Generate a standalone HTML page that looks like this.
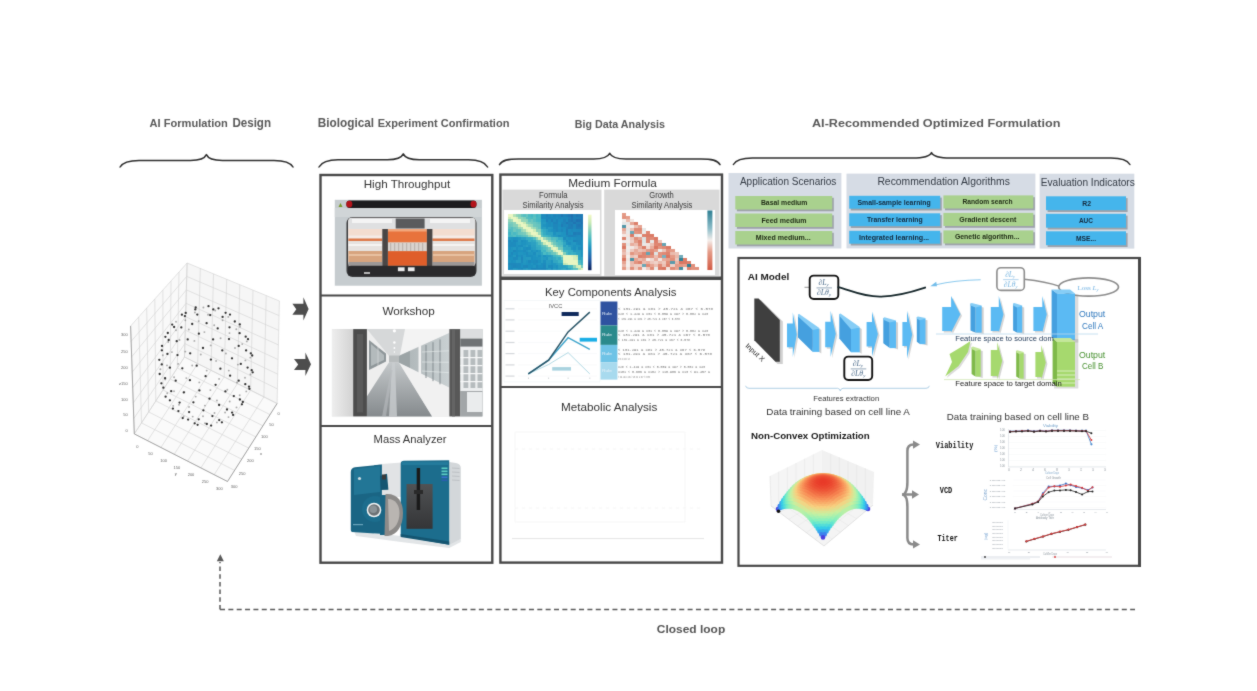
<!DOCTYPE html>
<html><head><meta charset="utf-8"><title>Closed-loop AI formulation</title>
<style>
html,body{margin:0;padding:0;background:#fff;width:1257px;height:691px;overflow:hidden;}
svg{display:block;}
</style></head><body>
<svg width="1257" height="691" viewBox="0 0 1257 691" font-family="'Liberation Sans', sans-serif">
<defs>
<filter id="blur1" x="-10%" y="-30%" width="120%" height="160%"><feGaussianBlur stdDeviation="0.7"/></filter>
<filter id="blur05" x="-10%" y="-10%" width="120%" height="120%"><feGaussianBlur stdDeviation="0.45"/></filter>
<filter id="blur03" x="-10%" y="-10%" width="120%" height="120%"><feGaussianBlur stdDeviation="0.3"/></filter>
<filter id="cblur" x="0" y="0" width="1257" height="691" filterUnits="userSpaceOnUse" color-interpolation-filters="sRGB"><feConvolveMatrix order="3" kernelMatrix="0.0225 0.0750 0.0225 0.0750 0.6100 0.0750 0.0225 0.0750 0.0225" edgeMode="duplicate"/></filter><filter id="gblur" x="0" y="0" width="100%" height="100%" filterUnits="userSpaceOnUse"><feGaussianBlur stdDeviation="0.0"/></filter></defs>
<rect width="1257" height="691" fill="#ffffff"/>
<g filter="url(#cblur)"><text x="149.6" y="126.6" font-size="11" font-weight="bold" fill="#595959" textLength="78.2" lengthAdjust="spacingAndGlyphs">AI Formulation</text>
<text x="232.4" y="126.6" font-size="12" font-weight="bold" fill="#595959" textLength="38.6" lengthAdjust="spacingAndGlyphs">Design</text>
<text x="317.7" y="126.6" font-size="12.2" font-weight="bold" fill="#595959" textLength="56.4" lengthAdjust="spacingAndGlyphs">Biological</text>
<text x="377.7" y="126.6" font-size="10.3" font-weight="bold" fill="#595959" textLength="131.7" lengthAdjust="spacingAndGlyphs">Experiment Confirmation</text>
<text x="574.8" y="127.5" font-size="11.8" font-weight="bold" fill="#595959" textLength="17.1" lengthAdjust="spacingAndGlyphs">Big</text>
<text x="595" y="127.5" font-size="10.2" font-weight="bold" fill="#595959" textLength="70" lengthAdjust="spacingAndGlyphs">Data Analysis</text>
<text x="812" y="127" font-size="11.8" font-weight="bold" fill="#595959" textLength="248.4" lengthAdjust="spacingAndGlyphs">AI-Recommended Optimized Formulation</text>
<path d="M120.1,167 C122.69999999999999,162.4 128.65,160.4 139.1,160.4 L190.4,160.4 C199.20000000000002,160.4 204.6,158.8 206.4,154.6 C208.20000000000002,158.8 213.6,160.4 222.4,160.4 L274,160.4 C284.45,160.4 290.4,162.4 293,167" fill="none" stroke="#2e2e2e" stroke-width="1.5" stroke-linecap="round" stroke-linejoin="round"/>
<path d="M319,167 C321.6,162.4 327.55,159.8 338,159.8 L387.3,159.8 C396.1,159.8 401.5,158.20000000000002 403.3,153.9 C405.1,158.20000000000002 410.5,159.8 419.3,159.8 L468.6,159.8 C479.05,159.8 485.0,162.4 487.6,167" fill="none" stroke="#2e2e2e" stroke-width="1.5" stroke-linecap="round" stroke-linejoin="round"/>
<path d="M499.5,164.6 C502.1,160.0 508.05,159 518.5,159 L593.7,159 C602.5,159 607.9000000000001,157.4 609.7,153.3 C611.5,157.4 616.9000000000001,159 625.7,159 L701,159 C711.45,159 717.4,160.0 720,164.6" fill="none" stroke="#2e2e2e" stroke-width="1.5" stroke-linecap="round" stroke-linejoin="round"/>
<path d="M733.4,164.5 C736.0,159.9 741.9499999999999,158.1 752.4,158.1 L912.5,158.1 C922.95,158.1 929.7,156.5 931.5,152.6 C933.3,156.5 940.05,158.1 950.5,158.1 L1110.9,158.1 C1121.3500000000001,158.1 1127.3000000000002,159.9 1129.9,164.5" fill="none" stroke="#2e2e2e" stroke-width="1.5" stroke-linecap="round" stroke-linejoin="round"/>
<rect x="728.5" y="173" width="112.9" height="75.5" fill="#d6dce5"/>
<rect x="846.5" y="173.6" width="188.9" height="74.8" fill="#d6dce5"/>
<rect x="1039.6" y="173.7" width="94.7" height="74.9" fill="#d6dce5"/>
<text x="739.9" y="184.6" font-size="10" fill="#333a44" textLength="96.5" lengthAdjust="spacingAndGlyphs">Application Scenarios</text>
<text x="877.4" y="184.7" font-size="10" fill="#333a44" textLength="132.5" lengthAdjust="spacingAndGlyphs">Recommendation Algorithms</text>
<text x="1040.7" y="185.6" font-size="10" fill="#333a44" textLength="94.1" lengthAdjust="spacingAndGlyphs">Evaluation Indicators</text>
<rect x="736.9" y="197.8" width="96.90000000000009" height="13.5" fill="#8a8f96" opacity="0.75" filter="url(#blur1)"/>
<rect x="735.3" y="196" width="96.90000000000009" height="13.5" fill="#a9d18e"/>
<text x="760.9" y="205.05" font-size="6.4" font-weight="bold" fill="#1e2a14" textLength="46.5" lengthAdjust="spacingAndGlyphs">Basal medium</text>
<rect x="736.9" y="215.3" width="96.90000000000009" height="13.5" fill="#8a8f96" opacity="0.75" filter="url(#blur1)"/>
<rect x="735.3" y="213.5" width="96.90000000000009" height="13.5" fill="#a9d18e"/>
<text x="761.5" y="222.55" font-size="6.4" font-weight="bold" fill="#1e2a14" textLength="45.1" lengthAdjust="spacingAndGlyphs">Feed medium</text>
<rect x="736.9" y="232.8" width="96.90000000000009" height="13.5" fill="#8a8f96" opacity="0.75" filter="url(#blur1)"/>
<rect x="735.3" y="231" width="96.90000000000009" height="13.5" fill="#a9d18e"/>
<text x="755.8" y="240.05" font-size="6.4" font-weight="bold" fill="#1e2a14" textLength="54.8" lengthAdjust="spacingAndGlyphs">Mixed medium...</text>
<rect x="850.8000000000001" y="197.60000000000002" width="91.0" height="12.899999999999977" fill="#8a8f96" opacity="0.75" filter="url(#blur1)"/>
<rect x="849.2" y="195.8" width="91.0" height="12.899999999999977" fill="#45b5ec"/>
<text x="857.5" y="204.55" font-size="6.4" font-weight="bold" fill="#13293d" textLength="73.2" lengthAdjust="spacingAndGlyphs">Small-sample learning</text>
<rect x="850.8000000000001" y="215.10000000000002" width="91.0" height="12.899999999999977" fill="#8a8f96" opacity="0.75" filter="url(#blur1)"/>
<rect x="849.2" y="213.3" width="91.0" height="12.899999999999977" fill="#45b5ec"/>
<text x="867" y="222.05" font-size="6.4" font-weight="bold" fill="#13293d" textLength="55.7" lengthAdjust="spacingAndGlyphs">Transfer learning</text>
<rect x="850.8000000000001" y="232.60000000000002" width="91.0" height="12.899999999999977" fill="#8a8f96" opacity="0.75" filter="url(#blur1)"/>
<rect x="849.2" y="230.8" width="91.0" height="12.899999999999977" fill="#45b5ec"/>
<text x="859.1" y="239.55" font-size="6.4" font-weight="bold" fill="#13293d" textLength="70" lengthAdjust="spacingAndGlyphs">Integrated learning...</text>
<rect x="945.0" y="197.20000000000002" width="89.89999999999998" height="13.099999999999994" fill="#8a8f96" opacity="0.75" filter="url(#blur1)"/>
<rect x="943.4" y="195.4" width="89.89999999999998" height="13.099999999999994" fill="#a9d18e"/>
<text x="962.5" y="204.25" font-size="6.4" font-weight="bold" fill="#1e2a14" textLength="50.1" lengthAdjust="spacingAndGlyphs">Random search</text>
<rect x="945.0" y="214.70000000000002" width="89.89999999999998" height="13.099999999999994" fill="#8a8f96" opacity="0.75" filter="url(#blur1)"/>
<rect x="943.4" y="212.9" width="89.89999999999998" height="13.099999999999994" fill="#a9d18e"/>
<text x="959.3" y="221.75" font-size="6.4" font-weight="bold" fill="#1e2a14" textLength="57" lengthAdjust="spacingAndGlyphs">Gradient descent</text>
<rect x="945.0" y="232.20000000000002" width="89.89999999999998" height="13.099999999999994" fill="#8a8f96" opacity="0.75" filter="url(#blur1)"/>
<rect x="943.4" y="230.4" width="89.89999999999998" height="13.099999999999994" fill="#a9d18e"/>
<text x="954.9" y="239.25" font-size="6.4" font-weight="bold" fill="#1e2a14" textLength="64.6" lengthAdjust="spacingAndGlyphs">Genetic algorithm...</text>
<rect x="1047.6" y="198.10000000000002" width="80" height="13.899999999999977" fill="#8a8f96" opacity="0.75" filter="url(#blur1)"/>
<rect x="1046" y="196.3" width="80" height="13.899999999999977" fill="#45b5ec"/>
<text x="1082.3" y="205.55" font-size="6.4" font-weight="bold" fill="#13293d" textLength="8.8" lengthAdjust="spacingAndGlyphs">R2</text>
<rect x="1047.6" y="215.60000000000002" width="80" height="13.899999999999977" fill="#8a8f96" opacity="0.75" filter="url(#blur1)"/>
<rect x="1046" y="213.8" width="80" height="13.899999999999977" fill="#45b5ec"/>
<text x="1078.9" y="223.05" font-size="6.4" font-weight="bold" fill="#13293d" textLength="14.1" lengthAdjust="spacingAndGlyphs">AUC</text>
<rect x="1047.6" y="233.10000000000002" width="80" height="13.899999999999977" fill="#8a8f96" opacity="0.75" filter="url(#blur1)"/>
<rect x="1046" y="231.3" width="80" height="13.899999999999977" fill="#45b5ec"/>
<text x="1076" y="240.55" font-size="6.4" font-weight="bold" fill="#13293d" textLength="20.1" lengthAdjust="spacingAndGlyphs">MSE...</text>
<rect x="320.5" y="175" width="171.8" height="387.7" fill="none" stroke="#484848" stroke-width="2.4"/>
<line x1="320.5" y1="295.5" x2="492.3" y2="295.5" stroke="#484848" stroke-width="2.2"/>
<line x1="320.5" y1="426" x2="492.3" y2="426" stroke="#484848" stroke-width="2.2"/>
<rect x="500.4" y="174.6" width="221.6" height="388" fill="none" stroke="#484848" stroke-width="2.4"/>
<line x1="500.4" y1="278.2" x2="722" y2="278.2" stroke="#484848" stroke-width="3.4"/>
<line x1="500.4" y1="386.9" x2="722" y2="386.9" stroke="#484848" stroke-width="2"/>
<rect x="738.5" y="258" width="400.8" height="307.8" fill="none" stroke="#484848" stroke-width="2.2"/>
<line x1="1139.5" y1="257" x2="1139.5" y2="566.9" stroke="#484848" stroke-width="3"/>
<text x="363.7" y="188.4" font-size="11.2" fill="#333333" textLength="86.5" lengthAdjust="spacingAndGlyphs">High Throughput</text>
<text x="382.4" y="315" font-size="11.2" fill="#333333" textLength="52.5" lengthAdjust="spacingAndGlyphs">Workshop</text>
<text x="373.6" y="442.6" font-size="11.2" fill="#333333" textLength="72.9" lengthAdjust="spacingAndGlyphs">Mass Analyzer</text>
<text x="568.2" y="186.6" font-size="10.6" fill="#333333" textLength="88.7" lengthAdjust="spacingAndGlyphs">Medium Formula</text>
<text x="545" y="295.7" font-size="11" fill="#333333" textLength="131.4" lengthAdjust="spacingAndGlyphs">Key Components Analysis</text>
<text x="561" y="410.8" font-size="11" fill="#333333" textLength="96.3" lengthAdjust="spacingAndGlyphs">Metabolic Analysis</text>
<path d="M220,609.5 L1135,609.5" stroke="#5a5a5a" stroke-width="1.5" stroke-dasharray="5 3.35" fill="none"/>
<path d="M220,609.5 L220,562" stroke="#5a5a5a" stroke-width="1.5" stroke-dasharray="4.5 3.2" fill="none"/>
<path d="M220.3,554.3 L223.8,561.2 L216.8,561.2 Z" fill="#5a5a5a"/>
<text x="656.8" y="633.4" font-size="11.4" font-weight="bold" fill="#555555" textLength="68.4" lengthAdjust="spacingAndGlyphs">Closed loop</text>
<path d="M292.4,303.7 L303.4,303.7 L303.4,297.2 L308.6,308.9 L303.4,320.6 L303.4,314.7 L292.4,314.7 L296.3,309.2 Z" fill="#4d4d4d"/>
<path d="M294,359 L305.4,359 L305.4,352.5 L311,364.2 L305.4,375.9 L305.4,370.1 L294,370.1 L298.2,364.5 Z" fill="#4d4d4d"/>
<g>
<rect x="334.8" y="199.8" width="147.1" height="85.9" fill="#c6cccf"/>
<rect x="334.8" y="208" width="147.1" height="9" fill="#d0d5d7"/>
<rect x="346.5" y="200.6" width="129.9" height="7.4" rx="3" fill="#1c1c1e"/>
<rect x="346.3" y="200.8" width="6" height="6.6" rx="3" fill="#b3141b"/>
<rect x="470.5" y="200.8" width="6" height="6.6" rx="3" fill="#b3141b"/>
<path d="M338.5,207 L340.5,203 L342.5,207 Z" fill="#7a9a2a"/>
<rect x="346.5" y="217" width="130" height="60" rx="6" fill="#38393b"/>
<rect x="348" y="217.8" width="127.5" height="48.5" rx="4" fill="#e7e3df"/>
<rect x="348.5" y="218" width="126.5" height="11" rx="3" fill="#dfe0e1"/>
<rect x="352" y="219" width="40" height="4" fill="#f4f4f4"/>
<rect x="430" y="219" width="40" height="4" fill="#f4f4f4"/>
<rect x="395.7" y="218.5" width="28.9" height="10" fill="#5a5b5d"/>
<rect x="348.4" y="229" width="33.900000000000034" height="6.599999999999994" fill="#f3ddd0"/>
<rect x="348.4" y="235.6" width="33.900000000000034" height="2.9000000000000057" fill="#f5ebe6"/>
<rect x="348.4" y="238.5" width="33.900000000000034" height="2.5" fill="#de7a4a"/>
<rect x="348.4" y="241" width="33.900000000000034" height="10" fill="#e6e2df"/>
<rect x="348.4" y="244" width="33.900000000000034" height="2" fill="#f6f4f2"/>
<rect x="348.4" y="251" width="33.900000000000034" height="11" fill="#d7a47e"/>
<rect x="348.4" y="254" width="33.900000000000034" height="2" fill="#e8c0a0"/>
<rect x="348.4" y="262" width="33.900000000000034" height="4.300000000000011" fill="#9c9897"/>
<rect x="432.4" y="229" width="42.10000000000002" height="6.599999999999994" fill="#f3ddd0"/>
<rect x="432.4" y="235.6" width="42.10000000000002" height="2.9000000000000057" fill="#f5ebe6"/>
<rect x="432.4" y="238.5" width="42.10000000000002" height="2.5" fill="#de7a4a"/>
<rect x="432.4" y="241" width="42.10000000000002" height="10" fill="#e6e2df"/>
<rect x="432.4" y="244" width="42.10000000000002" height="2" fill="#f6f4f2"/>
<rect x="432.4" y="251" width="42.10000000000002" height="11" fill="#d7a47e"/>
<rect x="432.4" y="254" width="42.10000000000002" height="2" fill="#e8c0a0"/>
<rect x="432.4" y="262" width="42.10000000000002" height="4.300000000000011" fill="#9c9897"/>
<rect x="387.9" y="229" width="39" height="36.7" fill="#e8733c"/>
<rect x="387.9" y="229" width="39" height="2.5" fill="#f2a77c"/>
<rect x="387.9" y="242.3" width="39" height="9" fill="#d9d3ce"/>
<rect x="387.9" y="251.3" width="39" height="14.4" fill="#df5e2a"/>
<rect x="390" y="243" width="1.2" height="8" fill="#bdb5ae"/>
<rect x="394" y="243" width="1.2" height="8" fill="#bdb5ae"/>
<rect x="398" y="243" width="1.2" height="8" fill="#bdb5ae"/>
<rect x="402" y="243" width="1.2" height="8" fill="#bdb5ae"/>
<rect x="406" y="243" width="1.2" height="8" fill="#bdb5ae"/>
<rect x="410" y="243" width="1.2" height="8" fill="#bdb5ae"/>
<rect x="414" y="243" width="1.2" height="8" fill="#bdb5ae"/>
<rect x="418" y="243" width="1.2" height="8" fill="#bdb5ae"/>
<rect x="422" y="243" width="1.2" height="8" fill="#bdb5ae"/>
<rect x="382.3" y="229" width="5.6" height="37" fill="#4a4645"/>
<rect x="426.9" y="229" width="5.5" height="37" fill="#4a4645"/>
<rect x="348" y="265.7" width="127.5" height="10" rx="3" fill="#2a2a2c"/>
<rect x="397.9" y="267.3" width="6.7" height="3.9" fill="#ececec"/>
<rect x="407.9" y="267.3" width="6.7" height="3.9" fill="#ececec"/>
<rect x="364" y="272" width="6" height="2" fill="#b5b5b5"/>
</g>
<g>
<defs><linearGradient id="wsL" x1="0" y1="0" x2="1" y2="0"><stop offset="0" stop-color="#eeeeee"/><stop offset="1" stop-color="#d2d2d2"/></linearGradient><linearGradient id="wsF" x1="0" y1="0" x2="0" y2="1"><stop offset="0" stop-color="#c4c8ca"/><stop offset="1" stop-color="#858a8d"/></linearGradient><linearGradient id="wsG" x1="0" y1="0" x2="1" y2="0"><stop offset="0" stop-color="#aab2b4"/><stop offset="1" stop-color="#c9d0d2"/></linearGradient></defs>
<rect x="331.9" y="329.1" width="150.5" height="87.29999999999995" fill="#d9dbdc"/>
<polygon points="366.9,329.1 449.4,329.1 449.4,333 399,356 389,356" fill="#d6d8d9"/>
<polygon points="405,329.1 449.4,329.1 449.4,333 400,355" fill="#f3f3f3"/>
<circle cx="394.4" cy="330.8" r="1.6" fill="#ffffff"/>
<circle cx="394.4" cy="342.5" r="1.2" fill="#ffffff"/>
<circle cx="394.4" cy="348" r="0.9" fill="#ffffff"/>
<circle cx="394.4" cy="352" r="0.7" fill="#ffffff"/>
<rect x="389" y="355.5" width="10" height="7" fill="#b8bcbd"/>
<polygon points="366.9,329.1 389,356 389,362.5 366.9,396.5" fill="#eeeeee"/>
<polygon points="369,340 386,353.5 386,361.5 369,370" fill="#8f979a"/>
<polygon points="371,344 384,355 384,360 371,366" fill="#b3babc"/>
<line x1="378" y1="347" x2="378" y2="366" stroke="#e0e0e0" stroke-width="0.6"/>
<polygon points="366.9,396.5 389,362.5 399,362.5 432.2,416.4 366.9,416.4" fill="url(#wsF)"/>
<polygon points="392,362.5 395,362.5 397,416.4 389,416.4" fill="#c9cdcf" opacity="0.8"/>
<polygon points="391,370 392.5,370 386,416.4 382,416.4" fill="#b9bdbf" opacity="0.6"/>
<polygon points="399,362.5 449.4,387.5 449.4,416.4 432.2,416.4" fill="#f1f1f1"/>
<polygon points="399,356 449.4,333 449.4,387.5 399,362.5" fill="url(#wsG)"/>
<polygon points="399,356 410,351 410,367.8 399,362.5" fill="#9ca4a6"/>
<rect x="418.5" y="342" width="2.6" height="34" fill="#f2f2f2"/>
<line x1="426" y1="345.0" x2="426" y2="378.0" stroke="#7d878a" stroke-width="0.9"/>
<line x1="433" y1="342.2" x2="433" y2="381.15" stroke="#7d878a" stroke-width="0.9"/>
<line x1="440" y1="339.4" x2="440" y2="384.3" stroke="#7d878a" stroke-width="0.9"/>
<line x1="422" y1="352" x2="449" y2="350.8" stroke="#e8ecec" stroke-width="0.6"/>
<line x1="422" y1="362" x2="449" y2="362.3" stroke="#e8ecec" stroke-width="0.6"/>
<line x1="422" y1="371" x2="449" y2="372.65" stroke="#e8ecec" stroke-width="0.6"/>
<rect x="331.9" y="329.1" width="21.3" height="87.29999999999995" fill="url(#wsL)"/>
<rect x="353.2" y="329.1" width="13.7" height="87.29999999999995" fill="#4c4c4c"/>
<rect x="357" y="334.1" width="6" height="78.29999999999995" fill="#5a5a5a"/>
<rect x="449.4" y="329.1" width="11" height="87.29999999999995" fill="#585858"/>
<rect x="452" y="329.1" width="3" height="87.29999999999995" fill="#646464"/>
<rect x="460.4" y="329.1" width="22" height="87.29999999999995" fill="#b9bec0"/>
<rect x="460.4" y="329.1" width="22" height="9.6" fill="#dcdedf"/>
<rect x="460.4" y="338.7" width="22" height="8" fill="#6f7375"/>
<rect x="460.4" y="346.7" width="22" height="44.3" fill="#eceeef"/>
<rect x="463.5" y="350" width="4.8" height="38" fill="#b6bcbe"/>
<rect x="470.5" y="350" width="4.8" height="38" fill="#b6bcbe"/>
<rect x="477.5" y="350" width="4.8" height="38" fill="#b6bcbe"/>
<rect x="460.4" y="357" width="22" height="1.2" fill="#f7f8f8"/>
<rect x="460.4" y="365" width="22" height="1.2" fill="#f7f8f8"/>
<rect x="460.4" y="373" width="22" height="1.2" fill="#f7f8f8"/>
<rect x="460.4" y="381" width="22" height="1.2" fill="#f7f8f8"/>
<rect x="460.4" y="391" width="22" height="25.4" fill="#a2a6a8"/>
<rect x="467" y="392" width="15.4" height="20" fill="#eaeced"/>
</g>
<g>
<polygon points="354,531 401,536 449.2,543.5 460.8,539 460.8,542 449.2,548 401,541.9 356,536" fill="#e2e5e7"/>
<path d="M449.2,462 L456,463 Q460.8,464 460.8,468 L460.8,539 L449.2,544.7 Z" fill="#d3d7da"/>
<line x1="452" y1="468" x2="459.5" y2="468.5" stroke="#b3b8bc" stroke-width="0.7"/>
<line x1="452" y1="472" x2="459.5" y2="472.5" stroke="#b3b8bc" stroke-width="0.7"/>
<line x1="452" y1="476" x2="459.5" y2="476.5" stroke="#b3b8bc" stroke-width="0.7"/>
<line x1="452" y1="480" x2="459.5" y2="480.5" stroke="#b3b8bc" stroke-width="0.7"/>
<polygon points="378.3,464.2 401.5,462.5 401.5,497 378.3,497" fill="#e1e3e5"/>
<path d="M400.7,464 Q400.7,460.8 404,460.8 L449.2,460.2 L449.2,544.7 L400.7,536 Z" fill="#1c6d8d"/>
<polygon points="400.7,534 449.2,541.5 449.2,544.7 400.7,537" fill="#145571"/>
<rect x="402" y="462" width="46" height="3" fill="#2a85a6" opacity="0.6"/>
<defs><linearGradient id="maW" x1="0" y1="0" x2="0" y2="1"><stop offset="0" stop-color="#505254"/><stop offset="1" stop-color="#343537"/></linearGradient></defs>
<rect x="406.5" y="484" width="26.1" height="44.8" fill="url(#maW)"/>
<rect x="416.7" y="468" width="3.4" height="42" fill="#1a1a1a"/>
<rect x="414" y="490" width="9" height="4" fill="#2a2a2a"/>
<rect x="441.5" y="467.5" width="6" height="1.6" fill="#5ccfc4"/>
<rect x="441.5" y="470.5" width="6" height="1.6" fill="#5ccfc4"/>
<rect x="441.5" y="473.5" width="6" height="1.6" fill="#5ccfc4"/>
<rect x="441.5" y="476.5" width="6" height="1.6" fill="#3a6fd0"/>
<rect x="441.5" y="479.5" width="6" height="1.6" fill="#2a5fb0"/>
<path d="M350.8,472 Q351,467.8 355,467.3 L381.9,464.4 L381.9,497 L384,534 L352,532 Q350.8,531.5 350.8,530 Z" fill="#1a6584"/>
<path d="M354,469 L380,466 L380,492 L354,495 Z" fill="#2a85a6" opacity="0.55"/>
<circle cx="359.5" cy="478.5" r="1.6" fill="#d0dde2"/>
<polygon points="380,476 387,473.8 388.4,489.7 381,490" fill="#145571"/>
<rect x="382" y="474.5" width="4" height="5" fill="#3b3b3b"/>
<circle cx="375" cy="509" r="13" fill="#1c6d8d"/>
<rect x="380" y="495" width="9" height="40" fill="#1a6584"/>
<path d="M385.5,494 C397,493 403,501 403,513 C403,526 397,535 388,536 L384.5,536 Z" fill="#8c8a88"/>
<path d="M388,499 C396,499 399.5,506 399.5,513 C399.5,522 395,529 389,531 Z" fill="#b9b5b1"/>
<circle cx="374" cy="510" r="7.3" fill="#f2f4f5"/>
<circle cx="374" cy="510" r="5.8" fill="#6b7175"/>
<circle cx="373.3" cy="509.3" r="3.8" fill="#8b9397"/>
<rect x="353" y="524" width="10" height="1.2" fill="#6aa4bb"/>
</g>
<rect x="502.5" y="189.6" width="99" height="86.3" fill="#d9d9d9"/>
<rect x="604.2" y="189.6" width="115.3" height="86.3" fill="#d9d9d9"/>
<rect x="504" y="210" width="96" height="64" fill="#ffffff"/>
<rect x="615" y="210" width="100" height="65" fill="#ffffff"/>
<text x="553.3" y="197.6" font-size="8.2" text-anchor="middle" fill="#3a3a3a" textLength="28.4" lengthAdjust="spacingAndGlyphs">Formula</text>

<text x="522.5" y="208" font-size="8.2" fill="#3a3a3a" textLength="61" lengthAdjust="spacingAndGlyphs">Similarity Analysis</text>

<text x="661.6" y="197.6" font-size="8.2" text-anchor="middle" fill="#3a3a3a" textLength="24.5" lengthAdjust="spacingAndGlyphs">Growth</text>

<text x="631.6" y="208" font-size="8.2" fill="#3a3a3a" textLength="60.8" lengthAdjust="spacingAndGlyphs">Similarity Analysis</text>

<rect x="508.20" y="214.20" width="2.69" height="2.75" fill="#eaf6c2" shape-rendering="crispEdges"/>
<rect x="510.69" y="214.20" width="2.69" height="2.75" fill="#eaf6c2" shape-rendering="crispEdges"/>
<rect x="513.19" y="214.20" width="2.69" height="2.75" fill="#b2e1b6" shape-rendering="crispEdges"/>
<rect x="515.68" y="214.20" width="2.69" height="2.75" fill="#91d4b9" shape-rendering="crispEdges"/>
<rect x="518.17" y="214.20" width="2.69" height="2.75" fill="#81cebb" shape-rendering="crispEdges"/>
<rect x="520.67" y="214.20" width="2.69" height="2.75" fill="#62c2bf" shape-rendering="crispEdges"/>
<rect x="523.16" y="214.20" width="2.69" height="2.75" fill="#55bec1" shape-rendering="crispEdges"/>
<rect x="525.65" y="214.20" width="2.69" height="2.75" fill="#67c4be" shape-rendering="crispEdges"/>
<rect x="528.15" y="214.20" width="2.69" height="2.75" fill="#4cbac2" shape-rendering="crispEdges"/>
<rect x="530.64" y="214.20" width="2.69" height="2.75" fill="#43b7c4" shape-rendering="crispEdges"/>
<rect x="533.13" y="214.20" width="2.69" height="2.75" fill="#56bec1" shape-rendering="crispEdges"/>
<rect x="535.63" y="214.20" width="2.69" height="2.75" fill="#40b5c4" shape-rendering="crispEdges"/>
<rect x="538.12" y="214.20" width="2.69" height="2.75" fill="#48b9c3" shape-rendering="crispEdges"/>
<rect x="540.61" y="214.20" width="2.69" height="2.75" fill="#1e8abd" shape-rendering="crispEdges"/>
<rect x="543.11" y="214.20" width="2.69" height="2.75" fill="#1e8bbd" shape-rendering="crispEdges"/>
<rect x="545.60" y="214.20" width="2.69" height="2.75" fill="#1f80b8" shape-rendering="crispEdges"/>
<rect x="548.09" y="214.20" width="2.69" height="2.75" fill="#1e88bc" shape-rendering="crispEdges"/>
<rect x="550.59" y="214.20" width="2.69" height="2.75" fill="#1e8cbe" shape-rendering="crispEdges"/>
<rect x="553.08" y="214.20" width="2.69" height="2.75" fill="#1e83ba" shape-rendering="crispEdges"/>
<rect x="555.57" y="214.20" width="2.69" height="2.75" fill="#1e87bb" shape-rendering="crispEdges"/>
<rect x="558.07" y="214.20" width="2.69" height="2.75" fill="#1e84ba" shape-rendering="crispEdges"/>
<rect x="560.56" y="214.20" width="2.69" height="2.75" fill="#2076b3" shape-rendering="crispEdges"/>
<rect x="563.05" y="214.20" width="2.69" height="2.75" fill="#1e83b9" shape-rendering="crispEdges"/>
<rect x="565.55" y="214.20" width="2.69" height="2.75" fill="#1f7eb7" shape-rendering="crispEdges"/>
<rect x="568.04" y="214.20" width="2.69" height="2.75" fill="#2077b4" shape-rendering="crispEdges"/>
<rect x="570.53" y="214.20" width="2.69" height="2.75" fill="#2070b0" shape-rendering="crispEdges"/>
<rect x="573.03" y="214.20" width="2.69" height="2.75" fill="#1f80b8" shape-rendering="crispEdges"/>
<rect x="575.52" y="214.20" width="2.69" height="2.75" fill="#2076b3" shape-rendering="crispEdges"/>
<rect x="578.01" y="214.20" width="2.69" height="2.75" fill="#1f7ab5" shape-rendering="crispEdges"/>
<rect x="580.51" y="214.20" width="2.69" height="2.75" fill="#1f7cb6" shape-rendering="crispEdges"/>
<rect x="508.20" y="216.75" width="2.69" height="2.75" fill="#ceecb7" shape-rendering="crispEdges"/>
<rect x="510.69" y="216.75" width="2.69" height="2.75" fill="#eaf6c2" shape-rendering="crispEdges"/>
<rect x="513.19" y="216.75" width="2.69" height="2.75" fill="#eaf6c2" shape-rendering="crispEdges"/>
<rect x="515.68" y="216.75" width="2.69" height="2.75" fill="#d5eeba" shape-rendering="crispEdges"/>
<rect x="518.17" y="216.75" width="2.69" height="2.75" fill="#95d6b9" shape-rendering="crispEdges"/>
<rect x="520.67" y="216.75" width="2.69" height="2.75" fill="#92d4b9" shape-rendering="crispEdges"/>
<rect x="523.16" y="216.75" width="2.69" height="2.75" fill="#82cebb" shape-rendering="crispEdges"/>
<rect x="525.65" y="216.75" width="2.69" height="2.75" fill="#5cc0c0" shape-rendering="crispEdges"/>
<rect x="528.15" y="216.75" width="2.69" height="2.75" fill="#53bdc1" shape-rendering="crispEdges"/>
<rect x="530.64" y="216.75" width="2.69" height="2.75" fill="#4dbbc2" shape-rendering="crispEdges"/>
<rect x="533.13" y="216.75" width="2.69" height="2.75" fill="#5ec1c0" shape-rendering="crispEdges"/>
<rect x="535.63" y="216.75" width="2.69" height="2.75" fill="#46b8c3" shape-rendering="crispEdges"/>
<rect x="538.12" y="216.75" width="2.69" height="2.75" fill="#47b8c3" shape-rendering="crispEdges"/>
<rect x="540.61" y="216.75" width="2.69" height="2.75" fill="#1e89bc" shape-rendering="crispEdges"/>
<rect x="543.11" y="216.75" width="2.69" height="2.75" fill="#1e8bbd" shape-rendering="crispEdges"/>
<rect x="545.60" y="216.75" width="2.69" height="2.75" fill="#1e87bb" shape-rendering="crispEdges"/>
<rect x="548.09" y="216.75" width="2.69" height="2.75" fill="#1e85ba" shape-rendering="crispEdges"/>
<rect x="550.59" y="216.75" width="2.69" height="2.75" fill="#1e88bc" shape-rendering="crispEdges"/>
<rect x="553.08" y="216.75" width="2.69" height="2.75" fill="#1e87bb" shape-rendering="crispEdges"/>
<rect x="555.57" y="216.75" width="2.69" height="2.75" fill="#1e8cbe" shape-rendering="crispEdges"/>
<rect x="558.07" y="216.75" width="2.69" height="2.75" fill="#1e86bb" shape-rendering="crispEdges"/>
<rect x="560.56" y="216.75" width="2.69" height="2.75" fill="#1e89bc" shape-rendering="crispEdges"/>
<rect x="563.05" y="216.75" width="2.69" height="2.75" fill="#1e87bb" shape-rendering="crispEdges"/>
<rect x="565.55" y="216.75" width="2.69" height="2.75" fill="#1e88bc" shape-rendering="crispEdges"/>
<rect x="568.04" y="216.75" width="2.69" height="2.75" fill="#1f80b8" shape-rendering="crispEdges"/>
<rect x="570.53" y="216.75" width="2.69" height="2.75" fill="#2074b3" shape-rendering="crispEdges"/>
<rect x="573.03" y="216.75" width="2.69" height="2.75" fill="#1f81b9" shape-rendering="crispEdges"/>
<rect x="575.52" y="216.75" width="2.69" height="2.75" fill="#1e82b9" shape-rendering="crispEdges"/>
<rect x="578.01" y="216.75" width="2.69" height="2.75" fill="#1f7fb8" shape-rendering="crispEdges"/>
<rect x="580.51" y="216.75" width="2.69" height="2.75" fill="#2077b4" shape-rendering="crispEdges"/>
<rect x="508.20" y="219.29" width="2.69" height="2.75" fill="#93d5b9" shape-rendering="crispEdges"/>
<rect x="510.69" y="219.29" width="2.69" height="2.75" fill="#a6dcb7" shape-rendering="crispEdges"/>
<rect x="513.19" y="219.29" width="2.69" height="2.75" fill="#eaf6c2" shape-rendering="crispEdges"/>
<rect x="515.68" y="219.29" width="2.69" height="2.75" fill="#eaf6c2" shape-rendering="crispEdges"/>
<rect x="518.17" y="219.29" width="2.69" height="2.75" fill="#ddf1bd" shape-rendering="crispEdges"/>
<rect x="520.67" y="219.29" width="2.69" height="2.75" fill="#96d6b9" shape-rendering="crispEdges"/>
<rect x="523.16" y="219.29" width="2.69" height="2.75" fill="#95d6b9" shape-rendering="crispEdges"/>
<rect x="525.65" y="219.29" width="2.69" height="2.75" fill="#8bd2ba" shape-rendering="crispEdges"/>
<rect x="528.15" y="219.29" width="2.69" height="2.75" fill="#60c1c0" shape-rendering="crispEdges"/>
<rect x="530.64" y="219.29" width="2.69" height="2.75" fill="#6dc6be" shape-rendering="crispEdges"/>
<rect x="533.13" y="219.29" width="2.69" height="2.75" fill="#57bec1" shape-rendering="crispEdges"/>
<rect x="535.63" y="219.29" width="2.69" height="2.75" fill="#46b8c3" shape-rendering="crispEdges"/>
<rect x="538.12" y="219.29" width="2.69" height="2.75" fill="#43b7c4" shape-rendering="crispEdges"/>
<rect x="540.61" y="219.29" width="2.69" height="2.75" fill="#2296c1" shape-rendering="crispEdges"/>
<rect x="543.11" y="219.29" width="2.69" height="2.75" fill="#2195c0" shape-rendering="crispEdges"/>
<rect x="545.60" y="219.29" width="2.69" height="2.75" fill="#1e82b9" shape-rendering="crispEdges"/>
<rect x="548.09" y="219.29" width="2.69" height="2.75" fill="#1d8cbe" shape-rendering="crispEdges"/>
<rect x="550.59" y="219.29" width="2.69" height="2.75" fill="#1f7fb8" shape-rendering="crispEdges"/>
<rect x="553.08" y="219.29" width="2.69" height="2.75" fill="#1e8bbd" shape-rendering="crispEdges"/>
<rect x="555.57" y="219.29" width="2.69" height="2.75" fill="#1e82b9" shape-rendering="crispEdges"/>
<rect x="558.07" y="219.29" width="2.69" height="2.75" fill="#1e8cbe" shape-rendering="crispEdges"/>
<rect x="560.56" y="219.29" width="2.69" height="2.75" fill="#1d8cbe" shape-rendering="crispEdges"/>
<rect x="563.05" y="219.29" width="2.69" height="2.75" fill="#1f81b9" shape-rendering="crispEdges"/>
<rect x="565.55" y="219.29" width="2.69" height="2.75" fill="#1e8abd" shape-rendering="crispEdges"/>
<rect x="568.04" y="219.29" width="2.69" height="2.75" fill="#1f7bb5" shape-rendering="crispEdges"/>
<rect x="570.53" y="219.29" width="2.69" height="2.75" fill="#2075b3" shape-rendering="crispEdges"/>
<rect x="573.03" y="219.29" width="2.69" height="2.75" fill="#1f7eb7" shape-rendering="crispEdges"/>
<rect x="575.52" y="219.29" width="2.69" height="2.75" fill="#2071b1" shape-rendering="crispEdges"/>
<rect x="578.01" y="219.29" width="2.69" height="2.75" fill="#2073b2" shape-rendering="crispEdges"/>
<rect x="580.51" y="219.29" width="2.69" height="2.75" fill="#2076b3" shape-rendering="crispEdges"/>
<rect x="508.20" y="221.84" width="2.69" height="2.75" fill="#7bcbbc" shape-rendering="crispEdges"/>
<rect x="510.69" y="221.84" width="2.69" height="2.75" fill="#78cbbc" shape-rendering="crispEdges"/>
<rect x="513.19" y="221.84" width="2.69" height="2.75" fill="#8dd2ba" shape-rendering="crispEdges"/>
<rect x="515.68" y="221.84" width="2.69" height="2.75" fill="#e0f2be" shape-rendering="crispEdges"/>
<rect x="518.17" y="221.84" width="2.69" height="2.75" fill="#eaf6c2" shape-rendering="crispEdges"/>
<rect x="520.67" y="221.84" width="2.69" height="2.75" fill="#eaf6c2" shape-rendering="crispEdges"/>
<rect x="523.16" y="221.84" width="2.69" height="2.75" fill="#caeab5" shape-rendering="crispEdges"/>
<rect x="525.65" y="221.84" width="2.69" height="2.75" fill="#8bd2ba" shape-rendering="crispEdges"/>
<rect x="528.15" y="221.84" width="2.69" height="2.75" fill="#7cccbb" shape-rendering="crispEdges"/>
<rect x="530.64" y="221.84" width="2.69" height="2.75" fill="#72c8bd" shape-rendering="crispEdges"/>
<rect x="533.13" y="221.84" width="2.69" height="2.75" fill="#6bc6be" shape-rendering="crispEdges"/>
<rect x="535.63" y="221.84" width="2.69" height="2.75" fill="#60c1c0" shape-rendering="crispEdges"/>
<rect x="538.12" y="221.84" width="2.69" height="2.75" fill="#56bec1" shape-rendering="crispEdges"/>
<rect x="540.61" y="221.84" width="2.69" height="2.75" fill="#2498c1" shape-rendering="crispEdges"/>
<rect x="543.11" y="221.84" width="2.69" height="2.75" fill="#269ac1" shape-rendering="crispEdges"/>
<rect x="545.60" y="221.84" width="2.69" height="2.75" fill="#1d8fbf" shape-rendering="crispEdges"/>
<rect x="548.09" y="221.84" width="2.69" height="2.75" fill="#1e8bbd" shape-rendering="crispEdges"/>
<rect x="550.59" y="221.84" width="2.69" height="2.75" fill="#1d8fbf" shape-rendering="crispEdges"/>
<rect x="553.08" y="221.84" width="2.69" height="2.75" fill="#1e83ba" shape-rendering="crispEdges"/>
<rect x="555.57" y="221.84" width="2.69" height="2.75" fill="#1e83ba" shape-rendering="crispEdges"/>
<rect x="558.07" y="221.84" width="2.69" height="2.75" fill="#1d90bf" shape-rendering="crispEdges"/>
<rect x="560.56" y="221.84" width="2.69" height="2.75" fill="#1e85ba" shape-rendering="crispEdges"/>
<rect x="563.05" y="221.84" width="2.69" height="2.75" fill="#1e84ba" shape-rendering="crispEdges"/>
<rect x="565.55" y="221.84" width="2.69" height="2.75" fill="#1f78b4" shape-rendering="crispEdges"/>
<rect x="568.04" y="221.84" width="2.69" height="2.75" fill="#1f7fb7" shape-rendering="crispEdges"/>
<rect x="570.53" y="221.84" width="2.69" height="2.75" fill="#1f81b8" shape-rendering="crispEdges"/>
<rect x="573.03" y="221.84" width="2.69" height="2.75" fill="#2074b2" shape-rendering="crispEdges"/>
<rect x="575.52" y="221.84" width="2.69" height="2.75" fill="#1f7fb7" shape-rendering="crispEdges"/>
<rect x="578.01" y="221.84" width="2.69" height="2.75" fill="#1f7eb7" shape-rendering="crispEdges"/>
<rect x="580.51" y="221.84" width="2.69" height="2.75" fill="#2071b1" shape-rendering="crispEdges"/>
<rect x="508.20" y="224.38" width="2.69" height="2.75" fill="#6cc6be" shape-rendering="crispEdges"/>
<rect x="510.69" y="224.38" width="2.69" height="2.75" fill="#72c8bd" shape-rendering="crispEdges"/>
<rect x="513.19" y="224.38" width="2.69" height="2.75" fill="#86d0ba" shape-rendering="crispEdges"/>
<rect x="515.68" y="224.38" width="2.69" height="2.75" fill="#8cd2ba" shape-rendering="crispEdges"/>
<rect x="518.17" y="224.38" width="2.69" height="2.75" fill="#caeab5" shape-rendering="crispEdges"/>
<rect x="520.67" y="224.38" width="2.69" height="2.75" fill="#eaf6c2" shape-rendering="crispEdges"/>
<rect x="523.16" y="224.38" width="2.69" height="2.75" fill="#eaf6c2" shape-rendering="crispEdges"/>
<rect x="525.65" y="224.38" width="2.69" height="2.75" fill="#c8eab5" shape-rendering="crispEdges"/>
<rect x="528.15" y="224.38" width="2.69" height="2.75" fill="#a2dab8" shape-rendering="crispEdges"/>
<rect x="530.64" y="224.38" width="2.69" height="2.75" fill="#95d5b9" shape-rendering="crispEdges"/>
<rect x="533.13" y="224.38" width="2.69" height="2.75" fill="#6ec7be" shape-rendering="crispEdges"/>
<rect x="535.63" y="224.38" width="2.69" height="2.75" fill="#69c5be" shape-rendering="crispEdges"/>
<rect x="538.12" y="224.38" width="2.69" height="2.75" fill="#63c3bf" shape-rendering="crispEdges"/>
<rect x="540.61" y="224.38" width="2.69" height="2.75" fill="#2498c1" shape-rendering="crispEdges"/>
<rect x="543.11" y="224.38" width="2.69" height="2.75" fill="#2094c0" shape-rendering="crispEdges"/>
<rect x="545.60" y="224.38" width="2.69" height="2.75" fill="#1d8fbf" shape-rendering="crispEdges"/>
<rect x="548.09" y="224.38" width="2.69" height="2.75" fill="#1d8dbe" shape-rendering="crispEdges"/>
<rect x="550.59" y="224.38" width="2.69" height="2.75" fill="#1d8fbf" shape-rendering="crispEdges"/>
<rect x="553.08" y="224.38" width="2.69" height="2.75" fill="#1e87bb" shape-rendering="crispEdges"/>
<rect x="555.57" y="224.38" width="2.69" height="2.75" fill="#1e87bb" shape-rendering="crispEdges"/>
<rect x="558.07" y="224.38" width="2.69" height="2.75" fill="#1d8dbe" shape-rendering="crispEdges"/>
<rect x="560.56" y="224.38" width="2.69" height="2.75" fill="#1f7db6" shape-rendering="crispEdges"/>
<rect x="563.05" y="224.38" width="2.69" height="2.75" fill="#1e86bb" shape-rendering="crispEdges"/>
<rect x="565.55" y="224.38" width="2.69" height="2.75" fill="#1e88bc" shape-rendering="crispEdges"/>
<rect x="568.04" y="224.38" width="2.69" height="2.75" fill="#1f7eb7" shape-rendering="crispEdges"/>
<rect x="570.53" y="224.38" width="2.69" height="2.75" fill="#1f7bb6" shape-rendering="crispEdges"/>
<rect x="573.03" y="224.38" width="2.69" height="2.75" fill="#1e86bb" shape-rendering="crispEdges"/>
<rect x="575.52" y="224.38" width="2.69" height="2.75" fill="#1f79b5" shape-rendering="crispEdges"/>
<rect x="578.01" y="224.38" width="2.69" height="2.75" fill="#2076b3" shape-rendering="crispEdges"/>
<rect x="580.51" y="224.38" width="2.69" height="2.75" fill="#1f7ab5" shape-rendering="crispEdges"/>
<rect x="508.20" y="226.93" width="2.69" height="2.75" fill="#61c2bf" shape-rendering="crispEdges"/>
<rect x="510.69" y="226.93" width="2.69" height="2.75" fill="#56bec1" shape-rendering="crispEdges"/>
<rect x="513.19" y="226.93" width="2.69" height="2.75" fill="#69c5be" shape-rendering="crispEdges"/>
<rect x="515.68" y="226.93" width="2.69" height="2.75" fill="#75c9bc" shape-rendering="crispEdges"/>
<rect x="518.17" y="226.93" width="2.69" height="2.75" fill="#96d6b9" shape-rendering="crispEdges"/>
<rect x="520.67" y="226.93" width="2.69" height="2.75" fill="#a9ddb7" shape-rendering="crispEdges"/>
<rect x="523.16" y="226.93" width="2.69" height="2.75" fill="#eaf6c2" shape-rendering="crispEdges"/>
<rect x="525.65" y="226.93" width="2.69" height="2.75" fill="#eaf6c2" shape-rendering="crispEdges"/>
<rect x="528.15" y="226.93" width="2.69" height="2.75" fill="#e3f3c0" shape-rendering="crispEdges"/>
<rect x="530.64" y="226.93" width="2.69" height="2.75" fill="#b1e1b6" shape-rendering="crispEdges"/>
<rect x="533.13" y="226.93" width="2.69" height="2.75" fill="#98d7b9" shape-rendering="crispEdges"/>
<rect x="535.63" y="226.93" width="2.69" height="2.75" fill="#79cbbc" shape-rendering="crispEdges"/>
<rect x="538.12" y="226.93" width="2.69" height="2.75" fill="#65c3bf" shape-rendering="crispEdges"/>
<rect x="540.61" y="226.93" width="2.69" height="2.75" fill="#279cc1" shape-rendering="crispEdges"/>
<rect x="543.11" y="226.93" width="2.69" height="2.75" fill="#2a9ec1" shape-rendering="crispEdges"/>
<rect x="545.60" y="226.93" width="2.69" height="2.75" fill="#1f93c0" shape-rendering="crispEdges"/>
<rect x="548.09" y="226.93" width="2.69" height="2.75" fill="#269ac1" shape-rendering="crispEdges"/>
<rect x="550.59" y="226.93" width="2.69" height="2.75" fill="#2397c1" shape-rendering="crispEdges"/>
<rect x="553.08" y="226.93" width="2.69" height="2.75" fill="#1e88bc" shape-rendering="crispEdges"/>
<rect x="555.57" y="226.93" width="2.69" height="2.75" fill="#1e87bb" shape-rendering="crispEdges"/>
<rect x="558.07" y="226.93" width="2.69" height="2.75" fill="#1d90c0" shape-rendering="crispEdges"/>
<rect x="560.56" y="226.93" width="2.69" height="2.75" fill="#1e8bbd" shape-rendering="crispEdges"/>
<rect x="563.05" y="226.93" width="2.69" height="2.75" fill="#1d8dbe" shape-rendering="crispEdges"/>
<rect x="565.55" y="226.93" width="2.69" height="2.75" fill="#1e82b9" shape-rendering="crispEdges"/>
<rect x="568.04" y="226.93" width="2.69" height="2.75" fill="#1f7db6" shape-rendering="crispEdges"/>
<rect x="570.53" y="226.93" width="2.69" height="2.75" fill="#1f7eb7" shape-rendering="crispEdges"/>
<rect x="573.03" y="226.93" width="2.69" height="2.75" fill="#1e87bb" shape-rendering="crispEdges"/>
<rect x="575.52" y="226.93" width="2.69" height="2.75" fill="#1f7bb6" shape-rendering="crispEdges"/>
<rect x="578.01" y="226.93" width="2.69" height="2.75" fill="#1f7cb6" shape-rendering="crispEdges"/>
<rect x="580.51" y="226.93" width="2.69" height="2.75" fill="#1f7cb6" shape-rendering="crispEdges"/>
<rect x="508.20" y="229.47" width="2.69" height="2.75" fill="#4ebbc2" shape-rendering="crispEdges"/>
<rect x="510.69" y="229.47" width="2.69" height="2.75" fill="#54bdc1" shape-rendering="crispEdges"/>
<rect x="513.19" y="229.47" width="2.69" height="2.75" fill="#6ec7bd" shape-rendering="crispEdges"/>
<rect x="515.68" y="229.47" width="2.69" height="2.75" fill="#5fc1c0" shape-rendering="crispEdges"/>
<rect x="518.17" y="229.47" width="2.69" height="2.75" fill="#65c4bf" shape-rendering="crispEdges"/>
<rect x="520.67" y="229.47" width="2.69" height="2.75" fill="#94d5b9" shape-rendering="crispEdges"/>
<rect x="523.16" y="229.47" width="2.69" height="2.75" fill="#a9ddb7" shape-rendering="crispEdges"/>
<rect x="525.65" y="229.47" width="2.69" height="2.75" fill="#def1bd" shape-rendering="crispEdges"/>
<rect x="528.15" y="229.47" width="2.69" height="2.75" fill="#eaf6c2" shape-rendering="crispEdges"/>
<rect x="530.64" y="229.47" width="2.69" height="2.75" fill="#eaf6c2" shape-rendering="crispEdges"/>
<rect x="533.13" y="229.47" width="2.69" height="2.75" fill="#cfecb7" shape-rendering="crispEdges"/>
<rect x="535.63" y="229.47" width="2.69" height="2.75" fill="#87d0ba" shape-rendering="crispEdges"/>
<rect x="538.12" y="229.47" width="2.69" height="2.75" fill="#88d1ba" shape-rendering="crispEdges"/>
<rect x="540.61" y="229.47" width="2.69" height="2.75" fill="#3eb3c4" shape-rendering="crispEdges"/>
<rect x="543.11" y="229.47" width="2.69" height="2.75" fill="#34a9c3" shape-rendering="crispEdges"/>
<rect x="545.60" y="229.47" width="2.69" height="2.75" fill="#2ba0c2" shape-rendering="crispEdges"/>
<rect x="548.09" y="229.47" width="2.69" height="2.75" fill="#2296c1" shape-rendering="crispEdges"/>
<rect x="550.59" y="229.47" width="2.69" height="2.75" fill="#1f93c0" shape-rendering="crispEdges"/>
<rect x="553.08" y="229.47" width="2.69" height="2.75" fill="#1d8cbe" shape-rendering="crispEdges"/>
<rect x="555.57" y="229.47" width="2.69" height="2.75" fill="#1e86bb" shape-rendering="crispEdges"/>
<rect x="558.07" y="229.47" width="2.69" height="2.75" fill="#1d8ebf" shape-rendering="crispEdges"/>
<rect x="560.56" y="229.47" width="2.69" height="2.75" fill="#1e86bb" shape-rendering="crispEdges"/>
<rect x="563.05" y="229.47" width="2.69" height="2.75" fill="#1d8fbf" shape-rendering="crispEdges"/>
<rect x="565.55" y="229.47" width="2.69" height="2.75" fill="#1f7eb7" shape-rendering="crispEdges"/>
<rect x="568.04" y="229.47" width="2.69" height="2.75" fill="#1d8ebf" shape-rendering="crispEdges"/>
<rect x="570.53" y="229.47" width="2.69" height="2.75" fill="#1e89bc" shape-rendering="crispEdges"/>
<rect x="573.03" y="229.47" width="2.69" height="2.75" fill="#1e8cbe" shape-rendering="crispEdges"/>
<rect x="575.52" y="229.47" width="2.69" height="2.75" fill="#1e8abd" shape-rendering="crispEdges"/>
<rect x="578.01" y="229.47" width="2.69" height="2.75" fill="#1e89bc" shape-rendering="crispEdges"/>
<rect x="580.51" y="229.47" width="2.69" height="2.75" fill="#1f81b8" shape-rendering="crispEdges"/>
<rect x="508.20" y="232.02" width="2.69" height="2.75" fill="#3eb2c4" shape-rendering="crispEdges"/>
<rect x="510.69" y="232.02" width="2.69" height="2.75" fill="#57bec1" shape-rendering="crispEdges"/>
<rect x="513.19" y="232.02" width="2.69" height="2.75" fill="#4ab9c3" shape-rendering="crispEdges"/>
<rect x="515.68" y="232.02" width="2.69" height="2.75" fill="#56bec1" shape-rendering="crispEdges"/>
<rect x="518.17" y="232.02" width="2.69" height="2.75" fill="#6cc6be" shape-rendering="crispEdges"/>
<rect x="520.67" y="232.02" width="2.69" height="2.75" fill="#72c8bd" shape-rendering="crispEdges"/>
<rect x="523.16" y="232.02" width="2.69" height="2.75" fill="#7bcbbc" shape-rendering="crispEdges"/>
<rect x="525.65" y="232.02" width="2.69" height="2.75" fill="#a0dab8" shape-rendering="crispEdges"/>
<rect x="528.15" y="232.02" width="2.69" height="2.75" fill="#c1e7b5" shape-rendering="crispEdges"/>
<rect x="530.64" y="232.02" width="2.69" height="2.75" fill="#eaf6c2" shape-rendering="crispEdges"/>
<rect x="533.13" y="232.02" width="2.69" height="2.75" fill="#eaf6c2" shape-rendering="crispEdges"/>
<rect x="535.63" y="232.02" width="2.69" height="2.75" fill="#e0f2be" shape-rendering="crispEdges"/>
<rect x="538.12" y="232.02" width="2.69" height="2.75" fill="#9ed9b8" shape-rendering="crispEdges"/>
<rect x="540.61" y="232.02" width="2.69" height="2.75" fill="#4bbac3" shape-rendering="crispEdges"/>
<rect x="543.11" y="232.02" width="2.69" height="2.75" fill="#37acc3" shape-rendering="crispEdges"/>
<rect x="545.60" y="232.02" width="2.69" height="2.75" fill="#2da2c2" shape-rendering="crispEdges"/>
<rect x="548.09" y="232.02" width="2.69" height="2.75" fill="#2ea2c2" shape-rendering="crispEdges"/>
<rect x="550.59" y="232.02" width="2.69" height="2.75" fill="#2ea3c2" shape-rendering="crispEdges"/>
<rect x="553.08" y="232.02" width="2.69" height="2.75" fill="#1d91c0" shape-rendering="crispEdges"/>
<rect x="555.57" y="232.02" width="2.69" height="2.75" fill="#2599c1" shape-rendering="crispEdges"/>
<rect x="558.07" y="232.02" width="2.69" height="2.75" fill="#2498c1" shape-rendering="crispEdges"/>
<rect x="560.56" y="232.02" width="2.69" height="2.75" fill="#1f94c0" shape-rendering="crispEdges"/>
<rect x="563.05" y="232.02" width="2.69" height="2.75" fill="#1e92c0" shape-rendering="crispEdges"/>
<rect x="565.55" y="232.02" width="2.69" height="2.75" fill="#1f7fb8" shape-rendering="crispEdges"/>
<rect x="568.04" y="232.02" width="2.69" height="2.75" fill="#1e8bbd" shape-rendering="crispEdges"/>
<rect x="570.53" y="232.02" width="2.69" height="2.75" fill="#1d8ebf" shape-rendering="crispEdges"/>
<rect x="573.03" y="232.02" width="2.69" height="2.75" fill="#1f7cb6" shape-rendering="crispEdges"/>
<rect x="575.52" y="232.02" width="2.69" height="2.75" fill="#1f7fb8" shape-rendering="crispEdges"/>
<rect x="578.01" y="232.02" width="2.69" height="2.75" fill="#1f7eb7" shape-rendering="crispEdges"/>
<rect x="580.51" y="232.02" width="2.69" height="2.75" fill="#1f82b9" shape-rendering="crispEdges"/>
<rect x="508.20" y="234.56" width="2.69" height="2.75" fill="#45b8c3" shape-rendering="crispEdges"/>
<rect x="510.69" y="234.56" width="2.69" height="2.75" fill="#49b9c3" shape-rendering="crispEdges"/>
<rect x="513.19" y="234.56" width="2.69" height="2.75" fill="#57bec1" shape-rendering="crispEdges"/>
<rect x="515.68" y="234.56" width="2.69" height="2.75" fill="#42b6c4" shape-rendering="crispEdges"/>
<rect x="518.17" y="234.56" width="2.69" height="2.75" fill="#4bbac3" shape-rendering="crispEdges"/>
<rect x="520.67" y="234.56" width="2.69" height="2.75" fill="#56bec1" shape-rendering="crispEdges"/>
<rect x="523.16" y="234.56" width="2.69" height="2.75" fill="#61c2bf" shape-rendering="crispEdges"/>
<rect x="525.65" y="234.56" width="2.69" height="2.75" fill="#6bc6be" shape-rendering="crispEdges"/>
<rect x="528.15" y="234.56" width="2.69" height="2.75" fill="#9ad7b8" shape-rendering="crispEdges"/>
<rect x="530.64" y="234.56" width="2.69" height="2.75" fill="#b4e2b6" shape-rendering="crispEdges"/>
<rect x="533.13" y="234.56" width="2.69" height="2.75" fill="#d8efbb" shape-rendering="crispEdges"/>
<rect x="535.63" y="234.56" width="2.69" height="2.75" fill="#eaf6c2" shape-rendering="crispEdges"/>
<rect x="538.12" y="234.56" width="2.69" height="2.75" fill="#e8f5c1" shape-rendering="crispEdges"/>
<rect x="540.61" y="234.56" width="2.69" height="2.75" fill="#62c2bf" shape-rendering="crispEdges"/>
<rect x="543.11" y="234.56" width="2.69" height="2.75" fill="#43b7c4" shape-rendering="crispEdges"/>
<rect x="545.60" y="234.56" width="2.69" height="2.75" fill="#3fb4c4" shape-rendering="crispEdges"/>
<rect x="548.09" y="234.56" width="2.69" height="2.75" fill="#37acc3" shape-rendering="crispEdges"/>
<rect x="550.59" y="234.56" width="2.69" height="2.75" fill="#2da1c2" shape-rendering="crispEdges"/>
<rect x="553.08" y="234.56" width="2.69" height="2.75" fill="#2498c1" shape-rendering="crispEdges"/>
<rect x="555.57" y="234.56" width="2.69" height="2.75" fill="#2296c1" shape-rendering="crispEdges"/>
<rect x="558.07" y="234.56" width="2.69" height="2.75" fill="#1d8dbe" shape-rendering="crispEdges"/>
<rect x="560.56" y="234.56" width="2.69" height="2.75" fill="#1e92c0" shape-rendering="crispEdges"/>
<rect x="563.05" y="234.56" width="2.69" height="2.75" fill="#1f93c0" shape-rendering="crispEdges"/>
<rect x="565.55" y="234.56" width="2.69" height="2.75" fill="#1e8abc" shape-rendering="crispEdges"/>
<rect x="568.04" y="234.56" width="2.69" height="2.75" fill="#1f82b9" shape-rendering="crispEdges"/>
<rect x="570.53" y="234.56" width="2.69" height="2.75" fill="#1e82b9" shape-rendering="crispEdges"/>
<rect x="573.03" y="234.56" width="2.69" height="2.75" fill="#1e84ba" shape-rendering="crispEdges"/>
<rect x="575.52" y="234.56" width="2.69" height="2.75" fill="#1e88bc" shape-rendering="crispEdges"/>
<rect x="578.01" y="234.56" width="2.69" height="2.75" fill="#1e8abd" shape-rendering="crispEdges"/>
<rect x="580.51" y="234.56" width="2.69" height="2.75" fill="#1f80b8" shape-rendering="crispEdges"/>
<rect x="508.20" y="237.11" width="2.69" height="2.75" fill="#2398c1" shape-rendering="crispEdges"/>
<rect x="510.69" y="237.11" width="2.69" height="2.75" fill="#2195c0" shape-rendering="crispEdges"/>
<rect x="513.19" y="237.11" width="2.69" height="2.75" fill="#1e92c0" shape-rendering="crispEdges"/>
<rect x="515.68" y="237.11" width="2.69" height="2.75" fill="#1f93c0" shape-rendering="crispEdges"/>
<rect x="518.17" y="237.11" width="2.69" height="2.75" fill="#2498c1" shape-rendering="crispEdges"/>
<rect x="520.67" y="237.11" width="2.69" height="2.75" fill="#2ba0c2" shape-rendering="crispEdges"/>
<rect x="523.16" y="237.11" width="2.69" height="2.75" fill="#2b9fc2" shape-rendering="crispEdges"/>
<rect x="525.65" y="237.11" width="2.69" height="2.75" fill="#36aac3" shape-rendering="crispEdges"/>
<rect x="528.15" y="237.11" width="2.69" height="2.75" fill="#38adc3" shape-rendering="crispEdges"/>
<rect x="530.64" y="237.11" width="2.69" height="2.75" fill="#3bb0c3" shape-rendering="crispEdges"/>
<rect x="533.13" y="237.11" width="2.69" height="2.75" fill="#53bdc1" shape-rendering="crispEdges"/>
<rect x="535.63" y="237.11" width="2.69" height="2.75" fill="#8dd2ba" shape-rendering="crispEdges"/>
<rect x="538.12" y="237.11" width="2.69" height="2.75" fill="#c9eab5" shape-rendering="crispEdges"/>
<rect x="540.61" y="237.11" width="2.69" height="2.75" fill="#e5f4c0" shape-rendering="crispEdges"/>
<rect x="543.11" y="237.11" width="2.69" height="2.75" fill="#a2dab8" shape-rendering="crispEdges"/>
<rect x="545.60" y="237.11" width="2.69" height="2.75" fill="#7dccbb" shape-rendering="crispEdges"/>
<rect x="548.09" y="237.11" width="2.69" height="2.75" fill="#6dc6be" shape-rendering="crispEdges"/>
<rect x="550.59" y="237.11" width="2.69" height="2.75" fill="#4ebbc2" shape-rendering="crispEdges"/>
<rect x="553.08" y="237.11" width="2.69" height="2.75" fill="#54bdc1" shape-rendering="crispEdges"/>
<rect x="555.57" y="237.11" width="2.69" height="2.75" fill="#47b8c3" shape-rendering="crispEdges"/>
<rect x="558.07" y="237.11" width="2.69" height="2.75" fill="#35aac3" shape-rendering="crispEdges"/>
<rect x="560.56" y="237.11" width="2.69" height="2.75" fill="#34a9c3" shape-rendering="crispEdges"/>
<rect x="563.05" y="237.11" width="2.69" height="2.75" fill="#1e8bbd" shape-rendering="crispEdges"/>
<rect x="565.55" y="237.11" width="2.69" height="2.75" fill="#2195c0" shape-rendering="crispEdges"/>
<rect x="568.04" y="237.11" width="2.69" height="2.75" fill="#1d90c0" shape-rendering="crispEdges"/>
<rect x="570.53" y="237.11" width="2.69" height="2.75" fill="#1f93c0" shape-rendering="crispEdges"/>
<rect x="573.03" y="237.11" width="2.69" height="2.75" fill="#1d8fbf" shape-rendering="crispEdges"/>
<rect x="575.52" y="237.11" width="2.69" height="2.75" fill="#1e8bbd" shape-rendering="crispEdges"/>
<rect x="578.01" y="237.11" width="2.69" height="2.75" fill="#1e8bbd" shape-rendering="crispEdges"/>
<rect x="580.51" y="237.11" width="2.69" height="2.75" fill="#1e86bb" shape-rendering="crispEdges"/>
<rect x="508.20" y="239.65" width="2.69" height="2.75" fill="#1e89bc" shape-rendering="crispEdges"/>
<rect x="510.69" y="239.65" width="2.69" height="2.75" fill="#1f93c0" shape-rendering="crispEdges"/>
<rect x="513.19" y="239.65" width="2.69" height="2.75" fill="#1e88bc" shape-rendering="crispEdges"/>
<rect x="515.68" y="239.65" width="2.69" height="2.75" fill="#1e8cbe" shape-rendering="crispEdges"/>
<rect x="518.17" y="239.65" width="2.69" height="2.75" fill="#269ac1" shape-rendering="crispEdges"/>
<rect x="520.67" y="239.65" width="2.69" height="2.75" fill="#1d8ebe" shape-rendering="crispEdges"/>
<rect x="523.16" y="239.65" width="2.69" height="2.75" fill="#1e92c0" shape-rendering="crispEdges"/>
<rect x="525.65" y="239.65" width="2.69" height="2.75" fill="#2397c1" shape-rendering="crispEdges"/>
<rect x="528.15" y="239.65" width="2.69" height="2.75" fill="#37acc3" shape-rendering="crispEdges"/>
<rect x="530.64" y="239.65" width="2.69" height="2.75" fill="#30a5c2" shape-rendering="crispEdges"/>
<rect x="533.13" y="239.65" width="2.69" height="2.75" fill="#34a9c3" shape-rendering="crispEdges"/>
<rect x="535.63" y="239.65" width="2.69" height="2.75" fill="#54bdc1" shape-rendering="crispEdges"/>
<rect x="538.12" y="239.65" width="2.69" height="2.75" fill="#60c2bf" shape-rendering="crispEdges"/>
<rect x="540.61" y="239.65" width="2.69" height="2.75" fill="#e2f3bf" shape-rendering="crispEdges"/>
<rect x="543.11" y="239.65" width="2.69" height="2.75" fill="#eaf6c2" shape-rendering="crispEdges"/>
<rect x="545.60" y="239.65" width="2.69" height="2.75" fill="#cdebb7" shape-rendering="crispEdges"/>
<rect x="548.09" y="239.65" width="2.69" height="2.75" fill="#8dd3ba" shape-rendering="crispEdges"/>
<rect x="550.59" y="239.65" width="2.69" height="2.75" fill="#67c4bf" shape-rendering="crispEdges"/>
<rect x="553.08" y="239.65" width="2.69" height="2.75" fill="#61c2bf" shape-rendering="crispEdges"/>
<rect x="555.57" y="239.65" width="2.69" height="2.75" fill="#3eb3c4" shape-rendering="crispEdges"/>
<rect x="558.07" y="239.65" width="2.69" height="2.75" fill="#4ab9c3" shape-rendering="crispEdges"/>
<rect x="560.56" y="239.65" width="2.69" height="2.75" fill="#3cb1c3" shape-rendering="crispEdges"/>
<rect x="563.05" y="239.65" width="2.69" height="2.75" fill="#289cc1" shape-rendering="crispEdges"/>
<rect x="565.55" y="239.65" width="2.69" height="2.75" fill="#1e8cbd" shape-rendering="crispEdges"/>
<rect x="568.04" y="239.65" width="2.69" height="2.75" fill="#2195c0" shape-rendering="crispEdges"/>
<rect x="570.53" y="239.65" width="2.69" height="2.75" fill="#2296c1" shape-rendering="crispEdges"/>
<rect x="573.03" y="239.65" width="2.69" height="2.75" fill="#1e83b9" shape-rendering="crispEdges"/>
<rect x="575.52" y="239.65" width="2.69" height="2.75" fill="#1e86bb" shape-rendering="crispEdges"/>
<rect x="578.01" y="239.65" width="2.69" height="2.75" fill="#1e89bc" shape-rendering="crispEdges"/>
<rect x="580.51" y="239.65" width="2.69" height="2.75" fill="#1d8dbe" shape-rendering="crispEdges"/>
<rect x="508.20" y="242.20" width="2.69" height="2.75" fill="#1e8cbe" shape-rendering="crispEdges"/>
<rect x="510.69" y="242.20" width="2.69" height="2.75" fill="#1e8bbd" shape-rendering="crispEdges"/>
<rect x="513.19" y="242.20" width="2.69" height="2.75" fill="#1d8cbe" shape-rendering="crispEdges"/>
<rect x="515.68" y="242.20" width="2.69" height="2.75" fill="#2094c0" shape-rendering="crispEdges"/>
<rect x="518.17" y="242.20" width="2.69" height="2.75" fill="#2398c1" shape-rendering="crispEdges"/>
<rect x="520.67" y="242.20" width="2.69" height="2.75" fill="#1e92c0" shape-rendering="crispEdges"/>
<rect x="523.16" y="242.20" width="2.69" height="2.75" fill="#1f93c0" shape-rendering="crispEdges"/>
<rect x="525.65" y="242.20" width="2.69" height="2.75" fill="#2297c1" shape-rendering="crispEdges"/>
<rect x="528.15" y="242.20" width="2.69" height="2.75" fill="#269ac1" shape-rendering="crispEdges"/>
<rect x="530.64" y="242.20" width="2.69" height="2.75" fill="#2ca0c2" shape-rendering="crispEdges"/>
<rect x="533.13" y="242.20" width="2.69" height="2.75" fill="#2ca0c2" shape-rendering="crispEdges"/>
<rect x="535.63" y="242.20" width="2.69" height="2.75" fill="#3bafc3" shape-rendering="crispEdges"/>
<rect x="538.12" y="242.20" width="2.69" height="2.75" fill="#53bcc1" shape-rendering="crispEdges"/>
<rect x="540.61" y="242.20" width="2.69" height="2.75" fill="#7acbbc" shape-rendering="crispEdges"/>
<rect x="543.11" y="242.20" width="2.69" height="2.75" fill="#cbebb6" shape-rendering="crispEdges"/>
<rect x="545.60" y="242.20" width="2.69" height="2.75" fill="#eaf6c2" shape-rendering="crispEdges"/>
<rect x="548.09" y="242.20" width="2.69" height="2.75" fill="#def1be" shape-rendering="crispEdges"/>
<rect x="550.59" y="242.20" width="2.69" height="2.75" fill="#9ad8b8" shape-rendering="crispEdges"/>
<rect x="553.08" y="242.20" width="2.69" height="2.75" fill="#70c7bd" shape-rendering="crispEdges"/>
<rect x="555.57" y="242.20" width="2.69" height="2.75" fill="#5cc0c0" shape-rendering="crispEdges"/>
<rect x="558.07" y="242.20" width="2.69" height="2.75" fill="#4fbbc2" shape-rendering="crispEdges"/>
<rect x="560.56" y="242.20" width="2.69" height="2.75" fill="#49b9c3" shape-rendering="crispEdges"/>
<rect x="563.05" y="242.20" width="2.69" height="2.75" fill="#32a6c2" shape-rendering="crispEdges"/>
<rect x="565.55" y="242.20" width="2.69" height="2.75" fill="#1f93c0" shape-rendering="crispEdges"/>
<rect x="568.04" y="242.20" width="2.69" height="2.75" fill="#1d8dbe" shape-rendering="crispEdges"/>
<rect x="570.53" y="242.20" width="2.69" height="2.75" fill="#2296c1" shape-rendering="crispEdges"/>
<rect x="573.03" y="242.20" width="2.69" height="2.75" fill="#2397c1" shape-rendering="crispEdges"/>
<rect x="575.52" y="242.20" width="2.69" height="2.75" fill="#1d8dbe" shape-rendering="crispEdges"/>
<rect x="578.01" y="242.20" width="2.69" height="2.75" fill="#1e89bc" shape-rendering="crispEdges"/>
<rect x="580.51" y="242.20" width="2.69" height="2.75" fill="#1d8dbe" shape-rendering="crispEdges"/>
<rect x="508.20" y="244.75" width="2.69" height="2.75" fill="#1e8bbd" shape-rendering="crispEdges"/>
<rect x="510.69" y="244.75" width="2.69" height="2.75" fill="#1d8cbe" shape-rendering="crispEdges"/>
<rect x="513.19" y="244.75" width="2.69" height="2.75" fill="#1e8bbd" shape-rendering="crispEdges"/>
<rect x="515.68" y="244.75" width="2.69" height="2.75" fill="#1f93c0" shape-rendering="crispEdges"/>
<rect x="518.17" y="244.75" width="2.69" height="2.75" fill="#1d8ebf" shape-rendering="crispEdges"/>
<rect x="520.67" y="244.75" width="2.69" height="2.75" fill="#1d8dbe" shape-rendering="crispEdges"/>
<rect x="523.16" y="244.75" width="2.69" height="2.75" fill="#2397c1" shape-rendering="crispEdges"/>
<rect x="525.65" y="244.75" width="2.69" height="2.75" fill="#2a9ec1" shape-rendering="crispEdges"/>
<rect x="528.15" y="244.75" width="2.69" height="2.75" fill="#1f93c0" shape-rendering="crispEdges"/>
<rect x="530.64" y="244.75" width="2.69" height="2.75" fill="#2b9fc2" shape-rendering="crispEdges"/>
<rect x="533.13" y="244.75" width="2.69" height="2.75" fill="#2a9ec1" shape-rendering="crispEdges"/>
<rect x="535.63" y="244.75" width="2.69" height="2.75" fill="#38adc3" shape-rendering="crispEdges"/>
<rect x="538.12" y="244.75" width="2.69" height="2.75" fill="#3aaec3" shape-rendering="crispEdges"/>
<rect x="540.61" y="244.75" width="2.69" height="2.75" fill="#57bec1" shape-rendering="crispEdges"/>
<rect x="543.11" y="244.75" width="2.69" height="2.75" fill="#67c4be" shape-rendering="crispEdges"/>
<rect x="545.60" y="244.75" width="2.69" height="2.75" fill="#92d4b9" shape-rendering="crispEdges"/>
<rect x="548.09" y="244.75" width="2.69" height="2.75" fill="#e6f4c1" shape-rendering="crispEdges"/>
<rect x="550.59" y="244.75" width="2.69" height="2.75" fill="#e8f5c1" shape-rendering="crispEdges"/>
<rect x="553.08" y="244.75" width="2.69" height="2.75" fill="#9fdab8" shape-rendering="crispEdges"/>
<rect x="555.57" y="244.75" width="2.69" height="2.75" fill="#6ec7bd" shape-rendering="crispEdges"/>
<rect x="558.07" y="244.75" width="2.69" height="2.75" fill="#5abfc0" shape-rendering="crispEdges"/>
<rect x="560.56" y="244.75" width="2.69" height="2.75" fill="#5dc0c0" shape-rendering="crispEdges"/>
<rect x="563.05" y="244.75" width="2.69" height="2.75" fill="#2ba0c2" shape-rendering="crispEdges"/>
<rect x="565.55" y="244.75" width="2.69" height="2.75" fill="#36aac3" shape-rendering="crispEdges"/>
<rect x="568.04" y="244.75" width="2.69" height="2.75" fill="#279bc1" shape-rendering="crispEdges"/>
<rect x="570.53" y="244.75" width="2.69" height="2.75" fill="#2498c1" shape-rendering="crispEdges"/>
<rect x="573.03" y="244.75" width="2.69" height="2.75" fill="#1e92c0" shape-rendering="crispEdges"/>
<rect x="575.52" y="244.75" width="2.69" height="2.75" fill="#2296c1" shape-rendering="crispEdges"/>
<rect x="578.01" y="244.75" width="2.69" height="2.75" fill="#1f93c0" shape-rendering="crispEdges"/>
<rect x="580.51" y="244.75" width="2.69" height="2.75" fill="#1d8cbe" shape-rendering="crispEdges"/>
<rect x="508.20" y="247.29" width="2.69" height="2.75" fill="#1d91c0" shape-rendering="crispEdges"/>
<rect x="510.69" y="247.29" width="2.69" height="2.75" fill="#2195c0" shape-rendering="crispEdges"/>
<rect x="513.19" y="247.29" width="2.69" height="2.75" fill="#2498c1" shape-rendering="crispEdges"/>
<rect x="515.68" y="247.29" width="2.69" height="2.75" fill="#1d8fbf" shape-rendering="crispEdges"/>
<rect x="518.17" y="247.29" width="2.69" height="2.75" fill="#2296c1" shape-rendering="crispEdges"/>
<rect x="520.67" y="247.29" width="2.69" height="2.75" fill="#269bc1" shape-rendering="crispEdges"/>
<rect x="523.16" y="247.29" width="2.69" height="2.75" fill="#1d91c0" shape-rendering="crispEdges"/>
<rect x="525.65" y="247.29" width="2.69" height="2.75" fill="#1d8dbe" shape-rendering="crispEdges"/>
<rect x="528.15" y="247.29" width="2.69" height="2.75" fill="#1d8fbf" shape-rendering="crispEdges"/>
<rect x="530.64" y="247.29" width="2.69" height="2.75" fill="#269bc1" shape-rendering="crispEdges"/>
<rect x="533.13" y="247.29" width="2.69" height="2.75" fill="#299dc1" shape-rendering="crispEdges"/>
<rect x="535.63" y="247.29" width="2.69" height="2.75" fill="#33a7c2" shape-rendering="crispEdges"/>
<rect x="538.12" y="247.29" width="2.69" height="2.75" fill="#36abc3" shape-rendering="crispEdges"/>
<rect x="540.61" y="247.29" width="2.69" height="2.75" fill="#46b8c3" shape-rendering="crispEdges"/>
<rect x="543.11" y="247.29" width="2.69" height="2.75" fill="#50bcc2" shape-rendering="crispEdges"/>
<rect x="545.60" y="247.29" width="2.69" height="2.75" fill="#61c2bf" shape-rendering="crispEdges"/>
<rect x="548.09" y="247.29" width="2.69" height="2.75" fill="#7fcdbb" shape-rendering="crispEdges"/>
<rect x="550.59" y="247.29" width="2.69" height="2.75" fill="#daf0bc" shape-rendering="crispEdges"/>
<rect x="553.08" y="247.29" width="2.69" height="2.75" fill="#eaf6c2" shape-rendering="crispEdges"/>
<rect x="555.57" y="247.29" width="2.69" height="2.75" fill="#d4eeb9" shape-rendering="crispEdges"/>
<rect x="558.07" y="247.29" width="2.69" height="2.75" fill="#78cabc" shape-rendering="crispEdges"/>
<rect x="560.56" y="247.29" width="2.69" height="2.75" fill="#71c8bd" shape-rendering="crispEdges"/>
<rect x="563.05" y="247.29" width="2.69" height="2.75" fill="#38acc3" shape-rendering="crispEdges"/>
<rect x="565.55" y="247.29" width="2.69" height="2.75" fill="#33a8c2" shape-rendering="crispEdges"/>
<rect x="568.04" y="247.29" width="2.69" height="2.75" fill="#33a7c2" shape-rendering="crispEdges"/>
<rect x="570.53" y="247.29" width="2.69" height="2.75" fill="#2195c0" shape-rendering="crispEdges"/>
<rect x="573.03" y="247.29" width="2.69" height="2.75" fill="#1d90c0" shape-rendering="crispEdges"/>
<rect x="575.52" y="247.29" width="2.69" height="2.75" fill="#269ac1" shape-rendering="crispEdges"/>
<rect x="578.01" y="247.29" width="2.69" height="2.75" fill="#1d8cbe" shape-rendering="crispEdges"/>
<rect x="580.51" y="247.29" width="2.69" height="2.75" fill="#1e8bbd" shape-rendering="crispEdges"/>
<rect x="508.20" y="249.84" width="2.69" height="2.75" fill="#1f93c0" shape-rendering="crispEdges"/>
<rect x="510.69" y="249.84" width="2.69" height="2.75" fill="#2094c0" shape-rendering="crispEdges"/>
<rect x="513.19" y="249.84" width="2.69" height="2.75" fill="#1e87bb" shape-rendering="crispEdges"/>
<rect x="515.68" y="249.84" width="2.69" height="2.75" fill="#1d8ebe" shape-rendering="crispEdges"/>
<rect x="518.17" y="249.84" width="2.69" height="2.75" fill="#1d90bf" shape-rendering="crispEdges"/>
<rect x="520.67" y="249.84" width="2.69" height="2.75" fill="#1d91c0" shape-rendering="crispEdges"/>
<rect x="523.16" y="249.84" width="2.69" height="2.75" fill="#1e8bbd" shape-rendering="crispEdges"/>
<rect x="525.65" y="249.84" width="2.69" height="2.75" fill="#1f93c0" shape-rendering="crispEdges"/>
<rect x="528.15" y="249.84" width="2.69" height="2.75" fill="#279bc1" shape-rendering="crispEdges"/>
<rect x="530.64" y="249.84" width="2.69" height="2.75" fill="#1d91c0" shape-rendering="crispEdges"/>
<rect x="533.13" y="249.84" width="2.69" height="2.75" fill="#2296c1" shape-rendering="crispEdges"/>
<rect x="535.63" y="249.84" width="2.69" height="2.75" fill="#1d91c0" shape-rendering="crispEdges"/>
<rect x="538.12" y="249.84" width="2.69" height="2.75" fill="#2498c1" shape-rendering="crispEdges"/>
<rect x="540.61" y="249.84" width="2.69" height="2.75" fill="#45b8c3" shape-rendering="crispEdges"/>
<rect x="543.11" y="249.84" width="2.69" height="2.75" fill="#3fb4c4" shape-rendering="crispEdges"/>
<rect x="545.60" y="249.84" width="2.69" height="2.75" fill="#63c2bf" shape-rendering="crispEdges"/>
<rect x="548.09" y="249.84" width="2.69" height="2.75" fill="#70c7bd" shape-rendering="crispEdges"/>
<rect x="550.59" y="249.84" width="2.69" height="2.75" fill="#6cc6be" shape-rendering="crispEdges"/>
<rect x="553.08" y="249.84" width="2.69" height="2.75" fill="#cbeab5" shape-rendering="crispEdges"/>
<rect x="555.57" y="249.84" width="2.69" height="2.75" fill="#eaf6c2" shape-rendering="crispEdges"/>
<rect x="558.07" y="249.84" width="2.69" height="2.75" fill="#e5f4c0" shape-rendering="crispEdges"/>
<rect x="560.56" y="249.84" width="2.69" height="2.75" fill="#a0dab8" shape-rendering="crispEdges"/>
<rect x="563.05" y="249.84" width="2.69" height="2.75" fill="#44b7c4" shape-rendering="crispEdges"/>
<rect x="565.55" y="249.84" width="2.69" height="2.75" fill="#41b6c4" shape-rendering="crispEdges"/>
<rect x="568.04" y="249.84" width="2.69" height="2.75" fill="#3aafc3" shape-rendering="crispEdges"/>
<rect x="570.53" y="249.84" width="2.69" height="2.75" fill="#36abc3" shape-rendering="crispEdges"/>
<rect x="573.03" y="249.84" width="2.69" height="2.75" fill="#269ac1" shape-rendering="crispEdges"/>
<rect x="575.52" y="249.84" width="2.69" height="2.75" fill="#2b9fc2" shape-rendering="crispEdges"/>
<rect x="578.01" y="249.84" width="2.69" height="2.75" fill="#2a9ec1" shape-rendering="crispEdges"/>
<rect x="580.51" y="249.84" width="2.69" height="2.75" fill="#2195c0" shape-rendering="crispEdges"/>
<rect x="508.20" y="252.38" width="2.69" height="2.75" fill="#1e92c0" shape-rendering="crispEdges"/>
<rect x="510.69" y="252.38" width="2.69" height="2.75" fill="#1e89bc" shape-rendering="crispEdges"/>
<rect x="513.19" y="252.38" width="2.69" height="2.75" fill="#1d91c0" shape-rendering="crispEdges"/>
<rect x="515.68" y="252.38" width="2.69" height="2.75" fill="#1d8ebf" shape-rendering="crispEdges"/>
<rect x="518.17" y="252.38" width="2.69" height="2.75" fill="#2195c0" shape-rendering="crispEdges"/>
<rect x="520.67" y="252.38" width="2.69" height="2.75" fill="#2095c0" shape-rendering="crispEdges"/>
<rect x="523.16" y="252.38" width="2.69" height="2.75" fill="#1e92c0" shape-rendering="crispEdges"/>
<rect x="525.65" y="252.38" width="2.69" height="2.75" fill="#1e8bbd" shape-rendering="crispEdges"/>
<rect x="528.15" y="252.38" width="2.69" height="2.75" fill="#2094c0" shape-rendering="crispEdges"/>
<rect x="530.64" y="252.38" width="2.69" height="2.75" fill="#2195c0" shape-rendering="crispEdges"/>
<rect x="533.13" y="252.38" width="2.69" height="2.75" fill="#1d8dbe" shape-rendering="crispEdges"/>
<rect x="535.63" y="252.38" width="2.69" height="2.75" fill="#289cc1" shape-rendering="crispEdges"/>
<rect x="538.12" y="252.38" width="2.69" height="2.75" fill="#269ac1" shape-rendering="crispEdges"/>
<rect x="540.61" y="252.38" width="2.69" height="2.75" fill="#32a7c2" shape-rendering="crispEdges"/>
<rect x="543.11" y="252.38" width="2.69" height="2.75" fill="#4bbac3" shape-rendering="crispEdges"/>
<rect x="545.60" y="252.38" width="2.69" height="2.75" fill="#3db2c4" shape-rendering="crispEdges"/>
<rect x="548.09" y="252.38" width="2.69" height="2.75" fill="#4cbac2" shape-rendering="crispEdges"/>
<rect x="550.59" y="252.38" width="2.69" height="2.75" fill="#65c3bf" shape-rendering="crispEdges"/>
<rect x="553.08" y="252.38" width="2.69" height="2.75" fill="#71c8bd" shape-rendering="crispEdges"/>
<rect x="555.57" y="252.38" width="2.69" height="2.75" fill="#9fdab8" shape-rendering="crispEdges"/>
<rect x="558.07" y="252.38" width="2.69" height="2.75" fill="#e6f4c1" shape-rendering="crispEdges"/>
<rect x="560.56" y="252.38" width="2.69" height="2.75" fill="#eaf6c2" shape-rendering="crispEdges"/>
<rect x="563.05" y="252.38" width="2.69" height="2.75" fill="#86d0ba" shape-rendering="crispEdges"/>
<rect x="565.55" y="252.38" width="2.69" height="2.75" fill="#4ab9c3" shape-rendering="crispEdges"/>
<rect x="568.04" y="252.38" width="2.69" height="2.75" fill="#38adc3" shape-rendering="crispEdges"/>
<rect x="570.53" y="252.38" width="2.69" height="2.75" fill="#3db2c4" shape-rendering="crispEdges"/>
<rect x="573.03" y="252.38" width="2.69" height="2.75" fill="#37acc3" shape-rendering="crispEdges"/>
<rect x="575.52" y="252.38" width="2.69" height="2.75" fill="#2da2c2" shape-rendering="crispEdges"/>
<rect x="578.01" y="252.38" width="2.69" height="2.75" fill="#2ca1c2" shape-rendering="crispEdges"/>
<rect x="580.51" y="252.38" width="2.69" height="2.75" fill="#2094c0" shape-rendering="crispEdges"/>
<rect x="508.20" y="254.93" width="2.69" height="2.75" fill="#1d8cbe" shape-rendering="crispEdges"/>
<rect x="510.69" y="254.93" width="2.69" height="2.75" fill="#1d8fbf" shape-rendering="crispEdges"/>
<rect x="513.19" y="254.93" width="2.69" height="2.75" fill="#2498c1" shape-rendering="crispEdges"/>
<rect x="515.68" y="254.93" width="2.69" height="2.75" fill="#1e88bc" shape-rendering="crispEdges"/>
<rect x="518.17" y="254.93" width="2.69" height="2.75" fill="#1d91c0" shape-rendering="crispEdges"/>
<rect x="520.67" y="254.93" width="2.69" height="2.75" fill="#1e8cbe" shape-rendering="crispEdges"/>
<rect x="523.16" y="254.93" width="2.69" height="2.75" fill="#2296c1" shape-rendering="crispEdges"/>
<rect x="525.65" y="254.93" width="2.69" height="2.75" fill="#1d8ebf" shape-rendering="crispEdges"/>
<rect x="528.15" y="254.93" width="2.69" height="2.75" fill="#1d8ebe" shape-rendering="crispEdges"/>
<rect x="530.64" y="254.93" width="2.69" height="2.75" fill="#1d8fbf" shape-rendering="crispEdges"/>
<rect x="533.13" y="254.93" width="2.69" height="2.75" fill="#1f93c0" shape-rendering="crispEdges"/>
<rect x="535.63" y="254.93" width="2.69" height="2.75" fill="#2498c1" shape-rendering="crispEdges"/>
<rect x="538.12" y="254.93" width="2.69" height="2.75" fill="#1d91c0" shape-rendering="crispEdges"/>
<rect x="540.61" y="254.93" width="2.69" height="2.75" fill="#299dc1" shape-rendering="crispEdges"/>
<rect x="543.11" y="254.93" width="2.69" height="2.75" fill="#1e92c0" shape-rendering="crispEdges"/>
<rect x="545.60" y="254.93" width="2.69" height="2.75" fill="#2599c1" shape-rendering="crispEdges"/>
<rect x="548.09" y="254.93" width="2.69" height="2.75" fill="#279bc1" shape-rendering="crispEdges"/>
<rect x="550.59" y="254.93" width="2.69" height="2.75" fill="#2ea2c2" shape-rendering="crispEdges"/>
<rect x="553.08" y="254.93" width="2.69" height="2.75" fill="#41b6c4" shape-rendering="crispEdges"/>
<rect x="555.57" y="254.93" width="2.69" height="2.75" fill="#4dbbc2" shape-rendering="crispEdges"/>
<rect x="558.07" y="254.93" width="2.69" height="2.75" fill="#59bfc1" shape-rendering="crispEdges"/>
<rect x="560.56" y="254.93" width="2.69" height="2.75" fill="#a3dbb8" shape-rendering="crispEdges"/>
<rect x="563.05" y="254.93" width="2.69" height="2.75" fill="#eaf6c2" shape-rendering="crispEdges"/>
<rect x="565.55" y="254.93" width="2.69" height="2.75" fill="#eaf6c2" shape-rendering="crispEdges"/>
<rect x="568.04" y="254.93" width="2.69" height="2.75" fill="#eaf6c2" shape-rendering="crispEdges"/>
<rect x="570.53" y="254.93" width="2.69" height="2.75" fill="#dff2be" shape-rendering="crispEdges"/>
<rect x="573.03" y="254.93" width="2.69" height="2.75" fill="#d2edb8" shape-rendering="crispEdges"/>
<rect x="575.52" y="254.93" width="2.69" height="2.75" fill="#b9e4b5" shape-rendering="crispEdges"/>
<rect x="578.01" y="254.93" width="2.69" height="2.75" fill="#2da1c2" shape-rendering="crispEdges"/>
<rect x="580.51" y="254.93" width="2.69" height="2.75" fill="#2398c1" shape-rendering="crispEdges"/>
<rect x="508.20" y="257.47" width="2.69" height="2.75" fill="#1e92c0" shape-rendering="crispEdges"/>
<rect x="510.69" y="257.47" width="2.69" height="2.75" fill="#1e92c0" shape-rendering="crispEdges"/>
<rect x="513.19" y="257.47" width="2.69" height="2.75" fill="#1e8bbd" shape-rendering="crispEdges"/>
<rect x="515.68" y="257.47" width="2.69" height="2.75" fill="#1d8cbe" shape-rendering="crispEdges"/>
<rect x="518.17" y="257.47" width="2.69" height="2.75" fill="#2297c1" shape-rendering="crispEdges"/>
<rect x="520.67" y="257.47" width="2.69" height="2.75" fill="#1e87bb" shape-rendering="crispEdges"/>
<rect x="523.16" y="257.47" width="2.69" height="2.75" fill="#2397c1" shape-rendering="crispEdges"/>
<rect x="525.65" y="257.47" width="2.69" height="2.75" fill="#2599c1" shape-rendering="crispEdges"/>
<rect x="528.15" y="257.47" width="2.69" height="2.75" fill="#269ac1" shape-rendering="crispEdges"/>
<rect x="530.64" y="257.47" width="2.69" height="2.75" fill="#1d8fbf" shape-rendering="crispEdges"/>
<rect x="533.13" y="257.47" width="2.69" height="2.75" fill="#1e92c0" shape-rendering="crispEdges"/>
<rect x="535.63" y="257.47" width="2.69" height="2.75" fill="#1f93c0" shape-rendering="crispEdges"/>
<rect x="538.12" y="257.47" width="2.69" height="2.75" fill="#2195c0" shape-rendering="crispEdges"/>
<rect x="540.61" y="257.47" width="2.69" height="2.75" fill="#299dc1" shape-rendering="crispEdges"/>
<rect x="543.11" y="257.47" width="2.69" height="2.75" fill="#2599c1" shape-rendering="crispEdges"/>
<rect x="545.60" y="257.47" width="2.69" height="2.75" fill="#2094c0" shape-rendering="crispEdges"/>
<rect x="548.09" y="257.47" width="2.69" height="2.75" fill="#2fa3c2" shape-rendering="crispEdges"/>
<rect x="550.59" y="257.47" width="2.69" height="2.75" fill="#2ca1c2" shape-rendering="crispEdges"/>
<rect x="553.08" y="257.47" width="2.69" height="2.75" fill="#35a9c3" shape-rendering="crispEdges"/>
<rect x="555.57" y="257.47" width="2.69" height="2.75" fill="#3eb3c4" shape-rendering="crispEdges"/>
<rect x="558.07" y="257.47" width="2.69" height="2.75" fill="#37acc3" shape-rendering="crispEdges"/>
<rect x="560.56" y="257.47" width="2.69" height="2.75" fill="#5ec1c0" shape-rendering="crispEdges"/>
<rect x="563.05" y="257.47" width="2.69" height="2.75" fill="#eaf6c2" shape-rendering="crispEdges"/>
<rect x="565.55" y="257.47" width="2.69" height="2.75" fill="#eaf6c2" shape-rendering="crispEdges"/>
<rect x="568.04" y="257.47" width="2.69" height="2.75" fill="#eaf6c2" shape-rendering="crispEdges"/>
<rect x="570.53" y="257.47" width="2.69" height="2.75" fill="#eaf6c2" shape-rendering="crispEdges"/>
<rect x="573.03" y="257.47" width="2.69" height="2.75" fill="#d7efbb" shape-rendering="crispEdges"/>
<rect x="575.52" y="257.47" width="2.69" height="2.75" fill="#d3edb9" shape-rendering="crispEdges"/>
<rect x="578.01" y="257.47" width="2.69" height="2.75" fill="#2fa3c2" shape-rendering="crispEdges"/>
<rect x="580.51" y="257.47" width="2.69" height="2.75" fill="#31a5c2" shape-rendering="crispEdges"/>
<rect x="508.20" y="260.02" width="2.69" height="2.75" fill="#2094c0" shape-rendering="crispEdges"/>
<rect x="510.69" y="260.02" width="2.69" height="2.75" fill="#1d90bf" shape-rendering="crispEdges"/>
<rect x="513.19" y="260.02" width="2.69" height="2.75" fill="#1e92c0" shape-rendering="crispEdges"/>
<rect x="515.68" y="260.02" width="2.69" height="2.75" fill="#269ac1" shape-rendering="crispEdges"/>
<rect x="518.17" y="260.02" width="2.69" height="2.75" fill="#2599c1" shape-rendering="crispEdges"/>
<rect x="520.67" y="260.02" width="2.69" height="2.75" fill="#1e8abd" shape-rendering="crispEdges"/>
<rect x="523.16" y="260.02" width="2.69" height="2.75" fill="#2397c1" shape-rendering="crispEdges"/>
<rect x="525.65" y="260.02" width="2.69" height="2.75" fill="#1f93c0" shape-rendering="crispEdges"/>
<rect x="528.15" y="260.02" width="2.69" height="2.75" fill="#1e88bc" shape-rendering="crispEdges"/>
<rect x="530.64" y="260.02" width="2.69" height="2.75" fill="#1d8ebf" shape-rendering="crispEdges"/>
<rect x="533.13" y="260.02" width="2.69" height="2.75" fill="#1e8cbd" shape-rendering="crispEdges"/>
<rect x="535.63" y="260.02" width="2.69" height="2.75" fill="#1e89bc" shape-rendering="crispEdges"/>
<rect x="538.12" y="260.02" width="2.69" height="2.75" fill="#1e92c0" shape-rendering="crispEdges"/>
<rect x="540.61" y="260.02" width="2.69" height="2.75" fill="#269bc1" shape-rendering="crispEdges"/>
<rect x="543.11" y="260.02" width="2.69" height="2.75" fill="#1d8fbf" shape-rendering="crispEdges"/>
<rect x="545.60" y="260.02" width="2.69" height="2.75" fill="#289cc1" shape-rendering="crispEdges"/>
<rect x="548.09" y="260.02" width="2.69" height="2.75" fill="#279bc1" shape-rendering="crispEdges"/>
<rect x="550.59" y="260.02" width="2.69" height="2.75" fill="#1f93c0" shape-rendering="crispEdges"/>
<rect x="553.08" y="260.02" width="2.69" height="2.75" fill="#32a6c2" shape-rendering="crispEdges"/>
<rect x="555.57" y="260.02" width="2.69" height="2.75" fill="#32a7c2" shape-rendering="crispEdges"/>
<rect x="558.07" y="260.02" width="2.69" height="2.75" fill="#3fb4c4" shape-rendering="crispEdges"/>
<rect x="560.56" y="260.02" width="2.69" height="2.75" fill="#43b7c4" shape-rendering="crispEdges"/>
<rect x="563.05" y="260.02" width="2.69" height="2.75" fill="#e2f3bf" shape-rendering="crispEdges"/>
<rect x="565.55" y="260.02" width="2.69" height="2.75" fill="#eaf6c2" shape-rendering="crispEdges"/>
<rect x="568.04" y="260.02" width="2.69" height="2.75" fill="#eaf6c2" shape-rendering="crispEdges"/>
<rect x="570.53" y="260.02" width="2.69" height="2.75" fill="#eaf6c2" shape-rendering="crispEdges"/>
<rect x="573.03" y="260.02" width="2.69" height="2.75" fill="#eaf6c2" shape-rendering="crispEdges"/>
<rect x="575.52" y="260.02" width="2.69" height="2.75" fill="#e4f4c0" shape-rendering="crispEdges"/>
<rect x="578.01" y="260.02" width="2.69" height="2.75" fill="#4ab9c3" shape-rendering="crispEdges"/>
<rect x="580.51" y="260.02" width="2.69" height="2.75" fill="#3aaec3" shape-rendering="crispEdges"/>
<rect x="508.20" y="262.56" width="2.69" height="2.75" fill="#1e89bc" shape-rendering="crispEdges"/>
<rect x="510.69" y="262.56" width="2.69" height="2.75" fill="#1e88bc" shape-rendering="crispEdges"/>
<rect x="513.19" y="262.56" width="2.69" height="2.75" fill="#1e88bc" shape-rendering="crispEdges"/>
<rect x="515.68" y="262.56" width="2.69" height="2.75" fill="#1e8bbd" shape-rendering="crispEdges"/>
<rect x="518.17" y="262.56" width="2.69" height="2.75" fill="#1e8abd" shape-rendering="crispEdges"/>
<rect x="520.67" y="262.56" width="2.69" height="2.75" fill="#1d91c0" shape-rendering="crispEdges"/>
<rect x="523.16" y="262.56" width="2.69" height="2.75" fill="#2195c0" shape-rendering="crispEdges"/>
<rect x="525.65" y="262.56" width="2.69" height="2.75" fill="#1e92c0" shape-rendering="crispEdges"/>
<rect x="528.15" y="262.56" width="2.69" height="2.75" fill="#1d8fbf" shape-rendering="crispEdges"/>
<rect x="530.64" y="262.56" width="2.69" height="2.75" fill="#2094c0" shape-rendering="crispEdges"/>
<rect x="533.13" y="262.56" width="2.69" height="2.75" fill="#1d8dbe" shape-rendering="crispEdges"/>
<rect x="535.63" y="262.56" width="2.69" height="2.75" fill="#1d90c0" shape-rendering="crispEdges"/>
<rect x="538.12" y="262.56" width="2.69" height="2.75" fill="#2296c1" shape-rendering="crispEdges"/>
<rect x="540.61" y="262.56" width="2.69" height="2.75" fill="#1d8fbf" shape-rendering="crispEdges"/>
<rect x="543.11" y="262.56" width="2.69" height="2.75" fill="#1e8bbd" shape-rendering="crispEdges"/>
<rect x="545.60" y="262.56" width="2.69" height="2.75" fill="#269bc1" shape-rendering="crispEdges"/>
<rect x="548.09" y="262.56" width="2.69" height="2.75" fill="#2498c1" shape-rendering="crispEdges"/>
<rect x="550.59" y="262.56" width="2.69" height="2.75" fill="#1f93c0" shape-rendering="crispEdges"/>
<rect x="553.08" y="262.56" width="2.69" height="2.75" fill="#2296c1" shape-rendering="crispEdges"/>
<rect x="555.57" y="262.56" width="2.69" height="2.75" fill="#299ec1" shape-rendering="crispEdges"/>
<rect x="558.07" y="262.56" width="2.69" height="2.75" fill="#30a5c2" shape-rendering="crispEdges"/>
<rect x="560.56" y="262.56" width="2.69" height="2.75" fill="#2fa4c2" shape-rendering="crispEdges"/>
<rect x="563.05" y="262.56" width="2.69" height="2.75" fill="#c0e6b5" shape-rendering="crispEdges"/>
<rect x="565.55" y="262.56" width="2.69" height="2.75" fill="#d1edb8" shape-rendering="crispEdges"/>
<rect x="568.04" y="262.56" width="2.69" height="2.75" fill="#eaf6c2" shape-rendering="crispEdges"/>
<rect x="570.53" y="262.56" width="2.69" height="2.75" fill="#eaf6c2" shape-rendering="crispEdges"/>
<rect x="573.03" y="262.56" width="2.69" height="2.75" fill="#eaf6c2" shape-rendering="crispEdges"/>
<rect x="575.52" y="262.56" width="2.69" height="2.75" fill="#eaf6c2" shape-rendering="crispEdges"/>
<rect x="578.01" y="262.56" width="2.69" height="2.75" fill="#5ec1c0" shape-rendering="crispEdges"/>
<rect x="580.51" y="262.56" width="2.69" height="2.75" fill="#3eb3c4" shape-rendering="crispEdges"/>
<rect x="508.20" y="265.11" width="2.69" height="2.75" fill="#1d8fbf" shape-rendering="crispEdges"/>
<rect x="510.69" y="265.11" width="2.69" height="2.75" fill="#1e8abd" shape-rendering="crispEdges"/>
<rect x="513.19" y="265.11" width="2.69" height="2.75" fill="#1e87bb" shape-rendering="crispEdges"/>
<rect x="515.68" y="265.11" width="2.69" height="2.75" fill="#1e89bc" shape-rendering="crispEdges"/>
<rect x="518.17" y="265.11" width="2.69" height="2.75" fill="#1e8abd" shape-rendering="crispEdges"/>
<rect x="520.67" y="265.11" width="2.69" height="2.75" fill="#1d91c0" shape-rendering="crispEdges"/>
<rect x="523.16" y="265.11" width="2.69" height="2.75" fill="#1e88bc" shape-rendering="crispEdges"/>
<rect x="525.65" y="265.11" width="2.69" height="2.75" fill="#1e87bb" shape-rendering="crispEdges"/>
<rect x="528.15" y="265.11" width="2.69" height="2.75" fill="#1d90c0" shape-rendering="crispEdges"/>
<rect x="530.64" y="265.11" width="2.69" height="2.75" fill="#1d8fbf" shape-rendering="crispEdges"/>
<rect x="533.13" y="265.11" width="2.69" height="2.75" fill="#2195c0" shape-rendering="crispEdges"/>
<rect x="535.63" y="265.11" width="2.69" height="2.75" fill="#1e88bc" shape-rendering="crispEdges"/>
<rect x="538.12" y="265.11" width="2.69" height="2.75" fill="#1d8fbf" shape-rendering="crispEdges"/>
<rect x="540.61" y="265.11" width="2.69" height="2.75" fill="#1d8fbf" shape-rendering="crispEdges"/>
<rect x="543.11" y="265.11" width="2.69" height="2.75" fill="#1e88bc" shape-rendering="crispEdges"/>
<rect x="545.60" y="265.11" width="2.69" height="2.75" fill="#279bc1" shape-rendering="crispEdges"/>
<rect x="548.09" y="265.11" width="2.69" height="2.75" fill="#1d8dbe" shape-rendering="crispEdges"/>
<rect x="550.59" y="265.11" width="2.69" height="2.75" fill="#1e8bbd" shape-rendering="crispEdges"/>
<rect x="553.08" y="265.11" width="2.69" height="2.75" fill="#2195c0" shape-rendering="crispEdges"/>
<rect x="555.57" y="265.11" width="2.69" height="2.75" fill="#1d91c0" shape-rendering="crispEdges"/>
<rect x="558.07" y="265.11" width="2.69" height="2.75" fill="#2a9ec1" shape-rendering="crispEdges"/>
<rect x="560.56" y="265.11" width="2.69" height="2.75" fill="#299dc1" shape-rendering="crispEdges"/>
<rect x="563.05" y="265.11" width="2.69" height="2.75" fill="#2b9fc2" shape-rendering="crispEdges"/>
<rect x="565.55" y="265.11" width="2.69" height="2.75" fill="#30a5c2" shape-rendering="crispEdges"/>
<rect x="568.04" y="265.11" width="2.69" height="2.75" fill="#47b8c3" shape-rendering="crispEdges"/>
<rect x="570.53" y="265.11" width="2.69" height="2.75" fill="#4bbac3" shape-rendering="crispEdges"/>
<rect x="573.03" y="265.11" width="2.69" height="2.75" fill="#91d4b9" shape-rendering="crispEdges"/>
<rect x="575.52" y="265.11" width="2.69" height="2.75" fill="#d2edb9" shape-rendering="crispEdges"/>
<rect x="578.01" y="265.11" width="2.69" height="2.75" fill="#daf0bc" shape-rendering="crispEdges"/>
<rect x="580.51" y="265.11" width="2.69" height="2.75" fill="#78cabc" shape-rendering="crispEdges"/>
<rect x="508.20" y="267.65" width="2.69" height="2.75" fill="#1e8cbe" shape-rendering="crispEdges"/>
<rect x="510.69" y="267.65" width="2.69" height="2.75" fill="#1d8cbe" shape-rendering="crispEdges"/>
<rect x="513.19" y="267.65" width="2.69" height="2.75" fill="#2397c1" shape-rendering="crispEdges"/>
<rect x="515.68" y="267.65" width="2.69" height="2.75" fill="#1f94c0" shape-rendering="crispEdges"/>
<rect x="518.17" y="267.65" width="2.69" height="2.75" fill="#1d8ebf" shape-rendering="crispEdges"/>
<rect x="520.67" y="267.65" width="2.69" height="2.75" fill="#1e89bc" shape-rendering="crispEdges"/>
<rect x="523.16" y="267.65" width="2.69" height="2.75" fill="#2195c0" shape-rendering="crispEdges"/>
<rect x="525.65" y="267.65" width="2.69" height="2.75" fill="#269ac1" shape-rendering="crispEdges"/>
<rect x="528.15" y="267.65" width="2.69" height="2.75" fill="#1f93c0" shape-rendering="crispEdges"/>
<rect x="530.64" y="267.65" width="2.69" height="2.75" fill="#1e87bb" shape-rendering="crispEdges"/>
<rect x="533.13" y="267.65" width="2.69" height="2.75" fill="#1e87bb" shape-rendering="crispEdges"/>
<rect x="535.63" y="267.65" width="2.69" height="2.75" fill="#1e89bc" shape-rendering="crispEdges"/>
<rect x="538.12" y="267.65" width="2.69" height="2.75" fill="#1e8abd" shape-rendering="crispEdges"/>
<rect x="540.61" y="267.65" width="2.69" height="2.75" fill="#1e88bc" shape-rendering="crispEdges"/>
<rect x="543.11" y="267.65" width="2.69" height="2.75" fill="#1e88bc" shape-rendering="crispEdges"/>
<rect x="545.60" y="267.65" width="2.69" height="2.75" fill="#2094c0" shape-rendering="crispEdges"/>
<rect x="548.09" y="267.65" width="2.69" height="2.75" fill="#2599c1" shape-rendering="crispEdges"/>
<rect x="550.59" y="267.65" width="2.69" height="2.75" fill="#1d8cbe" shape-rendering="crispEdges"/>
<rect x="553.08" y="267.65" width="2.69" height="2.75" fill="#289cc1" shape-rendering="crispEdges"/>
<rect x="555.57" y="267.65" width="2.69" height="2.75" fill="#2094c0" shape-rendering="crispEdges"/>
<rect x="558.07" y="267.65" width="2.69" height="2.75" fill="#289dc1" shape-rendering="crispEdges"/>
<rect x="560.56" y="267.65" width="2.69" height="2.75" fill="#2ea2c2" shape-rendering="crispEdges"/>
<rect x="563.05" y="267.65" width="2.69" height="2.75" fill="#33a7c2" shape-rendering="crispEdges"/>
<rect x="565.55" y="267.65" width="2.69" height="2.75" fill="#279bc1" shape-rendering="crispEdges"/>
<rect x="568.04" y="267.65" width="2.69" height="2.75" fill="#32a7c2" shape-rendering="crispEdges"/>
<rect x="570.53" y="267.65" width="2.69" height="2.75" fill="#3fb4c4" shape-rendering="crispEdges"/>
<rect x="573.03" y="267.65" width="2.69" height="2.75" fill="#58bfc1" shape-rendering="crispEdges"/>
<rect x="575.52" y="267.65" width="2.69" height="2.75" fill="#5fc1c0" shape-rendering="crispEdges"/>
<rect x="578.01" y="267.65" width="2.69" height="2.75" fill="#b7e3b6" shape-rendering="crispEdges"/>
<rect x="580.51" y="267.65" width="2.69" height="2.75" fill="#e2f3bf" shape-rendering="crispEdges"/>
<defs><linearGradient id="cb1" x1="0" y1="0" x2="0" y2="1"><stop offset="0" stop-color="#f3f9c6"/><stop offset="0.15000000000000002" stop-color="#c7e9b4"/><stop offset="0.30000000000000004" stop-color="#7fcdbb"/><stop offset="0.44999999999999996" stop-color="#41b6c4"/><stop offset="0.6" stop-color="#1d91c0"/><stop offset="0.8" stop-color="#225ea8"/><stop offset="1" stop-color="#081d58"/></linearGradient></defs>
<rect x="588.1" y="214.7" width="3.4" height="55.5" fill="url(#cb1)"/>
<rect x="621.50" y="213.30" width="4.18" height="3.08" fill="#e49a86" shape-rendering="crispEdges"/>
<rect x="621.50" y="216.28" width="4.18" height="3.08" fill="#e2937f" shape-rendering="crispEdges"/>
<rect x="625.58" y="216.28" width="4.18" height="3.08" fill="#e59d8a" shape-rendering="crispEdges"/>
<rect x="621.50" y="219.27" width="4.18" height="3.08" fill="#f3eeeb" shape-rendering="crispEdges"/>
<rect x="625.58" y="219.27" width="4.18" height="3.08" fill="#eab9ab" shape-rendering="crispEdges"/>
<rect x="629.66" y="219.27" width="4.18" height="3.08" fill="#f2e6e1" shape-rendering="crispEdges"/>
<rect x="621.50" y="222.25" width="4.18" height="3.08" fill="#e4e6e6" shape-rendering="crispEdges"/>
<rect x="625.58" y="222.25" width="4.18" height="3.08" fill="#e5e7e6" shape-rendering="crispEdges"/>
<rect x="629.66" y="222.25" width="4.18" height="3.08" fill="#e6a695" shape-rendering="crispEdges"/>
<rect x="633.74" y="222.25" width="4.18" height="3.08" fill="#dc7f6a" shape-rendering="crispEdges"/>
<rect x="621.50" y="225.24" width="4.18" height="3.08" fill="#5397a8" shape-rendering="crispEdges"/>
<rect x="625.58" y="225.24" width="4.18" height="3.08" fill="#f3e7e3" shape-rendering="crispEdges"/>
<rect x="629.66" y="225.24" width="4.18" height="3.08" fill="#f4ece9" shape-rendering="crispEdges"/>
<rect x="633.74" y="225.24" width="4.18" height="3.08" fill="#ebc0b3" shape-rendering="crispEdges"/>
<rect x="637.82" y="225.24" width="4.18" height="3.08" fill="#e6a493" shape-rendering="crispEdges"/>
<rect x="621.50" y="228.22" width="4.18" height="3.08" fill="#e7a796" shape-rendering="crispEdges"/>
<rect x="625.58" y="228.22" width="4.18" height="3.08" fill="#e4e7e6" shape-rendering="crispEdges"/>
<rect x="629.66" y="228.22" width="4.18" height="3.08" fill="#ebbfb3" shape-rendering="crispEdges"/>
<rect x="633.74" y="228.22" width="4.18" height="3.08" fill="#df8975" shape-rendering="crispEdges"/>
<rect x="637.82" y="228.22" width="4.18" height="3.08" fill="#df8873" shape-rendering="crispEdges"/>
<rect x="641.89" y="228.22" width="4.18" height="3.08" fill="#e6e7e6" shape-rendering="crispEdges"/>
<rect x="621.50" y="231.21" width="4.18" height="3.08" fill="#ebc0b4" shape-rendering="crispEdges"/>
<rect x="625.58" y="231.21" width="4.18" height="3.08" fill="#e9e9e7" shape-rendering="crispEdges"/>
<rect x="629.66" y="231.21" width="4.18" height="3.08" fill="#6ca7b6" shape-rendering="crispEdges"/>
<rect x="633.74" y="231.21" width="4.18" height="3.08" fill="#e29480" shape-rendering="crispEdges"/>
<rect x="637.82" y="231.21" width="4.18" height="3.08" fill="#e18f7b" shape-rendering="crispEdges"/>
<rect x="641.89" y="231.21" width="4.18" height="3.08" fill="#edebe9" shape-rendering="crispEdges"/>
<rect x="645.97" y="231.21" width="4.18" height="3.08" fill="#de8672" shape-rendering="crispEdges"/>
<rect x="621.50" y="234.19" width="4.18" height="3.08" fill="#f3e7e3" shape-rendering="crispEdges"/>
<rect x="625.58" y="234.19" width="4.18" height="3.08" fill="#f2e4df" shape-rendering="crispEdges"/>
<rect x="629.66" y="234.19" width="4.18" height="3.08" fill="#db7b66" shape-rendering="crispEdges"/>
<rect x="633.74" y="234.19" width="4.18" height="3.08" fill="#e5e7e6" shape-rendering="crispEdges"/>
<rect x="637.82" y="234.19" width="4.18" height="3.08" fill="#f1edea" shape-rendering="crispEdges"/>
<rect x="641.89" y="234.19" width="4.18" height="3.08" fill="#dd816c" shape-rendering="crispEdges"/>
<rect x="645.97" y="234.19" width="4.18" height="3.08" fill="#dc7d68" shape-rendering="crispEdges"/>
<rect x="650.05" y="234.19" width="4.18" height="3.08" fill="#db7c67" shape-rendering="crispEdges"/>
<rect x="621.50" y="237.17" width="4.18" height="3.08" fill="#dd836e" shape-rendering="crispEdges"/>
<rect x="625.58" y="237.17" width="4.18" height="3.08" fill="#ebe9e8" shape-rendering="crispEdges"/>
<rect x="629.66" y="237.17" width="4.18" height="3.08" fill="#ecc5ba" shape-rendering="crispEdges"/>
<rect x="633.74" y="237.17" width="4.18" height="3.08" fill="#e18f7a" shape-rendering="crispEdges"/>
<rect x="637.82" y="237.17" width="4.18" height="3.08" fill="#e6a593" shape-rendering="crispEdges"/>
<rect x="641.89" y="237.17" width="4.18" height="3.08" fill="#dbe2e2" shape-rendering="crispEdges"/>
<rect x="645.97" y="237.17" width="4.18" height="3.08" fill="#de8671" shape-rendering="crispEdges"/>
<rect x="650.05" y="237.17" width="4.18" height="3.08" fill="#e08a76" shape-rendering="crispEdges"/>
<rect x="654.13" y="237.17" width="4.18" height="3.08" fill="#db7964" shape-rendering="crispEdges"/>
<rect x="621.50" y="240.16" width="4.18" height="3.08" fill="#f0ecea" shape-rendering="crispEdges"/>
<rect x="625.58" y="240.16" width="4.18" height="3.08" fill="#f3ebe7" shape-rendering="crispEdges"/>
<rect x="629.66" y="240.16" width="4.18" height="3.08" fill="#eecfc6" shape-rendering="crispEdges"/>
<rect x="633.74" y="240.16" width="4.18" height="3.08" fill="#e49c88" shape-rendering="crispEdges"/>
<rect x="637.82" y="240.16" width="4.18" height="3.08" fill="#dd806c" shape-rendering="crispEdges"/>
<rect x="641.89" y="240.16" width="4.18" height="3.08" fill="#dfe4e4" shape-rendering="crispEdges"/>
<rect x="645.97" y="240.16" width="4.18" height="3.08" fill="#de8570" shape-rendering="crispEdges"/>
<rect x="650.05" y="240.16" width="4.18" height="3.08" fill="#e8e8e7" shape-rendering="crispEdges"/>
<rect x="654.13" y="240.16" width="4.18" height="3.08" fill="#dd816d" shape-rendering="crispEdges"/>
<rect x="658.21" y="240.16" width="4.18" height="3.08" fill="#ecc5ba" shape-rendering="crispEdges"/>
<rect x="621.50" y="243.14" width="4.18" height="3.08" fill="#e1917c" shape-rendering="crispEdges"/>
<rect x="625.58" y="243.14" width="4.18" height="3.08" fill="#e6e7e6" shape-rendering="crispEdges"/>
<rect x="629.66" y="243.14" width="4.18" height="3.08" fill="#e8ad9d" shape-rendering="crispEdges"/>
<rect x="633.74" y="243.14" width="4.18" height="3.08" fill="#ebbdb0" shape-rendering="crispEdges"/>
<rect x="637.82" y="243.14" width="4.18" height="3.08" fill="#df8873" shape-rendering="crispEdges"/>
<rect x="641.89" y="243.14" width="4.18" height="3.08" fill="#e9e8e7" shape-rendering="crispEdges"/>
<rect x="645.97" y="243.14" width="4.18" height="3.08" fill="#f2e3dd" shape-rendering="crispEdges"/>
<rect x="650.05" y="243.14" width="4.18" height="3.08" fill="#ebc1b5" shape-rendering="crispEdges"/>
<rect x="654.13" y="243.14" width="4.18" height="3.08" fill="#df8772" shape-rendering="crispEdges"/>
<rect x="658.21" y="243.14" width="4.18" height="3.08" fill="#dd826d" shape-rendering="crispEdges"/>
<rect x="662.29" y="243.14" width="4.18" height="3.08" fill="#67a4b3" shape-rendering="crispEdges"/>
<rect x="621.50" y="246.13" width="4.18" height="3.08" fill="#da7863" shape-rendering="crispEdges"/>
<rect x="625.58" y="246.13" width="4.18" height="3.08" fill="#f2edea" shape-rendering="crispEdges"/>
<rect x="629.66" y="246.13" width="4.18" height="3.08" fill="#f3e8e4" shape-rendering="crispEdges"/>
<rect x="633.74" y="246.13" width="4.18" height="3.08" fill="#efd2ca" shape-rendering="crispEdges"/>
<rect x="637.82" y="246.13" width="4.18" height="3.08" fill="#e7ab9b" shape-rendering="crispEdges"/>
<rect x="641.89" y="246.13" width="4.18" height="3.08" fill="#dc7e69" shape-rendering="crispEdges"/>
<rect x="645.97" y="246.13" width="4.18" height="3.08" fill="#f0dad3" shape-rendering="crispEdges"/>
<rect x="650.05" y="246.13" width="4.18" height="3.08" fill="#e8ad9c" shape-rendering="crispEdges"/>
<rect x="654.13" y="246.13" width="4.18" height="3.08" fill="#da7660" shape-rendering="crispEdges"/>
<rect x="658.21" y="246.13" width="4.18" height="3.08" fill="#e29580" shape-rendering="crispEdges"/>
<rect x="662.29" y="246.13" width="4.18" height="3.08" fill="#df8a75" shape-rendering="crispEdges"/>
<rect x="666.37" y="246.13" width="4.18" height="3.08" fill="#db7964" shape-rendering="crispEdges"/>
<rect x="621.50" y="249.11" width="4.18" height="3.08" fill="#e8b1a2" shape-rendering="crispEdges"/>
<rect x="625.58" y="249.11" width="4.18" height="3.08" fill="#eeebe9" shape-rendering="crispEdges"/>
<rect x="629.66" y="249.11" width="4.18" height="3.08" fill="#edc9bf" shape-rendering="crispEdges"/>
<rect x="633.74" y="249.11" width="4.18" height="3.08" fill="#e7aa9a" shape-rendering="crispEdges"/>
<rect x="637.82" y="249.11" width="4.18" height="3.08" fill="#ecc3b8" shape-rendering="crispEdges"/>
<rect x="641.89" y="249.11" width="4.18" height="3.08" fill="#eab9ab" shape-rendering="crispEdges"/>
<rect x="645.97" y="249.11" width="4.18" height="3.08" fill="#e49b88" shape-rendering="crispEdges"/>
<rect x="650.05" y="249.11" width="4.18" height="3.08" fill="#e18e7a" shape-rendering="crispEdges"/>
<rect x="654.13" y="249.11" width="4.18" height="3.08" fill="#e5a08d" shape-rendering="crispEdges"/>
<rect x="658.21" y="249.11" width="4.18" height="3.08" fill="#edebe9" shape-rendering="crispEdges"/>
<rect x="662.29" y="249.11" width="4.18" height="3.08" fill="#ecc5b9" shape-rendering="crispEdges"/>
<rect x="666.37" y="249.11" width="4.18" height="3.08" fill="#e18e7a" shape-rendering="crispEdges"/>
<rect x="670.45" y="249.11" width="4.18" height="3.08" fill="#e49c89" shape-rendering="crispEdges"/>
<rect x="621.50" y="252.09" width="4.18" height="3.08" fill="#ebbfb3" shape-rendering="crispEdges"/>
<rect x="625.58" y="252.09" width="4.18" height="3.08" fill="#f2e2dd" shape-rendering="crispEdges"/>
<rect x="629.66" y="252.09" width="4.18" height="3.08" fill="#e29580" shape-rendering="crispEdges"/>
<rect x="633.74" y="252.09" width="4.18" height="3.08" fill="#e7ac9c" shape-rendering="crispEdges"/>
<rect x="637.82" y="252.09" width="4.18" height="3.08" fill="#e5a18e" shape-rendering="crispEdges"/>
<rect x="641.89" y="252.09" width="4.18" height="3.08" fill="#de8571" shape-rendering="crispEdges"/>
<rect x="645.97" y="252.09" width="4.18" height="3.08" fill="#65a3b2" shape-rendering="crispEdges"/>
<rect x="650.05" y="252.09" width="4.18" height="3.08" fill="#dd826d" shape-rendering="crispEdges"/>
<rect x="654.13" y="252.09" width="4.18" height="3.08" fill="#dfe4e4" shape-rendering="crispEdges"/>
<rect x="658.21" y="252.09" width="4.18" height="3.08" fill="#e2927e" shape-rendering="crispEdges"/>
<rect x="662.29" y="252.09" width="4.18" height="3.08" fill="#df8a76" shape-rendering="crispEdges"/>
<rect x="666.37" y="252.09" width="4.18" height="3.08" fill="#dd826d" shape-rendering="crispEdges"/>
<rect x="670.45" y="252.09" width="4.18" height="3.08" fill="#eabbad" shape-rendering="crispEdges"/>
<rect x="674.53" y="252.09" width="4.18" height="3.08" fill="#ecc5b9" shape-rendering="crispEdges"/>
<rect x="621.50" y="255.08" width="4.18" height="3.08" fill="#e59d89" shape-rendering="crispEdges"/>
<rect x="625.58" y="255.08" width="4.18" height="3.08" fill="#f4eeeb" shape-rendering="crispEdges"/>
<rect x="629.66" y="255.08" width="4.18" height="3.08" fill="#ebc0b4" shape-rendering="crispEdges"/>
<rect x="633.74" y="255.08" width="4.18" height="3.08" fill="#eecec5" shape-rendering="crispEdges"/>
<rect x="637.82" y="255.08" width="4.18" height="3.08" fill="#dc806b" shape-rendering="crispEdges"/>
<rect x="641.89" y="255.08" width="4.18" height="3.08" fill="#de8772" shape-rendering="crispEdges"/>
<rect x="645.97" y="255.08" width="4.18" height="3.08" fill="#e1907c" shape-rendering="crispEdges"/>
<rect x="650.05" y="255.08" width="4.18" height="3.08" fill="#e39581" shape-rendering="crispEdges"/>
<rect x="654.13" y="255.08" width="4.18" height="3.08" fill="#ebbfb3" shape-rendering="crispEdges"/>
<rect x="658.21" y="255.08" width="4.18" height="3.08" fill="#e2937e" shape-rendering="crispEdges"/>
<rect x="662.29" y="255.08" width="4.18" height="3.08" fill="#7ab0be" shape-rendering="crispEdges"/>
<rect x="666.37" y="255.08" width="4.18" height="3.08" fill="#da7762" shape-rendering="crispEdges"/>
<rect x="670.45" y="255.08" width="4.18" height="3.08" fill="#e49b87" shape-rendering="crispEdges"/>
<rect x="674.53" y="255.08" width="4.18" height="3.08" fill="#eab9ab" shape-rendering="crispEdges"/>
<rect x="678.61" y="255.08" width="4.18" height="3.08" fill="#72abb9" shape-rendering="crispEdges"/>
<rect x="621.50" y="258.06" width="4.18" height="3.08" fill="#da7661" shape-rendering="crispEdges"/>
<rect x="625.58" y="258.06" width="4.18" height="3.08" fill="#f2e5e0" shape-rendering="crispEdges"/>
<rect x="629.66" y="258.06" width="4.18" height="3.08" fill="#4b92a3" shape-rendering="crispEdges"/>
<rect x="633.74" y="258.06" width="4.18" height="3.08" fill="#e6a391" shape-rendering="crispEdges"/>
<rect x="637.82" y="258.06" width="4.18" height="3.08" fill="#eabbae" shape-rendering="crispEdges"/>
<rect x="641.89" y="258.06" width="4.18" height="3.08" fill="#e7aa9a" shape-rendering="crispEdges"/>
<rect x="645.97" y="258.06" width="4.18" height="3.08" fill="#f4edea" shape-rendering="crispEdges"/>
<rect x="650.05" y="258.06" width="4.18" height="3.08" fill="#f0d9d2" shape-rendering="crispEdges"/>
<rect x="654.13" y="258.06" width="4.18" height="3.08" fill="#e8ae9f" shape-rendering="crispEdges"/>
<rect x="658.21" y="258.06" width="4.18" height="3.08" fill="#f2e4e0" shape-rendering="crispEdges"/>
<rect x="662.29" y="258.06" width="4.18" height="3.08" fill="#e7ac9c" shape-rendering="crispEdges"/>
<rect x="666.37" y="258.06" width="4.18" height="3.08" fill="#e5a18e" shape-rendering="crispEdges"/>
<rect x="670.45" y="258.06" width="4.18" height="3.08" fill="#e18f7a" shape-rendering="crispEdges"/>
<rect x="674.53" y="258.06" width="4.18" height="3.08" fill="#edc8be" shape-rendering="crispEdges"/>
<rect x="678.61" y="258.06" width="4.18" height="3.08" fill="#338296" shape-rendering="crispEdges"/>
<rect x="682.68" y="258.06" width="4.18" height="3.08" fill="#dc7d68" shape-rendering="crispEdges"/>
<rect x="621.50" y="261.05" width="4.18" height="3.08" fill="#e6a290" shape-rendering="crispEdges"/>
<rect x="625.58" y="261.05" width="4.18" height="3.08" fill="#f2edea" shape-rendering="crispEdges"/>
<rect x="629.66" y="261.05" width="4.18" height="3.08" fill="#eab9ac" shape-rendering="crispEdges"/>
<rect x="633.74" y="261.05" width="4.18" height="3.08" fill="#e2937f" shape-rendering="crispEdges"/>
<rect x="637.82" y="261.05" width="4.18" height="3.08" fill="#dd826d" shape-rendering="crispEdges"/>
<rect x="641.89" y="261.05" width="4.18" height="3.08" fill="#ebbcaf" shape-rendering="crispEdges"/>
<rect x="645.97" y="261.05" width="4.18" height="3.08" fill="#e8af9f" shape-rendering="crispEdges"/>
<rect x="650.05" y="261.05" width="4.18" height="3.08" fill="#edc7bd" shape-rendering="crispEdges"/>
<rect x="654.13" y="261.05" width="4.18" height="3.08" fill="#efd2c9" shape-rendering="crispEdges"/>
<rect x="658.21" y="261.05" width="4.18" height="3.08" fill="#eab9ab" shape-rendering="crispEdges"/>
<rect x="662.29" y="261.05" width="4.18" height="3.08" fill="#edc9be" shape-rendering="crispEdges"/>
<rect x="666.37" y="261.05" width="4.18" height="3.08" fill="#e08c77" shape-rendering="crispEdges"/>
<rect x="670.45" y="261.05" width="4.18" height="3.08" fill="#5a9bac" shape-rendering="crispEdges"/>
<rect x="674.53" y="261.05" width="4.18" height="3.08" fill="#e9b6a7" shape-rendering="crispEdges"/>
<rect x="678.61" y="261.05" width="4.18" height="3.08" fill="#da7661" shape-rendering="crispEdges"/>
<rect x="682.68" y="261.05" width="4.18" height="3.08" fill="#da7963" shape-rendering="crispEdges"/>
<rect x="686.76" y="261.05" width="4.18" height="3.08" fill="#dd806b" shape-rendering="crispEdges"/>
<rect x="621.50" y="264.03" width="4.18" height="3.08" fill="#eab8aa" shape-rendering="crispEdges"/>
<rect x="625.58" y="264.03" width="4.18" height="3.08" fill="#f3eeeb" shape-rendering="crispEdges"/>
<rect x="629.66" y="264.03" width="4.18" height="3.08" fill="#ebbfb3" shape-rendering="crispEdges"/>
<rect x="633.74" y="264.03" width="4.18" height="3.08" fill="#eecec4" shape-rendering="crispEdges"/>
<rect x="637.82" y="264.03" width="4.18" height="3.08" fill="#eecec4" shape-rendering="crispEdges"/>
<rect x="641.89" y="264.03" width="4.18" height="3.08" fill="#6ba7b5" shape-rendering="crispEdges"/>
<rect x="645.97" y="264.03" width="4.18" height="3.08" fill="#df8873" shape-rendering="crispEdges"/>
<rect x="650.05" y="264.03" width="4.18" height="3.08" fill="#e6a492" shape-rendering="crispEdges"/>
<rect x="654.13" y="264.03" width="4.18" height="3.08" fill="#ebc0b3" shape-rendering="crispEdges"/>
<rect x="658.21" y="264.03" width="4.18" height="3.08" fill="#df8975" shape-rendering="crispEdges"/>
<rect x="662.29" y="264.03" width="4.18" height="3.08" fill="#ebc0b4" shape-rendering="crispEdges"/>
<rect x="666.37" y="264.03" width="4.18" height="3.08" fill="#dd826d" shape-rendering="crispEdges"/>
<rect x="670.45" y="264.03" width="4.18" height="3.08" fill="#eed1c8" shape-rendering="crispEdges"/>
<rect x="674.53" y="264.03" width="4.18" height="3.08" fill="#e49b88" shape-rendering="crispEdges"/>
<rect x="678.61" y="264.03" width="4.18" height="3.08" fill="#e39884" shape-rendering="crispEdges"/>
<rect x="682.68" y="264.03" width="4.18" height="3.08" fill="#e5a08d" shape-rendering="crispEdges"/>
<rect x="686.76" y="264.03" width="4.18" height="3.08" fill="#308194" shape-rendering="crispEdges"/>
<rect x="690.84" y="264.03" width="4.18" height="3.08" fill="#e18f7b" shape-rendering="crispEdges"/>
<rect x="621.50" y="267.02" width="4.18" height="3.08" fill="#e49a86" shape-rendering="crispEdges"/>
<rect x="625.58" y="267.02" width="4.18" height="3.08" fill="#f2e3de" shape-rendering="crispEdges"/>
<rect x="629.66" y="267.02" width="4.18" height="3.08" fill="#e1907c" shape-rendering="crispEdges"/>
<rect x="633.74" y="267.02" width="4.18" height="3.08" fill="#edcbc0" shape-rendering="crispEdges"/>
<rect x="637.82" y="267.02" width="4.18" height="3.08" fill="#e29480" shape-rendering="crispEdges"/>
<rect x="641.89" y="267.02" width="4.18" height="3.08" fill="#f3ebe8" shape-rendering="crispEdges"/>
<rect x="645.97" y="267.02" width="4.18" height="3.08" fill="#edc7bd" shape-rendering="crispEdges"/>
<rect x="650.05" y="267.02" width="4.18" height="3.08" fill="#df8a75" shape-rendering="crispEdges"/>
<rect x="654.13" y="267.02" width="4.18" height="3.08" fill="#eeebe9" shape-rendering="crispEdges"/>
<rect x="658.21" y="267.02" width="4.18" height="3.08" fill="#dc7d68" shape-rendering="crispEdges"/>
<rect x="662.29" y="267.02" width="4.18" height="3.08" fill="#da7661" shape-rendering="crispEdges"/>
<rect x="666.37" y="267.02" width="4.18" height="3.08" fill="#f2e3dd" shape-rendering="crispEdges"/>
<rect x="670.45" y="267.02" width="4.18" height="3.08" fill="#df8a75" shape-rendering="crispEdges"/>
<rect x="674.53" y="267.02" width="4.18" height="3.08" fill="#e5a28f" shape-rendering="crispEdges"/>
<rect x="678.61" y="267.02" width="4.18" height="3.08" fill="#438d9f" shape-rendering="crispEdges"/>
<rect x="682.68" y="267.02" width="4.18" height="3.08" fill="#f3eeeb" shape-rendering="crispEdges"/>
<rect x="686.76" y="267.02" width="4.18" height="3.08" fill="#dd816d" shape-rendering="crispEdges"/>
<rect x="690.84" y="267.02" width="4.18" height="3.08" fill="#e2927d" shape-rendering="crispEdges"/>
<rect x="694.92" y="267.02" width="4.18" height="3.08" fill="#e1907c" shape-rendering="crispEdges"/>
<defs><linearGradient id="cb2" x1="0" y1="0" x2="0" y2="1"><stop offset="0" stop-color="#2e7f93"/><stop offset="0.30000000000000004" stop-color="#8cbcc8"/><stop offset="0.5" stop-color="#f4eeeb"/><stop offset="0.7" stop-color="#e49a86"/><stop offset="1" stop-color="#d25b45"/></linearGradient></defs>
<rect x="707.4" y="210.5" width="5" height="59.5" fill="url(#cb2)"/>
<rect x="504" y="300.5" width="96" height="81.4" fill="#ffffff" stroke="#eef3f6" stroke-width="0.6"/>
<rect x="505.5" y="308.2" width="9" height="1.2" fill="#d4d8db"/>
<line x1="518" y1="308.8" x2="597" y2="308.8" stroke="#f3f5f6" stroke-width="0.5"/>
<rect x="505.5" y="319.29999999999995" width="9" height="1.2" fill="#d4d8db"/>
<line x1="518" y1="319.9" x2="597" y2="319.9" stroke="#f3f5f6" stroke-width="0.5"/>
<rect x="505.5" y="330.59999999999997" width="9" height="1.2" fill="#d4d8db"/>
<line x1="518" y1="331.2" x2="597" y2="331.2" stroke="#f3f5f6" stroke-width="0.5"/>
<rect x="505.5" y="341.9" width="9" height="1.2" fill="#d4d8db"/>
<line x1="518" y1="342.5" x2="597" y2="342.5" stroke="#f3f5f6" stroke-width="0.5"/>
<rect x="505.5" y="353.0" width="9" height="1.2" fill="#d4d8db"/>
<line x1="518" y1="353.6" x2="597" y2="353.6" stroke="#f3f5f6" stroke-width="0.5"/>
<rect x="505.5" y="364.29999999999995" width="9" height="1.2" fill="#d4d8db"/>
<line x1="518" y1="364.9" x2="597" y2="364.9" stroke="#f3f5f6" stroke-width="0.5"/>
<rect x="505.5" y="375.5" width="9" height="1.2" fill="#d4d8db"/>
<line x1="518" y1="376.1" x2="597" y2="376.1" stroke="#f3f5f6" stroke-width="0.5"/>
<text x="548.6" y="307.7" font-size="5.2" fill="#555" textLength="13.7" lengthAdjust="spacingAndGlyphs">IVCC</text>

<polyline points="528.3,373.9 548.6,364.5 568.1,352.6 589.8,373.9" fill="none" stroke="#b2dae5" stroke-width="1"/>
<polyline points="528.3,373.9 548.6,360.1 568.1,337.7 589.8,349.3" fill="none" stroke="#3fa5cc" stroke-width="1.4"/>
<polyline points="528.3,373.9 548.6,360.1 568.1,331.9 589.8,312.1" fill="none" stroke="#2b5668" stroke-width="1.5"/>
<rect x="561.6" y="312" width="17.1" height="4" fill="#102a5c"/>
<rect x="579.7" y="337.8" width="17.3" height="3.8" fill="#1aaee6"/>
<rect x="552.2" y="367.1" width="18.8" height="3.5" fill="#a9d3df"/>
<rect x="528.0" y="377.6" width="1" height="1.2" fill="#c8cdd0"/>
<rect x="548.1" y="377.6" width="1" height="1.2" fill="#c8cdd0"/>
<rect x="567.6" y="377.6" width="1" height="1.2" fill="#c8cdd0"/>
<rect x="589.3" y="377.6" width="1" height="1.2" fill="#c8cdd0"/>
<rect x="600.5" y="301.5" width="16.9" height="23.899999999999977" fill="#2f52a0"/>
<text x="602" y="314.65" font-size="3.6" fill="#e8f0f8" textLength="10" lengthAdjust="spacingAndGlyphs">Rule</text>

<rect x="600.5" y="325.4" width="16.9" height="19.5" fill="#2a8a8c"/>
<text x="602" y="336.34999999999997" font-size="3.6" fill="#e8f0f8" textLength="10" lengthAdjust="spacingAndGlyphs">Rule</text>

<rect x="600.5" y="344.9" width="16.9" height="17.400000000000034" fill="#6ec3e6"/>
<text x="602" y="354.8" font-size="3.6" fill="#e8f0f8" textLength="10" lengthAdjust="spacingAndGlyphs">Rule</text>

<rect x="600.5" y="362.3" width="16.9" height="17.30000000000001" fill="#a8daee"/>
<text x="602" y="372.15000000000003" font-size="3.6" fill="#e8f0f8" textLength="10" lengthAdjust="spacingAndGlyphs">Rule</text>

<text x="618" y="310.3" font-size="4.3" font-family="Liberation Mono" fill="#6e6e6e" textLength="95" lengthAdjust="spacingAndGlyphs">< 131.291 & X81 > 45.721 & X67 < 6.578</text>
<text x="618" y="315.1" font-size="4.3" font-family="Liberation Mono" fill="#6e6e6e" textLength="90" lengthAdjust="spacingAndGlyphs">X28 < 1.429 & X31 < 0.059 & X97 > 0.002 & X43</text>
<text x="618" y="319.5" font-size="4.3" font-family="Liberation Mono" fill="#6e6e6e" textLength="62" lengthAdjust="spacingAndGlyphs">< 131.291 & X81 > 45.721 & X67 < 6.578</text>
<text x="618" y="331.5" font-size="4.3" font-family="Liberation Mono" fill="#6e6e6e" textLength="90" lengthAdjust="spacingAndGlyphs">X28 < 1.429 & X31 < 0.059 & X97 > 0.002 & X43</text>
<text x="618" y="336.1" font-size="4.3" font-family="Liberation Mono" fill="#6e6e6e" textLength="92" lengthAdjust="spacingAndGlyphs">< 131.291 & X81 > 45.721 & X67 < 6.578</text>
<text x="618" y="341.2" font-size="4.3" font-family="Liberation Mono" fill="#6e6e6e" textLength="72" lengthAdjust="spacingAndGlyphs">< 131.291 & X81 > 45.721 & X67 < 6.578</text>
<text x="618" y="350.6" font-size="4.3" font-family="Liberation Mono" fill="#6e6e6e" textLength="87" lengthAdjust="spacingAndGlyphs">< 131.291 & X81 > 45.721 & X67 < 6.578</text>
<text x="618" y="355.3" font-size="4.3" font-family="Liberation Mono" fill="#6e6e6e" textLength="94" lengthAdjust="spacingAndGlyphs">< 131.291 & X81 > 45.721 & X67 < 6.578</text>
<text x="618" y="359.7" font-size="4.3" font-family="Liberation Mono" fill="#6e6e6e" textLength="12" lengthAdjust="spacingAndGlyphs">X101 < 0.606 & X102 > 110.906 & X13 < 91.457 &</text>
<text x="618" y="367.90000000000003" font-size="4.3" font-family="Liberation Mono" fill="#6e6e6e" textLength="87" lengthAdjust="spacingAndGlyphs">X28 < 1.429 & X31 < 0.059 & X97 > 0.002 & X43</text>
<text x="618" y="372.7" font-size="4.3" font-family="Liberation Mono" fill="#6e6e6e" textLength="92" lengthAdjust="spacingAndGlyphs">X101 < 0.606 & X102 > 110.906 & X13 < 91.457 &</text>
<text x="618" y="377.6" font-size="4.3" font-family="Liberation Mono" fill="#6e6e6e" textLength="32" lengthAdjust="spacingAndGlyphs">< 131.291 & X81 > 45.721 & X67 < 6.578</text>
<line x1="512" y1="538.6" x2="704" y2="538.6" stroke="#dcdcdc" stroke-width="0.8"/>
<line x1="515" y1="449" x2="700" y2="449" stroke="#f2f2f2" stroke-width="0.8" stroke-dasharray="3 4"/>
<line x1="515" y1="508" x2="700" y2="508" stroke="#f2f2f2" stroke-width="0.8" stroke-dasharray="3 4"/>
<rect x="515" y="432" width="170" height="90" fill="none" stroke="#f6f6f6" stroke-width="0.8"/>
<text x="747.8" y="279.5" font-size="9" font-weight="bold" fill="#1a1a1a" textLength="41.4" lengthAdjust="spacingAndGlyphs">AI Model</text>

<line x1="804.5" y1="287.3" x2="809.7" y2="287.3" stroke="#777" stroke-width="0.8"/>
<rect x="809.7" y="275.6" width="28.59999999999991" height="23.399999999999977" rx="4" fill="#ffffff" stroke="#111" stroke-width="1.9"/>
<text x="823.5" y="285.43" font-size="7.72" font-style="italic" text-anchor="middle" font-family="'Liberation Serif', serif" fill="#4e6d8c">∂L<tspan font-size="4.63" dy="1">y</tspan></text>
<line x1="816.5" y1="287.90000000000003" x2="832.0" y2="287.90000000000003" stroke="#4e6d8c" stroke-width="0.6"/>
<text x="824.0" y="295.49" font-size="7.72" font-style="italic" text-anchor="middle" font-family="'Liberation Serif', serif" fill="#4e6d8c">∂Lθ<tspan font-size="4.63" dy="1">y</tspan></text>
<path d="M838.3,287.2 C850,290 862,297 881,296.6 C898,296.2 912,292 925.1,287.6" fill="none" stroke="#15262a" stroke-width="1.9" stroke-linecap="round"/>
<path d="M980.7,279.8 C965,280.2 948,282 936,284.8" fill="none" stroke="#8ccaee" stroke-width="1.1"/>
<polygon points="930.3,286.2 936.2,281.8 937,286.3" fill="#73bdea"/>
<polygon points="754.3,298.4 759,298.4 780.8,320 780.8,362.5 775.5,362.5 754.3,340.2" fill="#8a8a8a" opacity="0.4" transform="translate(2,1.5)" filter="url(#blur1)"/>
<polygon points="754.3,298.4 758.6,298.4 779.8,320 779.8,361.8 775.5,361.8 754.3,340.2" fill="#3f3f3f"/>
<text x="0" y="0" font-size="7" fill="#111" transform="translate(745,346.5) rotate(42)" textLength="23" lengthAdjust="spacingAndGlyphs">Input X</text>
<polygon points="787,323.4 792.8,323.4 792.8,312.3 796.8,334.6 792.8,356.9 792.8,347.3 787,347.3" fill="#8a8a8a" opacity="0.35" transform="translate(1.6,1.4)" filter="url(#blur1)"/>
<polygon points="787,323.4 792.8,323.4 792.8,312.3 796.8,334.6 792.8,356.9 792.8,347.3 787,347.3" fill="#5bbaf3"/>
<polygon points="798,314.6 819.3,328.5 819.3,351.9 798,337.5" fill="#7a7a7a" opacity="0.35" transform="translate(2,1.5)" filter="url(#blur1)"/>
<polygon points="798,314.6 812.8,328.5 812.8,351.9 798,337.5" fill="#45a0df"/>
<rect x="812.8" y="328.5" width="6.5" height="23.399999999999977" fill="#5bbaf3"/>
<polygon points="798,314.6 799.2,314.0 819.3,327.9 819.3,328.5 812.8,330.1 798,316.40000000000003" fill="#86cdf6"/>
<polygon points="825.2,321.8 830.5999999999999,321.8 830.5999999999999,310.7 835.8,333.79999999999995 830.5999999999999,356.9 830.5999999999999,347.3 825.2,347.3" fill="#8a8a8a" opacity="0.35" transform="translate(1.6,1.4)" filter="url(#blur1)"/>
<polygon points="825.2,321.8 830.5999999999999,321.8 830.5999999999999,310.7 835.8,333.79999999999995 830.5999999999999,356.9 830.5999999999999,347.3 825.2,347.3" fill="#5bbaf3"/>
<polygon points="839.3,314 859.7,327.6 859.7,352.3 839.3,338.5" fill="#7a7a7a" opacity="0.35" transform="translate(2,1.5)" filter="url(#blur1)"/>
<polygon points="839.3,314 851,327.6 851,352.3 839.3,338.5" fill="#45a0df"/>
<rect x="851" y="327.6" width="8.700000000000045" height="24.69999999999999" fill="#5bbaf3"/>
<polygon points="839.3,314 840.5,313.4 859.7,327.0 859.7,327.6 851,329.20000000000005 839.3,315.8" fill="#86cdf6"/>
<polygon points="866.6,322 872.0,322 872.0,311.5 877.9,334.0 872.0,356.5 872.0,346.5 866.6,346.5" fill="#8a8a8a" opacity="0.35" transform="translate(1.6,1.4)" filter="url(#blur1)"/>
<polygon points="866.6,322 872.0,322 872.0,311.5 877.9,334.0 872.0,356.5 872.0,346.5 866.6,346.5" fill="#5bbaf3"/>
<polygon points="883.3,317.9 896,321 896,348.1 883.3,343.3" fill="#7a7a7a" opacity="0.35" transform="translate(2,1.5)" filter="url(#blur1)"/>
<polygon points="883.3,317.9 889.7,321 889.7,348.1 883.3,343.3" fill="#45a0df"/>
<rect x="889.7" y="321" width="6.2999999999999545" height="27.100000000000023" fill="#5bbaf3"/>
<polygon points="883.3,317.9 884.5,317.29999999999995 896,320.4 896,321 889.7,322.6 883.3,319.7" fill="#86cdf6"/>
<polygon points="902.4,322 907.0,322 907.0,310.7 912.2,334.6 907.0,358.5 907.0,346 902.4,346" fill="#8a8a8a" opacity="0.35" transform="translate(1.6,1.4)" filter="url(#blur1)"/>
<polygon points="902.4,322 907.0,322 907.0,310.7 912.2,334.6 907.0,358.5 907.0,346 902.4,346" fill="#5bbaf3"/>
<polygon points="916.8,317 925.5,318.7 925.5,344.1 916.8,341.8" fill="#7a7a7a" opacity="0.35" transform="translate(2,1.5)" filter="url(#blur1)"/>
<polygon points="916.8,317 919.9,318.7 919.9,344.1 916.8,341.8" fill="#45a0df"/>
<rect x="919.9" y="318.7" width="5.600000000000023" height="25.400000000000034" fill="#5bbaf3"/>
<polygon points="916.8,317 918.0,316.4 925.5,318.09999999999997 925.5,318.7 919.9,320.3 916.8,318.8" fill="#86cdf6"/>
<rect x="844.3" y="356.6" width="27.90000000000009" height="23.399999999999977" rx="4" fill="#ffffff" stroke="#111" stroke-width="1.9"/>
<text x="857.75" y="366.43" font-size="7.72" font-style="italic" text-anchor="middle" font-family="'Liberation Serif', serif" fill="#4e6d8c">∂L<tspan font-size="4.63" dy="1">y</tspan></text>
<line x1="850.75" y1="368.90000000000003" x2="866.25" y2="368.90000000000003" stroke="#4e6d8c" stroke-width="0.6"/>
<text x="858.25" y="376.49" font-size="7.72" font-style="italic" text-anchor="middle" font-family="'Liberation Serif', serif" fill="#4e6d8c">∂Lθ<tspan font-size="4.63" dy="1">y</tspan></text>
<path d="M745.6,385.8 Q746,388.3 749,388.3 L837.5,388.3 Q840,388.5 840.3,391 Q840.6,388.5 843,388.3 L926,388.3 Q929,388.3 929.3,385.8" fill="none" stroke="#a8cbe2" stroke-width="0.9"/>
<text x="813.2" y="400.7" font-size="7.8" fill="#333" textLength="66" lengthAdjust="spacingAndGlyphs">Features extraction</text>

<text x="766.3" y="414.7" font-size="9.6" fill="#333" textLength="143.6" lengthAdjust="spacingAndGlyphs">Data training based on cell line A</text>

<path d="M1024.3,279.3 C1040,281 1050,283 1059.7,286.4" fill="none" stroke="#8c8c8c" stroke-width="1.5"/>
<rect x="996.9" y="267.7" width="27.399999999999977" height="22.69999999999999" rx="4" fill="#ffffff" stroke="#8c8c8c" stroke-width="1.6"/>
<text x="1010.0999999999999" y="277.23" font-size="7.49" font-style="italic" text-anchor="middle" font-family="'Liberation Serif', serif" fill="#7bb6e0">∂L<tspan font-size="4.49" dy="1">y</tspan></text>
<line x1="1003.0999999999999" y1="279.65" x2="1018.5999999999999" y2="279.65" stroke="#7bb6e0" stroke-width="0.6"/>
<text x="1010.5999999999999" y="286.99" font-size="7.49" font-style="italic" text-anchor="middle" font-family="'Liberation Serif', serif" fill="#7bb6e0">∂Lθ<tspan font-size="4.49" dy="1">y</tspan></text>
<ellipse cx="1088.6" cy="287" rx="29.9" ry="9.2" fill="#ffffff" stroke="#8c8c8c" stroke-width="1.7"/>
<text x="1088" y="289.5" font-size="7" text-anchor="middle" font-family="'Liberation Serif', serif" fill="#73b3e3">Loss <tspan font-style="italic">L</tspan><tspan font-size="4.5" font-style="italic" dy="1">y</tspan></text>
<polygon points="942.2,307 951.0999999999999,307 951.0999999999999,296.1 960.4,314.3 951.0999999999999,332.5 951.0999999999999,331 942.2,331" fill="#8a8a8a" opacity="0.35" transform="translate(1.6,1.4)" filter="url(#blur1)"/>
<polygon points="942.2,307 951.0999999999999,307 951.0999999999999,296.1 960.4,314.3 951.0999999999999,332.5 951.0999999999999,331 942.2,331" fill="#5bbaf3"/>
<polygon points="970.5,303.6 981.7,306 981.7,332.6 970.5,330.5" fill="#7a7a7a" opacity="0.35" transform="translate(2,1.5)" filter="url(#blur1)"/>
<polygon points="970.5,303.6 975.5,306 975.5,332.6 970.5,330.5" fill="#45a0df"/>
<rect x="975.5" y="306" width="6.2000000000000455" height="26.600000000000023" fill="#5bbaf3"/>
<polygon points="970.5,303.6 971.7,303.0 981.7,305.4 981.7,306 975.5,307.6 970.5,305.40000000000003" fill="#86cdf6"/>
<polygon points="990.8,307 998.8,307 998.8,296.1 1003.5,314.3 998.8,332.5 998.8,331 990.8,331" fill="#8a8a8a" opacity="0.35" transform="translate(1.6,1.4)" filter="url(#blur1)"/>
<polygon points="990.8,307 998.8,307 998.8,296.1 1003.5,314.3 998.8,332.5 998.8,331 990.8,331" fill="#5bbaf3"/>
<polygon points="1013.1,303.6 1022.2,306 1022.2,332.6 1013.1,330.5" fill="#7a7a7a" opacity="0.35" transform="translate(2,1.5)" filter="url(#blur1)"/>
<polygon points="1013.1,303.6 1017,306 1017,332.6 1013.1,330.5" fill="#45a0df"/>
<rect x="1017" y="306" width="5.2000000000000455" height="26.600000000000023" fill="#5bbaf3"/>
<polygon points="1013.1,303.6 1014.3000000000001,303.0 1022.2,305.4 1022.2,306 1017,307.6 1013.1,305.40000000000003" fill="#86cdf6"/>
<polygon points="1033.4,307 1042.3,307 1042.3,296.1 1046.8,314.3 1042.3,332.5 1042.3,331 1033.4,331" fill="#8a8a8a" opacity="0.35" transform="translate(1.6,1.4)" filter="url(#blur1)"/>
<polygon points="1033.4,307 1042.3,307 1042.3,296.1 1046.8,314.3 1042.3,332.5 1042.3,331 1033.4,331" fill="#5bbaf3"/>
<polygon points="1051.6,289.4 1058,293.5 1076.8,293.5 1076.8,341.5 1053,341.5 1051.6,340" fill="#8a8a8a" opacity="0.3" transform="translate(1.5,1)" filter="url(#blur1)"/>
<polygon points="1051.6,289.4 1057,293.5 1057,340 1051.6,337" fill="#45a0df"/>
<polygon points="1051.6,289.4 1070,289.4 1075,293.5 1057,293.5" fill="#86cdf6"/>
<rect x="1057" y="293.5" width="18" height="46.5" fill="#5bbaf3"/>
<line x1="936" y1="334" x2="1098" y2="334" stroke="#b9d8ec" stroke-width="0.8"/>
<text x="1079" y="317.2" font-size="8.4" fill="#2f78bd" textLength="26.3" lengthAdjust="spacingAndGlyphs">Output</text>

<text x="1082" y="328.5" font-size="8.4" fill="#2f78bd" textLength="21.3" lengthAdjust="spacingAndGlyphs">Cell A</text>

<polygon points="945.2,376.6 952,362 949.5,354 962,346.5 970.5,341 968,352 958.5,366" fill="#8a8a8a" opacity="0.3" transform="translate(1.5,1.5)" filter="url(#blur1)"/>
<polygon points="945.2,376.6 952,362 949.5,354 962,346.5 970.5,341 968,352 958.5,366" fill="#a6d96e"/>
<polygon points="971.6,347.2 980.7,349.5 980.7,376.6 971.6,374" fill="#7a7a7a" opacity="0.35" transform="translate(2,1.5)" filter="url(#blur1)"/>
<polygon points="971.6,347.2 975.5,349.5 975.5,376.6 971.6,374" fill="#7fb94a"/>
<rect x="975.5" y="349.5" width="5.2000000000000455" height="27.100000000000023" fill="#a6d96e"/>
<polygon points="971.6,347.2 972.8000000000001,346.59999999999997 980.7,348.9 980.7,349.5 975.5,351.1 971.6,349.0" fill="#c4e79a"/>
<polygon points="990.8,350 997.3,350 997.3,342.1 1002.2,360.85 997.3,379.6 997.3,376 990.8,376" fill="#8a8a8a" opacity="0.35" transform="translate(1.6,1.4)" filter="url(#blur1)"/>
<polygon points="990.8,350 997.3,350 997.3,342.1 1002.2,360.85 997.3,379.6 997.3,376 990.8,376" fill="#a6d96e"/>
<polygon points="1016.2,350.8 1023.7,352.5 1023.7,378.6 1016.2,376.5" fill="#7a7a7a" opacity="0.35" transform="translate(2,1.5)" filter="url(#blur1)"/>
<polygon points="1016.2,350.8 1019.5,352.5 1019.5,378.6 1016.2,376.5" fill="#7fb94a"/>
<rect x="1019.5" y="352.5" width="4.2000000000000455" height="26.100000000000023" fill="#a6d96e"/>
<polygon points="1016.2,350.8 1017.4000000000001,350.2 1023.7,351.9 1023.7,352.5 1019.5,354.1 1016.2,352.6" fill="#c4e79a"/>
<polygon points="1035.4,352 1041.3,352 1041.3,345 1045.8,362.5 1041.3,380 1041.3,377 1035.4,377" fill="#8a8a8a" opacity="0.35" transform="translate(1.6,1.4)" filter="url(#blur1)"/>
<polygon points="1035.4,352 1041.3,352 1041.3,345 1045.8,362.5 1041.3,380 1041.3,377 1035.4,377" fill="#a6d96e"/>
<polygon points="1052.6,338 1076.8,338 1076.8,387.5 1052.6,387.5" fill="#8a8a8a" opacity="0.3" transform="translate(1.5,1)" filter="url(#blur1)"/>
<polygon points="1052.6,338 1057,342 1057,386.7 1052.6,383" fill="#7fb94a"/>
<polygon points="1052.6,338 1070.5,338 1075,342 1057,342" fill="#c4e79a"/>
<rect x="1057" y="342" width="18" height="44.7" fill="#a6d96e"/>
<line x1="1057" y1="371" x2="1075" y2="371" stroke="#e6f4d4" stroke-width="0.8"/>
<line x1="1057" y1="375" x2="1075" y2="375" stroke="#e6f4d4" stroke-width="0.8"/>
<line x1="1057" y1="379" x2="1075" y2="379" stroke="#e6f4d4" stroke-width="0.8"/>
<line x1="1057" y1="383" x2="1075" y2="383" stroke="#e6f4d4" stroke-width="0.8"/>
<line x1="944" y1="379.6" x2="1080" y2="379.6" stroke="#cfe3b4" stroke-width="0.8"/>
<text x="955.3" y="340.7" font-size="7.2" fill="#243c5a" textLength="98.4" lengthAdjust="spacingAndGlyphs">Feature space to source dom</text>

<text x="1079" y="357.7" font-size="8.4" fill="#47902f" textLength="26.3" lengthAdjust="spacingAndGlyphs">Output</text>

<text x="1082" y="369" font-size="8.4" fill="#47902f" textLength="21.3" lengthAdjust="spacingAndGlyphs">Cell B</text>

<text x="955.3" y="386.1" font-size="7.2" fill="#1a1a1a" textLength="106.5" lengthAdjust="spacingAndGlyphs">Feature space to target domain</text>

<text x="946.7" y="419.7" font-size="9.6" fill="#333" textLength="142.3" lengthAdjust="spacingAndGlyphs">Data training based on cell line B</text>

<text x="751.1" y="439.2" font-size="9.3" font-weight="bold" fill="#1a1a1a" textLength="118.6" lengthAdjust="spacingAndGlyphs">Non-Convex Optimization</text>
<polygon points="770,476 822,450 822,480 771,506" fill="#f5f5f5"/>
<polygon points="822,450 874,472 873,505 822,480" fill="#f1f1f1"/>
<polygon points="771,506 822,480 873,505 824,546" fill="#f4f4f4"/>
<line x1="778.7" y1="471.7" x2="778.7" y2="501.7" stroke="#e2e2e2" stroke-width="0.5"/>
<line x1="830.7" y1="453.7" x2="830.7" y2="484.2" stroke="#e2e2e2" stroke-width="0.5"/>
<line x1="787.3" y1="467.3" x2="787.3" y2="497.3" stroke="#e2e2e2" stroke-width="0.5"/>
<line x1="839.3" y1="457.3" x2="839.3" y2="488.3" stroke="#e2e2e2" stroke-width="0.5"/>
<line x1="796.0" y1="463.0" x2="796.0" y2="493.0" stroke="#e2e2e2" stroke-width="0.5"/>
<line x1="848.0" y1="461.0" x2="848.0" y2="492.5" stroke="#e2e2e2" stroke-width="0.5"/>
<line x1="804.7" y1="458.7" x2="804.7" y2="488.7" stroke="#e2e2e2" stroke-width="0.5"/>
<line x1="856.7" y1="464.7" x2="856.7" y2="496.7" stroke="#e2e2e2" stroke-width="0.5"/>
<line x1="813.3" y1="454.3" x2="813.3" y2="484.3" stroke="#e2e2e2" stroke-width="0.5"/>
<line x1="865.3" y1="468.3" x2="865.3" y2="500.8" stroke="#e2e2e2" stroke-width="0.5"/>
<line x1="779.8" y1="512.7" x2="830.5" y2="484.2" stroke="#e4e4e4" stroke-width="0.5"/>
<line x1="779.5" y1="501.7" x2="832.2" y2="539.2" stroke="#e4e4e4" stroke-width="0.5"/>
<line x1="788.7" y1="519.3" x2="839.0" y2="488.3" stroke="#e4e4e4" stroke-width="0.5"/>
<line x1="788.0" y1="497.3" x2="840.3" y2="532.3" stroke="#e4e4e4" stroke-width="0.5"/>
<line x1="797.5" y1="526.0" x2="847.5" y2="492.5" stroke="#e4e4e4" stroke-width="0.5"/>
<line x1="796.5" y1="493.0" x2="848.5" y2="525.5" stroke="#e4e4e4" stroke-width="0.5"/>
<line x1="806.3" y1="532.7" x2="856.0" y2="496.7" stroke="#e4e4e4" stroke-width="0.5"/>
<line x1="805.0" y1="488.7" x2="856.7" y2="518.7" stroke="#e4e4e4" stroke-width="0.5"/>
<line x1="815.2" y1="539.3" x2="864.5" y2="500.8" stroke="#e4e4e4" stroke-width="0.5"/>
<line x1="813.5" y1="484.3" x2="864.8" y2="511.8" stroke="#e4e4e4" stroke-width="0.5"/>
<line x1="771" y1="506" x2="824" y2="546" stroke="#d2d2d2" stroke-width="0.6"/>
<line x1="824" y1="546" x2="873" y2="505" stroke="#d2d2d2" stroke-width="0.6"/>
<line x1="770" y1="476" x2="771" y2="506" stroke="#d8d8d8" stroke-width="0.5"/>
<circle cx="823.0" cy="480.6" r="2.3" fill="#4b3fe0"/>
<circle cx="821.3" cy="479.8" r="2.3" fill="#3d81ed"/>
<circle cx="824.7" cy="479.8" r="2.3" fill="#3d81ed"/>
<circle cx="819.5" cy="479.1" r="2.3" fill="#38a9ed"/>
<circle cx="823.0" cy="479.0" r="2.3" fill="#38acec"/>
<circle cx="826.5" cy="479.1" r="2.3" fill="#38a9ed"/>
<circle cx="817.8" cy="478.6" r="2.3" fill="#37c8e9"/>
<circle cx="821.3" cy="478.3" r="2.3" fill="#36cde8"/>
<circle cx="824.7" cy="478.3" r="2.3" fill="#36cde8"/>
<circle cx="828.2" cy="478.6" r="2.3" fill="#37c8e9"/>
<circle cx="816.1" cy="478.2" r="2.3" fill="#4ad9dd"/>
<circle cx="819.5" cy="477.8" r="2.3" fill="#52ddd8"/>
<circle cx="823.0" cy="477.6" r="2.3" fill="#55ded7"/>
<circle cx="826.5" cy="477.8" r="2.3" fill="#52ddd8"/>
<circle cx="829.9" cy="478.2" r="2.3" fill="#4ad9dd"/>
<circle cx="814.3" cy="478.0" r="2.3" fill="#62e4cf"/>
<circle cx="817.8" cy="477.4" r="2.3" fill="#6ee9c9"/>
<circle cx="821.3" cy="477.1" r="2.3" fill="#73ebc6"/>
<circle cx="824.7" cy="477.1" r="2.3" fill="#73ebc6"/>
<circle cx="828.2" cy="477.4" r="2.3" fill="#6ee9c9"/>
<circle cx="831.7" cy="478.0" r="2.3" fill="#62e4cf"/>
<circle cx="816.1" cy="477.2" r="2.3" fill="#86f0bd"/>
<circle cx="829.9" cy="477.2" r="2.3" fill="#86f0bd"/>
<circle cx="812.6" cy="478.0" r="2.3" fill="#78edc4"/>
<circle cx="819.5" cy="476.7" r="2.3" fill="#8ef0b9"/>
<circle cx="823.0" cy="476.6" r="2.3" fill="#91f0b8"/>
<circle cx="826.5" cy="476.7" r="2.3" fill="#8ef0b9"/>
<circle cx="833.4" cy="478.0" r="2.3" fill="#78edc4"/>
<circle cx="810.9" cy="478.1" r="2.3" fill="#8af0bb"/>
<circle cx="814.3" cy="477.1" r="2.3" fill="#9bf0b4"/>
<circle cx="817.8" cy="476.5" r="2.3" fill="#a6f0af"/>
<circle cx="828.2" cy="476.5" r="2.3" fill="#a6f0af"/>
<circle cx="831.7" cy="477.1" r="2.3" fill="#9bf0b4"/>
<circle cx="835.1" cy="478.1" r="2.3" fill="#8af0bb"/>
<circle cx="821.3" cy="476.2" r="2.3" fill="#abf0ac"/>
<circle cx="824.7" cy="476.2" r="2.3" fill="#abf0ac"/>
<circle cx="809.2" cy="478.3" r="2.3" fill="#99f0b4"/>
<circle cx="812.6" cy="477.2" r="2.3" fill="#acf0ac"/>
<circle cx="816.1" cy="476.5" r="2.3" fill="#baf0a6"/>
<circle cx="819.5" cy="476.0" r="2.3" fill="#c2f0a3"/>
<circle cx="823.0" cy="475.9" r="2.3" fill="#c5f0a1"/>
<circle cx="826.5" cy="476.0" r="2.3" fill="#c2f0a3"/>
<circle cx="829.9" cy="476.5" r="2.3" fill="#baf0a6"/>
<circle cx="833.4" cy="477.2" r="2.3" fill="#acf0ac"/>
<circle cx="836.8" cy="478.3" r="2.3" fill="#99f0b4"/>
<circle cx="807.4" cy="478.7" r="2.3" fill="#a6f0af"/>
<circle cx="810.9" cy="477.5" r="2.3" fill="#bbf0a5"/>
<circle cx="814.3" cy="476.6" r="2.3" fill="#cbee9e"/>
<circle cx="821.3" cy="475.6" r="2.3" fill="#d7e696"/>
<circle cx="824.7" cy="475.6" r="2.3" fill="#d7e696"/>
<circle cx="831.7" cy="476.6" r="2.3" fill="#cbee9e"/>
<circle cx="835.1" cy="477.5" r="2.3" fill="#bbf0a5"/>
<circle cx="838.6" cy="478.7" r="2.3" fill="#a6f0af"/>
<circle cx="817.8" cy="475.9" r="2.3" fill="#d3e999"/>
<circle cx="828.2" cy="475.9" r="2.3" fill="#d3e999"/>
<circle cx="805.7" cy="479.3" r="2.3" fill="#aff0ab"/>
<circle cx="809.2" cy="477.9" r="2.3" fill="#c7f0a0"/>
<circle cx="812.6" cy="476.8" r="2.3" fill="#d6e696"/>
<circle cx="816.1" cy="476.0" r="2.3" fill="#e1df8f"/>
<circle cx="819.5" cy="475.6" r="2.3" fill="#e7db8b"/>
<circle cx="823.0" cy="475.4" r="2.3" fill="#e9da8a"/>
<circle cx="826.5" cy="475.6" r="2.3" fill="#e7db8b"/>
<circle cx="829.9" cy="476.0" r="2.3" fill="#e1df8f"/>
<circle cx="833.4" cy="476.8" r="2.3" fill="#d6e696"/>
<circle cx="836.8" cy="477.9" r="2.3" fill="#c7f0a0"/>
<circle cx="840.3" cy="479.3" r="2.3" fill="#aff0ab"/>
<circle cx="804.0" cy="480.0" r="2.3" fill="#b6f0a8"/>
<circle cx="807.4" cy="478.4" r="2.3" fill="#cfeb9b"/>
<circle cx="810.9" cy="477.2" r="2.3" fill="#e0e090"/>
<circle cx="814.3" cy="476.3" r="2.3" fill="#ecd888"/>
<circle cx="817.8" cy="475.7" r="2.3" fill="#f5d282"/>
<circle cx="821.3" cy="475.4" r="2.3" fill="#f8cf7f"/>
<circle cx="824.7" cy="475.4" r="2.3" fill="#f8cf7f"/>
<circle cx="828.2" cy="475.7" r="2.3" fill="#f5d282"/>
<circle cx="831.7" cy="476.3" r="2.3" fill="#ecd888"/>
<circle cx="835.1" cy="477.2" r="2.3" fill="#e0e090"/>
<circle cx="838.6" cy="478.4" r="2.3" fill="#cfeb9b"/>
<circle cx="842.0" cy="480.0" r="2.3" fill="#b6f0a8"/>
<circle cx="805.7" cy="479.1" r="2.3" fill="#d4e898"/>
<circle cx="819.5" cy="475.5" r="2.3" fill="#f8bf75"/>
<circle cx="826.5" cy="475.5" r="2.3" fill="#f8bf75"/>
<circle cx="840.3" cy="479.1" r="2.3" fill="#d4e898"/>
<circle cx="802.2" cy="480.8" r="2.3" fill="#baf0a6"/>
<circle cx="809.2" cy="477.8" r="2.3" fill="#e7db8b"/>
<circle cx="812.6" cy="476.7" r="2.3" fill="#f6d181"/>
<circle cx="816.1" cy="475.9" r="2.3" fill="#f8c67a"/>
<circle cx="823.0" cy="475.3" r="2.3" fill="#f8bc74"/>
<circle cx="829.9" cy="475.9" r="2.3" fill="#f8c67a"/>
<circle cx="833.4" cy="476.7" r="2.3" fill="#f6d181"/>
<circle cx="836.8" cy="477.8" r="2.3" fill="#e7db8b"/>
<circle cx="843.8" cy="480.8" r="2.3" fill="#baf0a6"/>
<circle cx="800.5" cy="481.9" r="2.3" fill="#bbf0a5"/>
<circle cx="804.0" cy="480.0" r="2.3" fill="#d7e696"/>
<circle cx="807.4" cy="478.5" r="2.3" fill="#ecd888"/>
<circle cx="814.3" cy="476.3" r="2.3" fill="#f8bb73"/>
<circle cx="817.8" cy="475.7" r="2.3" fill="#f8b16d"/>
<circle cx="821.3" cy="475.4" r="2.3" fill="#f8ac69"/>
<circle cx="824.7" cy="475.4" r="2.3" fill="#f8ac69"/>
<circle cx="828.2" cy="475.7" r="2.3" fill="#f8b16d"/>
<circle cx="831.7" cy="476.3" r="2.3" fill="#f8bb73"/>
<circle cx="838.6" cy="478.5" r="2.3" fill="#ecd888"/>
<circle cx="842.0" cy="480.0" r="2.3" fill="#d7e696"/>
<circle cx="845.5" cy="481.9" r="2.3" fill="#bbf0a5"/>
<circle cx="810.9" cy="477.3" r="2.3" fill="#f8ca7c"/>
<circle cx="835.1" cy="477.3" r="2.3" fill="#f8ca7c"/>
<circle cx="798.8" cy="483.0" r="2.3" fill="#baf0a6"/>
<circle cx="802.2" cy="481.0" r="2.3" fill="#d9e595"/>
<circle cx="816.1" cy="476.1" r="2.3" fill="#f8a666"/>
<circle cx="823.0" cy="475.5" r="2.3" fill="#f89c60"/>
<circle cx="829.9" cy="476.1" r="2.3" fill="#f8a666"/>
<circle cx="843.8" cy="481.0" r="2.3" fill="#d9e595"/>
<circle cx="847.2" cy="483.0" r="2.3" fill="#baf0a6"/>
<circle cx="805.7" cy="479.3" r="2.3" fill="#f0d686"/>
<circle cx="809.2" cy="478.0" r="2.3" fill="#f8c478"/>
<circle cx="812.6" cy="476.9" r="2.3" fill="#f8b26d"/>
<circle cx="819.5" cy="475.7" r="2.3" fill="#f89e61"/>
<circle cx="826.5" cy="475.7" r="2.3" fill="#f89e61"/>
<circle cx="833.4" cy="476.9" r="2.3" fill="#f8b26d"/>
<circle cx="836.8" cy="478.0" r="2.3" fill="#f8c478"/>
<circle cx="840.3" cy="479.3" r="2.3" fill="#f0d686"/>
<circle cx="797.0" cy="484.3" r="2.3" fill="#b6f0a8"/>
<circle cx="800.5" cy="482.2" r="2.3" fill="#d7e696"/>
<circle cx="845.5" cy="482.2" r="2.3" fill="#d7e696"/>
<circle cx="849.0" cy="484.3" r="2.3" fill="#b6f0a8"/>
<circle cx="804.0" cy="480.4" r="2.3" fill="#f1d585"/>
<circle cx="810.9" cy="477.6" r="2.3" fill="#f8ac69"/>
<circle cx="814.3" cy="476.7" r="2.3" fill="#f89d60"/>
<circle cx="817.8" cy="476.1" r="2.3" fill="#f8935a"/>
<circle cx="821.3" cy="475.8" r="2.3" fill="#f88e57"/>
<circle cx="824.7" cy="475.8" r="2.3" fill="#f88e57"/>
<circle cx="828.2" cy="476.1" r="2.3" fill="#f8935a"/>
<circle cx="831.7" cy="476.7" r="2.3" fill="#f89d60"/>
<circle cx="835.1" cy="477.6" r="2.3" fill="#f8ac69"/>
<circle cx="842.0" cy="480.4" r="2.3" fill="#f1d585"/>
<circle cx="807.4" cy="478.8" r="2.3" fill="#f8c076"/>
<circle cx="838.6" cy="478.8" r="2.3" fill="#f8c076"/>
<circle cx="798.8" cy="483.5" r="2.3" fill="#d4e898"/>
<circle cx="847.2" cy="483.5" r="2.3" fill="#d4e898"/>
<circle cx="802.2" cy="481.5" r="2.3" fill="#f0d686"/>
<circle cx="812.6" cy="477.4" r="2.3" fill="#f8975c"/>
<circle cx="819.5" cy="476.2" r="2.3" fill="#f58250"/>
<circle cx="826.5" cy="476.2" r="2.3" fill="#f58250"/>
<circle cx="833.4" cy="477.4" r="2.3" fill="#f8975c"/>
<circle cx="843.8" cy="481.5" r="2.3" fill="#f0d686"/>
<circle cx="795.3" cy="485.8" r="2.3" fill="#aff0ab"/>
<circle cx="805.7" cy="479.8" r="2.3" fill="#f8bf75"/>
<circle cx="809.2" cy="478.5" r="2.3" fill="#f8a867"/>
<circle cx="816.1" cy="476.6" r="2.3" fill="#f78a55"/>
<circle cx="823.0" cy="476.0" r="2.3" fill="#f57f4e"/>
<circle cx="829.9" cy="476.6" r="2.3" fill="#f78a55"/>
<circle cx="836.8" cy="478.5" r="2.3" fill="#f8a867"/>
<circle cx="840.3" cy="479.8" r="2.3" fill="#f8bf75"/>
<circle cx="850.7" cy="485.8" r="2.3" fill="#aff0ab"/>
<circle cx="800.5" cy="482.8" r="2.3" fill="#ecd888"/>
<circle cx="845.5" cy="482.8" r="2.3" fill="#ecd888"/>
<circle cx="793.6" cy="487.4" r="2.3" fill="#a6f0af"/>
<circle cx="797.0" cy="485.0" r="2.3" fill="#cfeb9b"/>
<circle cx="804.0" cy="481.0" r="2.3" fill="#f8c076"/>
<circle cx="807.4" cy="479.5" r="2.3" fill="#f8a766"/>
<circle cx="810.9" cy="478.2" r="2.3" fill="#f8935a"/>
<circle cx="814.3" cy="477.3" r="2.3" fill="#f68351"/>
<circle cx="817.8" cy="476.7" r="2.3" fill="#f4784b"/>
<circle cx="821.3" cy="476.4" r="2.3" fill="#f27247"/>
<circle cx="824.7" cy="476.4" r="2.3" fill="#f27247"/>
<circle cx="828.2" cy="476.7" r="2.3" fill="#f4784b"/>
<circle cx="831.7" cy="477.3" r="2.3" fill="#f68351"/>
<circle cx="835.1" cy="478.2" r="2.3" fill="#f8935a"/>
<circle cx="838.6" cy="479.5" r="2.3" fill="#f8a766"/>
<circle cx="842.0" cy="481.0" r="2.3" fill="#f8c076"/>
<circle cx="849.0" cy="485.0" r="2.3" fill="#cfeb9b"/>
<circle cx="852.4" cy="487.4" r="2.3" fill="#a6f0af"/>
<circle cx="791.8" cy="489.2" r="2.3" fill="#99f0b4"/>
<circle cx="795.3" cy="486.6" r="2.3" fill="#c7f0a0"/>
<circle cx="802.2" cy="482.3" r="2.3" fill="#f8c478"/>
<circle cx="805.7" cy="480.6" r="2.3" fill="#f8a867"/>
<circle cx="809.2" cy="479.3" r="2.3" fill="#f89259"/>
<circle cx="816.1" cy="477.4" r="2.3" fill="#f27147"/>
<circle cx="823.0" cy="476.8" r="2.3" fill="#f06640"/>
<circle cx="829.9" cy="477.4" r="2.3" fill="#f27147"/>
<circle cx="836.8" cy="479.3" r="2.3" fill="#f89259"/>
<circle cx="840.3" cy="480.6" r="2.3" fill="#f8a867"/>
<circle cx="843.8" cy="482.3" r="2.3" fill="#f8c478"/>
<circle cx="850.7" cy="486.6" r="2.3" fill="#c7f0a0"/>
<circle cx="854.2" cy="489.2" r="2.3" fill="#99f0b4"/>
<circle cx="798.8" cy="484.3" r="2.3" fill="#e7db8b"/>
<circle cx="812.6" cy="478.2" r="2.3" fill="#f57f4e"/>
<circle cx="819.5" cy="477.0" r="2.3" fill="#f16942"/>
<circle cx="826.5" cy="477.0" r="2.3" fill="#f16942"/>
<circle cx="833.4" cy="478.2" r="2.3" fill="#f57f4e"/>
<circle cx="847.2" cy="484.3" r="2.3" fill="#e7db8b"/>
<circle cx="790.1" cy="491.2" r="2.3" fill="#8af0bb"/>
<circle cx="793.6" cy="488.4" r="2.3" fill="#bbf0a5"/>
<circle cx="804.0" cy="482.0" r="2.3" fill="#f8ac69"/>
<circle cx="807.4" cy="480.4" r="2.3" fill="#f8935a"/>
<circle cx="838.6" cy="480.4" r="2.3" fill="#f8935a"/>
<circle cx="842.0" cy="482.0" r="2.3" fill="#f8ac69"/>
<circle cx="852.4" cy="488.4" r="2.3" fill="#bbf0a5"/>
<circle cx="855.9" cy="491.2" r="2.3" fill="#8af0bb"/>
<circle cx="797.0" cy="486.0" r="2.3" fill="#e0e090"/>
<circle cx="810.9" cy="479.2" r="2.3" fill="#f57e4e"/>
<circle cx="814.3" cy="478.3" r="2.3" fill="#f16d44"/>
<circle cx="817.8" cy="477.7" r="2.3" fill="#ef623e"/>
<circle cx="821.3" cy="477.4" r="2.3" fill="#ee5c3b"/>
<circle cx="824.7" cy="477.4" r="2.3" fill="#ee5c3b"/>
<circle cx="828.2" cy="477.7" r="2.3" fill="#ef623e"/>
<circle cx="831.7" cy="478.3" r="2.3" fill="#f16d44"/>
<circle cx="835.1" cy="479.2" r="2.3" fill="#f57e4e"/>
<circle cx="849.0" cy="486.0" r="2.3" fill="#e0e090"/>
<circle cx="800.5" cy="483.8" r="2.3" fill="#f8ca7c"/>
<circle cx="845.5" cy="483.8" r="2.3" fill="#f8ca7c"/>
<circle cx="791.8" cy="490.3" r="2.3" fill="#acf0ac"/>
<circle cx="805.7" cy="481.8" r="2.3" fill="#f8975c"/>
<circle cx="840.3" cy="481.8" r="2.3" fill="#f8975c"/>
<circle cx="854.2" cy="490.3" r="2.3" fill="#acf0ac"/>
<circle cx="795.3" cy="487.7" r="2.3" fill="#d6e696"/>
<circle cx="809.2" cy="480.4" r="2.3" fill="#f57f4e"/>
<circle cx="812.6" cy="479.3" r="2.3" fill="#f16b44"/>
<circle cx="819.5" cy="478.1" r="2.3" fill="#ed5537"/>
<circle cx="826.5" cy="478.1" r="2.3" fill="#ed5537"/>
<circle cx="833.4" cy="479.3" r="2.3" fill="#f16b44"/>
<circle cx="836.8" cy="480.4" r="2.3" fill="#f57f4e"/>
<circle cx="850.7" cy="487.7" r="2.3" fill="#d6e696"/>
<circle cx="788.4" cy="493.3" r="2.3" fill="#78edc4"/>
<circle cx="798.8" cy="485.4" r="2.3" fill="#f6d181"/>
<circle cx="802.2" cy="483.4" r="2.3" fill="#f8b26d"/>
<circle cx="816.1" cy="478.5" r="2.3" fill="#ef5e3c"/>
<circle cx="823.0" cy="477.9" r="2.3" fill="#ed5336"/>
<circle cx="829.9" cy="478.5" r="2.3" fill="#ef5e3c"/>
<circle cx="843.8" cy="483.4" r="2.3" fill="#f8b26d"/>
<circle cx="847.2" cy="485.4" r="2.3" fill="#f6d181"/>
<circle cx="857.6" cy="493.3" r="2.3" fill="#78edc4"/>
<circle cx="793.6" cy="489.7" r="2.3" fill="#cbee9e"/>
<circle cx="807.4" cy="481.7" r="2.3" fill="#f68351"/>
<circle cx="810.9" cy="480.5" r="2.3" fill="#f16d44"/>
<circle cx="835.1" cy="480.5" r="2.3" fill="#f16d44"/>
<circle cx="838.6" cy="481.7" r="2.3" fill="#f68351"/>
<circle cx="852.4" cy="489.7" r="2.3" fill="#cbee9e"/>
<circle cx="786.7" cy="495.5" r="2.3" fill="#62e4cf"/>
<circle cx="790.1" cy="492.4" r="2.3" fill="#9bf0b4"/>
<circle cx="797.0" cy="487.2" r="2.3" fill="#ecd888"/>
<circle cx="800.5" cy="485.1" r="2.3" fill="#f8bb73"/>
<circle cx="804.0" cy="483.2" r="2.3" fill="#f89d60"/>
<circle cx="814.3" cy="479.6" r="2.3" fill="#ee5c3b"/>
<circle cx="817.8" cy="478.9" r="2.3" fill="#ec5135"/>
<circle cx="821.3" cy="478.6" r="2.3" fill="#eb4c32"/>
<circle cx="824.7" cy="478.6" r="2.3" fill="#eb4c32"/>
<circle cx="828.2" cy="478.9" r="2.3" fill="#ec5135"/>
<circle cx="831.7" cy="479.6" r="2.3" fill="#ee5c3b"/>
<circle cx="842.0" cy="483.2" r="2.3" fill="#f89d60"/>
<circle cx="845.5" cy="485.1" r="2.3" fill="#f8bb73"/>
<circle cx="849.0" cy="487.2" r="2.3" fill="#ecd888"/>
<circle cx="855.9" cy="492.4" r="2.3" fill="#9bf0b4"/>
<circle cx="859.3" cy="495.5" r="2.3" fill="#62e4cf"/>
<circle cx="809.2" cy="481.8" r="2.3" fill="#f27147"/>
<circle cx="836.8" cy="481.8" r="2.3" fill="#f27147"/>
<circle cx="784.9" cy="497.9" r="2.3" fill="#4ad9dd"/>
<circle cx="788.4" cy="494.7" r="2.3" fill="#86f0bd"/>
<circle cx="795.3" cy="489.2" r="2.3" fill="#e1df8f"/>
<circle cx="798.8" cy="486.9" r="2.3" fill="#f8c67a"/>
<circle cx="802.2" cy="484.9" r="2.3" fill="#f8a666"/>
<circle cx="812.6" cy="480.7" r="2.3" fill="#ef5e3c"/>
<circle cx="816.1" cy="480.0" r="2.3" fill="#ec5034"/>
<circle cx="823.0" cy="479.3" r="2.3" fill="#ea452e"/>
<circle cx="829.9" cy="480.0" r="2.3" fill="#ec5034"/>
<circle cx="833.4" cy="480.7" r="2.3" fill="#ef5e3c"/>
<circle cx="843.8" cy="484.9" r="2.3" fill="#f8a666"/>
<circle cx="847.2" cy="486.9" r="2.3" fill="#f8c67a"/>
<circle cx="850.7" cy="489.2" r="2.3" fill="#e1df8f"/>
<circle cx="857.6" cy="494.7" r="2.3" fill="#86f0bd"/>
<circle cx="861.1" cy="497.9" r="2.3" fill="#4ad9dd"/>
<circle cx="791.8" cy="491.8" r="2.3" fill="#baf0a6"/>
<circle cx="805.7" cy="483.2" r="2.3" fill="#f78a55"/>
<circle cx="819.5" cy="479.5" r="2.3" fill="#eb4830"/>
<circle cx="826.5" cy="479.5" r="2.3" fill="#eb4830"/>
<circle cx="840.3" cy="483.2" r="2.3" fill="#f78a55"/>
<circle cx="854.2" cy="491.8" r="2.3" fill="#baf0a6"/>
<circle cx="783.2" cy="500.4" r="2.3" fill="#37c8e9"/>
<circle cx="786.7" cy="497.1" r="2.3" fill="#6ee9c9"/>
<circle cx="797.0" cy="488.8" r="2.3" fill="#f5d282"/>
<circle cx="800.5" cy="486.6" r="2.3" fill="#f8b16d"/>
<circle cx="810.9" cy="482.0" r="2.3" fill="#ef623e"/>
<circle cx="814.3" cy="481.1" r="2.3" fill="#ec5135"/>
<circle cx="831.7" cy="481.1" r="2.3" fill="#ec5135"/>
<circle cx="835.1" cy="482.0" r="2.3" fill="#ef623e"/>
<circle cx="845.5" cy="486.6" r="2.3" fill="#f8b16d"/>
<circle cx="849.0" cy="488.8" r="2.3" fill="#f5d282"/>
<circle cx="859.3" cy="497.1" r="2.3" fill="#6ee9c9"/>
<circle cx="862.8" cy="500.4" r="2.3" fill="#37c8e9"/>
<circle cx="790.1" cy="494.0" r="2.3" fill="#a6f0af"/>
<circle cx="804.0" cy="484.8" r="2.3" fill="#f8935a"/>
<circle cx="807.4" cy="483.3" r="2.3" fill="#f4784b"/>
<circle cx="817.8" cy="480.5" r="2.3" fill="#ea462f"/>
<circle cx="821.3" cy="480.2" r="2.3" fill="#e9412c"/>
<circle cx="824.7" cy="480.2" r="2.3" fill="#e9412c"/>
<circle cx="828.2" cy="480.5" r="2.3" fill="#ea462f"/>
<circle cx="838.6" cy="483.3" r="2.3" fill="#f4784b"/>
<circle cx="842.0" cy="484.8" r="2.3" fill="#f8935a"/>
<circle cx="855.9" cy="494.0" r="2.3" fill="#a6f0af"/>
<circle cx="793.6" cy="491.2" r="2.3" fill="#d3e999"/>
<circle cx="852.4" cy="491.2" r="2.3" fill="#d3e999"/>
<circle cx="784.9" cy="499.6" r="2.3" fill="#52ddd8"/>
<circle cx="798.8" cy="488.6" r="2.3" fill="#f8bf75"/>
<circle cx="812.6" cy="482.4" r="2.3" fill="#ed5537"/>
<circle cx="833.4" cy="482.4" r="2.3" fill="#ed5537"/>
<circle cx="847.2" cy="488.6" r="2.3" fill="#f8bf75"/>
<circle cx="861.1" cy="499.6" r="2.3" fill="#52ddd8"/>
<circle cx="788.4" cy="496.4" r="2.3" fill="#8ef0b9"/>
<circle cx="802.2" cy="486.6" r="2.3" fill="#f89e61"/>
<circle cx="805.7" cy="484.9" r="2.3" fill="#f58250"/>
<circle cx="816.1" cy="481.7" r="2.3" fill="#eb4830"/>
<circle cx="819.5" cy="481.2" r="2.3" fill="#e93f2b"/>
<circle cx="826.5" cy="481.2" r="2.3" fill="#e93f2b"/>
<circle cx="829.9" cy="481.7" r="2.3" fill="#eb4830"/>
<circle cx="840.3" cy="484.9" r="2.3" fill="#f58250"/>
<circle cx="843.8" cy="486.6" r="2.3" fill="#f89e61"/>
<circle cx="857.6" cy="496.4" r="2.3" fill="#8ef0b9"/>
<circle cx="781.5" cy="503.1" r="2.3" fill="#38a9ed"/>
<circle cx="791.8" cy="493.5" r="2.3" fill="#c2f0a3"/>
<circle cx="795.3" cy="490.9" r="2.3" fill="#e7db8b"/>
<circle cx="809.2" cy="483.5" r="2.3" fill="#f16942"/>
<circle cx="823.0" cy="481.1" r="2.3" fill="#e93d2a"/>
<circle cx="836.8" cy="483.5" r="2.3" fill="#f16942"/>
<circle cx="850.7" cy="490.9" r="2.3" fill="#e7db8b"/>
<circle cx="854.2" cy="493.5" r="2.3" fill="#c2f0a3"/>
<circle cx="864.5" cy="503.1" r="2.3" fill="#38a9ed"/>
<circle cx="786.7" cy="498.9" r="2.3" fill="#73ebc6"/>
<circle cx="800.5" cy="488.5" r="2.3" fill="#f8ac69"/>
<circle cx="804.0" cy="486.7" r="2.3" fill="#f88e57"/>
<circle cx="814.3" cy="483.0" r="2.3" fill="#eb4c32"/>
<circle cx="817.8" cy="482.4" r="2.3" fill="#e9412c"/>
<circle cx="828.2" cy="482.4" r="2.3" fill="#e9412c"/>
<circle cx="831.7" cy="483.0" r="2.3" fill="#eb4c32"/>
<circle cx="842.0" cy="486.7" r="2.3" fill="#f88e57"/>
<circle cx="845.5" cy="488.5" r="2.3" fill="#f8ac69"/>
<circle cx="859.3" cy="498.9" r="2.3" fill="#73ebc6"/>
<circle cx="779.7" cy="506.0" r="2.3" fill="#3d81ed"/>
<circle cx="783.2" cy="502.3" r="2.3" fill="#36cde8"/>
<circle cx="790.1" cy="495.9" r="2.3" fill="#abf0ac"/>
<circle cx="793.6" cy="493.1" r="2.3" fill="#d7e696"/>
<circle cx="797.0" cy="490.7" r="2.3" fill="#f8cf7f"/>
<circle cx="807.4" cy="485.1" r="2.3" fill="#f27247"/>
<circle cx="810.9" cy="483.9" r="2.3" fill="#ee5c3b"/>
<circle cx="821.3" cy="482.1" r="2.3" fill="#e83b29"/>
<circle cx="824.7" cy="482.1" r="2.3" fill="#e83b29"/>
<circle cx="835.1" cy="483.9" r="2.3" fill="#ee5c3b"/>
<circle cx="838.6" cy="485.1" r="2.3" fill="#f27247"/>
<circle cx="849.0" cy="490.7" r="2.3" fill="#f8cf7f"/>
<circle cx="852.4" cy="493.1" r="2.3" fill="#d7e696"/>
<circle cx="855.9" cy="495.9" r="2.3" fill="#abf0ac"/>
<circle cx="862.8" cy="502.3" r="2.3" fill="#36cde8"/>
<circle cx="866.3" cy="506.0" r="2.3" fill="#3d81ed"/>
<circle cx="802.2" cy="488.6" r="2.3" fill="#f89c60"/>
<circle cx="816.1" cy="483.7" r="2.3" fill="#ea452e"/>
<circle cx="829.9" cy="483.7" r="2.3" fill="#ea452e"/>
<circle cx="843.8" cy="488.6" r="2.3" fill="#f89c60"/>
<circle cx="778.0" cy="509.0" r="2.3" fill="#4b3fe0"/>
<circle cx="781.5" cy="505.2" r="2.3" fill="#38acec"/>
<circle cx="788.4" cy="498.4" r="2.3" fill="#91f0b8"/>
<circle cx="791.8" cy="495.5" r="2.3" fill="#c5f0a1"/>
<circle cx="795.3" cy="492.9" r="2.3" fill="#e9da8a"/>
<circle cx="805.7" cy="486.9" r="2.3" fill="#f57f4e"/>
<circle cx="809.2" cy="485.6" r="2.3" fill="#f06640"/>
<circle cx="819.5" cy="483.3" r="2.3" fill="#e93d2a"/>
<circle cx="823.0" cy="483.1" r="2.3" fill="#e83a28"/>
<circle cx="826.5" cy="483.3" r="2.3" fill="#e93d2a"/>
<circle cx="836.8" cy="485.6" r="2.3" fill="#f06640"/>
<circle cx="840.3" cy="486.9" r="2.3" fill="#f57f4e"/>
<circle cx="850.7" cy="492.9" r="2.3" fill="#e9da8a"/>
<circle cx="854.2" cy="495.5" r="2.3" fill="#c5f0a1"/>
<circle cx="857.6" cy="498.4" r="2.3" fill="#91f0b8"/>
<circle cx="864.5" cy="505.2" r="2.3" fill="#38acec"/>
<circle cx="868.0" cy="509.0" r="2.3" fill="#4b3fe0"/>
<circle cx="784.9" cy="501.6" r="2.3" fill="#55ded7"/>
<circle cx="798.8" cy="490.6" r="2.3" fill="#f8bc74"/>
<circle cx="812.6" cy="484.5" r="2.3" fill="#ed5336"/>
<circle cx="833.4" cy="484.5" r="2.3" fill="#ed5336"/>
<circle cx="847.2" cy="490.6" r="2.3" fill="#f8bc74"/>
<circle cx="861.1" cy="501.6" r="2.3" fill="#55ded7"/>
<circle cx="779.7" cy="508.2" r="2.3" fill="#3d81ed"/>
<circle cx="790.1" cy="498.1" r="2.3" fill="#abf0ac"/>
<circle cx="793.6" cy="495.3" r="2.3" fill="#d7e696"/>
<circle cx="804.0" cy="488.9" r="2.3" fill="#f88e57"/>
<circle cx="807.4" cy="487.3" r="2.3" fill="#f27247"/>
<circle cx="817.8" cy="484.6" r="2.3" fill="#e9412c"/>
<circle cx="821.3" cy="484.3" r="2.3" fill="#e83b29"/>
<circle cx="824.7" cy="484.3" r="2.3" fill="#e83b29"/>
<circle cx="828.2" cy="484.6" r="2.3" fill="#e9412c"/>
<circle cx="838.6" cy="487.3" r="2.3" fill="#f27247"/>
<circle cx="842.0" cy="488.9" r="2.3" fill="#f88e57"/>
<circle cx="852.4" cy="495.3" r="2.3" fill="#d7e696"/>
<circle cx="855.9" cy="498.1" r="2.3" fill="#abf0ac"/>
<circle cx="866.3" cy="508.2" r="2.3" fill="#3d81ed"/>
<circle cx="783.2" cy="504.5" r="2.3" fill="#36cde8"/>
<circle cx="797.0" cy="492.9" r="2.3" fill="#f8cf7f"/>
<circle cx="800.5" cy="490.7" r="2.3" fill="#f8ac69"/>
<circle cx="810.9" cy="486.1" r="2.3" fill="#ee5c3b"/>
<circle cx="814.3" cy="485.2" r="2.3" fill="#eb4c32"/>
<circle cx="831.7" cy="485.2" r="2.3" fill="#eb4c32"/>
<circle cx="835.1" cy="486.1" r="2.3" fill="#ee5c3b"/>
<circle cx="845.5" cy="490.7" r="2.3" fill="#f8ac69"/>
<circle cx="849.0" cy="492.9" r="2.3" fill="#f8cf7f"/>
<circle cx="862.8" cy="504.5" r="2.3" fill="#36cde8"/>
<circle cx="786.7" cy="501.1" r="2.3" fill="#73ebc6"/>
<circle cx="859.3" cy="501.1" r="2.3" fill="#73ebc6"/>
<circle cx="791.8" cy="497.9" r="2.3" fill="#c2f0a3"/>
<circle cx="805.7" cy="489.3" r="2.3" fill="#f58250"/>
<circle cx="819.5" cy="485.6" r="2.3" fill="#e93f2b"/>
<circle cx="823.0" cy="485.4" r="2.3" fill="#e93d2a"/>
<circle cx="826.5" cy="485.6" r="2.3" fill="#e93f2b"/>
<circle cx="840.3" cy="489.3" r="2.3" fill="#f58250"/>
<circle cx="854.2" cy="497.9" r="2.3" fill="#c2f0a3"/>
<circle cx="781.5" cy="507.5" r="2.3" fill="#38a9ed"/>
<circle cx="795.3" cy="495.2" r="2.3" fill="#e7db8b"/>
<circle cx="798.8" cy="492.9" r="2.3" fill="#f8bf75"/>
<circle cx="809.2" cy="487.9" r="2.3" fill="#f16942"/>
<circle cx="812.6" cy="486.8" r="2.3" fill="#ed5537"/>
<circle cx="833.4" cy="486.8" r="2.3" fill="#ed5537"/>
<circle cx="836.8" cy="487.9" r="2.3" fill="#f16942"/>
<circle cx="847.2" cy="492.9" r="2.3" fill="#f8bf75"/>
<circle cx="850.7" cy="495.2" r="2.3" fill="#e7db8b"/>
<circle cx="864.5" cy="507.5" r="2.3" fill="#38a9ed"/>
<circle cx="784.9" cy="504.0" r="2.3" fill="#52ddd8"/>
<circle cx="788.4" cy="500.8" r="2.3" fill="#8ef0b9"/>
<circle cx="802.2" cy="491.0" r="2.3" fill="#f89e61"/>
<circle cx="816.1" cy="486.1" r="2.3" fill="#eb4830"/>
<circle cx="829.9" cy="486.1" r="2.3" fill="#eb4830"/>
<circle cx="843.8" cy="491.0" r="2.3" fill="#f89e61"/>
<circle cx="857.6" cy="500.8" r="2.3" fill="#8ef0b9"/>
<circle cx="861.1" cy="504.0" r="2.3" fill="#52ddd8"/>
<circle cx="821.3" cy="486.8" r="2.3" fill="#e9412c"/>
<circle cx="824.7" cy="486.8" r="2.3" fill="#e9412c"/>
<circle cx="793.6" cy="497.8" r="2.3" fill="#d3e999"/>
<circle cx="797.0" cy="495.3" r="2.3" fill="#f5d282"/>
<circle cx="807.4" cy="489.8" r="2.3" fill="#f4784b"/>
<circle cx="810.9" cy="488.6" r="2.3" fill="#ef623e"/>
<circle cx="835.1" cy="488.6" r="2.3" fill="#ef623e"/>
<circle cx="838.6" cy="489.8" r="2.3" fill="#f4784b"/>
<circle cx="849.0" cy="495.3" r="2.3" fill="#f5d282"/>
<circle cx="852.4" cy="497.8" r="2.3" fill="#d3e999"/>
<circle cx="783.2" cy="507.0" r="2.3" fill="#37c8e9"/>
<circle cx="786.7" cy="503.6" r="2.3" fill="#6ee9c9"/>
<circle cx="790.1" cy="500.6" r="2.3" fill="#a6f0af"/>
<circle cx="800.5" cy="493.2" r="2.3" fill="#f8b16d"/>
<circle cx="804.0" cy="491.4" r="2.3" fill="#f8935a"/>
<circle cx="814.3" cy="487.7" r="2.3" fill="#ec5135"/>
<circle cx="817.8" cy="487.1" r="2.3" fill="#ea462f"/>
<circle cx="828.2" cy="487.1" r="2.3" fill="#ea462f"/>
<circle cx="831.7" cy="487.7" r="2.3" fill="#ec5135"/>
<circle cx="842.0" cy="491.4" r="2.3" fill="#f8935a"/>
<circle cx="845.5" cy="493.2" r="2.3" fill="#f8b16d"/>
<circle cx="855.9" cy="500.6" r="2.3" fill="#a6f0af"/>
<circle cx="859.3" cy="503.6" r="2.3" fill="#6ee9c9"/>
<circle cx="862.8" cy="507.0" r="2.3" fill="#37c8e9"/>
<circle cx="823.0" cy="488.1" r="2.3" fill="#ea452e"/>
<circle cx="795.3" cy="497.9" r="2.3" fill="#e1df8f"/>
<circle cx="809.2" cy="490.5" r="2.3" fill="#f27147"/>
<circle cx="836.8" cy="490.5" r="2.3" fill="#f27147"/>
<circle cx="850.7" cy="497.9" r="2.3" fill="#e1df8f"/>
<circle cx="784.9" cy="506.6" r="2.3" fill="#4ad9dd"/>
<circle cx="788.4" cy="503.4" r="2.3" fill="#86f0bd"/>
<circle cx="798.8" cy="495.6" r="2.3" fill="#f8c67a"/>
<circle cx="802.2" cy="493.6" r="2.3" fill="#f8a666"/>
<circle cx="812.6" cy="489.5" r="2.3" fill="#ef5e3c"/>
<circle cx="816.1" cy="488.7" r="2.3" fill="#ec5034"/>
<circle cx="819.5" cy="488.2" r="2.3" fill="#eb4830"/>
<circle cx="826.5" cy="488.2" r="2.3" fill="#eb4830"/>
<circle cx="829.9" cy="488.7" r="2.3" fill="#ec5034"/>
<circle cx="833.4" cy="489.5" r="2.3" fill="#ef5e3c"/>
<circle cx="843.8" cy="493.6" r="2.3" fill="#f8a666"/>
<circle cx="847.2" cy="495.6" r="2.3" fill="#f8c67a"/>
<circle cx="857.6" cy="503.4" r="2.3" fill="#86f0bd"/>
<circle cx="861.1" cy="506.6" r="2.3" fill="#4ad9dd"/>
<circle cx="791.8" cy="500.5" r="2.3" fill="#baf0a6"/>
<circle cx="805.7" cy="491.9" r="2.3" fill="#f78a55"/>
<circle cx="840.3" cy="491.9" r="2.3" fill="#f78a55"/>
<circle cx="854.2" cy="500.5" r="2.3" fill="#baf0a6"/>
<circle cx="786.7" cy="506.4" r="2.3" fill="#62e4cf"/>
<circle cx="797.0" cy="498.1" r="2.3" fill="#ecd888"/>
<circle cx="800.5" cy="496.0" r="2.3" fill="#f8bb73"/>
<circle cx="810.9" cy="491.4" r="2.3" fill="#f16d44"/>
<circle cx="814.3" cy="490.5" r="2.3" fill="#ee5c3b"/>
<circle cx="817.8" cy="489.9" r="2.3" fill="#ec5135"/>
<circle cx="821.3" cy="489.6" r="2.3" fill="#eb4c32"/>
<circle cx="824.7" cy="489.6" r="2.3" fill="#eb4c32"/>
<circle cx="828.2" cy="489.9" r="2.3" fill="#ec5135"/>
<circle cx="831.7" cy="490.5" r="2.3" fill="#ee5c3b"/>
<circle cx="835.1" cy="491.4" r="2.3" fill="#f16d44"/>
<circle cx="845.5" cy="496.0" r="2.3" fill="#f8bb73"/>
<circle cx="849.0" cy="498.1" r="2.3" fill="#ecd888"/>
<circle cx="859.3" cy="506.4" r="2.3" fill="#62e4cf"/>
<circle cx="790.1" cy="503.4" r="2.3" fill="#9bf0b4"/>
<circle cx="793.6" cy="500.6" r="2.3" fill="#cbee9e"/>
<circle cx="804.0" cy="494.2" r="2.3" fill="#f89d60"/>
<circle cx="807.4" cy="492.6" r="2.3" fill="#f68351"/>
<circle cx="838.6" cy="492.6" r="2.3" fill="#f68351"/>
<circle cx="842.0" cy="494.2" r="2.3" fill="#f89d60"/>
<circle cx="852.4" cy="500.6" r="2.3" fill="#cbee9e"/>
<circle cx="855.9" cy="503.4" r="2.3" fill="#9bf0b4"/>
<circle cx="798.8" cy="498.5" r="2.3" fill="#f6d181"/>
<circle cx="812.6" cy="492.4" r="2.3" fill="#f16b44"/>
<circle cx="816.1" cy="491.6" r="2.3" fill="#ef5e3c"/>
<circle cx="819.5" cy="491.2" r="2.3" fill="#ed5537"/>
<circle cx="826.5" cy="491.2" r="2.3" fill="#ed5537"/>
<circle cx="829.9" cy="491.6" r="2.3" fill="#ef5e3c"/>
<circle cx="833.4" cy="492.4" r="2.3" fill="#f16b44"/>
<circle cx="847.2" cy="498.5" r="2.3" fill="#f6d181"/>
<circle cx="788.4" cy="506.4" r="2.3" fill="#78edc4"/>
<circle cx="791.8" cy="503.4" r="2.3" fill="#acf0ac"/>
<circle cx="802.2" cy="496.6" r="2.3" fill="#f8b26d"/>
<circle cx="805.7" cy="494.9" r="2.3" fill="#f8975c"/>
<circle cx="840.3" cy="494.9" r="2.3" fill="#f8975c"/>
<circle cx="843.8" cy="496.6" r="2.3" fill="#f8b26d"/>
<circle cx="854.2" cy="503.4" r="2.3" fill="#acf0ac"/>
<circle cx="857.6" cy="506.4" r="2.3" fill="#78edc4"/>
<circle cx="795.3" cy="500.8" r="2.3" fill="#d6e696"/>
<circle cx="809.2" cy="493.5" r="2.3" fill="#f57f4e"/>
<circle cx="823.0" cy="491.0" r="2.3" fill="#ed5336"/>
<circle cx="836.8" cy="493.5" r="2.3" fill="#f57f4e"/>
<circle cx="850.7" cy="500.8" r="2.3" fill="#d6e696"/>
<circle cx="814.3" cy="493.6" r="2.3" fill="#f16d44"/>
<circle cx="817.8" cy="493.0" r="2.3" fill="#ef623e"/>
<circle cx="828.2" cy="493.0" r="2.3" fill="#ef623e"/>
<circle cx="831.7" cy="493.6" r="2.3" fill="#f16d44"/>
<circle cx="790.1" cy="506.5" r="2.3" fill="#8af0bb"/>
<circle cx="800.5" cy="499.1" r="2.3" fill="#f8ca7c"/>
<circle cx="804.0" cy="497.3" r="2.3" fill="#f8ac69"/>
<circle cx="842.0" cy="497.3" r="2.3" fill="#f8ac69"/>
<circle cx="845.5" cy="499.1" r="2.3" fill="#f8ca7c"/>
<circle cx="855.9" cy="506.5" r="2.3" fill="#8af0bb"/>
<circle cx="793.6" cy="503.7" r="2.3" fill="#bbf0a5"/>
<circle cx="797.0" cy="501.2" r="2.3" fill="#e0e090"/>
<circle cx="807.4" cy="495.7" r="2.3" fill="#f8935a"/>
<circle cx="810.9" cy="494.5" r="2.3" fill="#f57e4e"/>
<circle cx="821.3" cy="492.7" r="2.3" fill="#ee5c3b"/>
<circle cx="824.7" cy="492.7" r="2.3" fill="#ee5c3b"/>
<circle cx="835.1" cy="494.5" r="2.3" fill="#f57e4e"/>
<circle cx="838.6" cy="495.7" r="2.3" fill="#f8935a"/>
<circle cx="849.0" cy="501.2" r="2.3" fill="#e0e090"/>
<circle cx="852.4" cy="503.7" r="2.3" fill="#bbf0a5"/>
<circle cx="816.1" cy="494.9" r="2.3" fill="#f27147"/>
<circle cx="829.9" cy="494.9" r="2.3" fill="#f27147"/>
<circle cx="802.2" cy="499.8" r="2.3" fill="#f8c478"/>
<circle cx="843.8" cy="499.8" r="2.3" fill="#f8c478"/>
<circle cx="791.8" cy="506.7" r="2.3" fill="#99f0b4"/>
<circle cx="795.3" cy="504.1" r="2.3" fill="#c7f0a0"/>
<circle cx="805.7" cy="498.1" r="2.3" fill="#f8a867"/>
<circle cx="809.2" cy="496.7" r="2.3" fill="#f89259"/>
<circle cx="812.6" cy="495.7" r="2.3" fill="#f57f4e"/>
<circle cx="819.5" cy="494.4" r="2.3" fill="#f16942"/>
<circle cx="823.0" cy="494.3" r="2.3" fill="#f06640"/>
<circle cx="826.5" cy="494.4" r="2.3" fill="#f16942"/>
<circle cx="833.4" cy="495.7" r="2.3" fill="#f57f4e"/>
<circle cx="836.8" cy="496.7" r="2.3" fill="#f89259"/>
<circle cx="840.3" cy="498.1" r="2.3" fill="#f8a867"/>
<circle cx="850.7" cy="504.1" r="2.3" fill="#c7f0a0"/>
<circle cx="854.2" cy="506.7" r="2.3" fill="#99f0b4"/>
<circle cx="798.8" cy="501.8" r="2.3" fill="#e7db8b"/>
<circle cx="847.2" cy="501.8" r="2.3" fill="#e7db8b"/>
<circle cx="793.6" cy="507.1" r="2.3" fill="#a6f0af"/>
<circle cx="804.0" cy="500.7" r="2.3" fill="#f8c076"/>
<circle cx="807.4" cy="499.1" r="2.3" fill="#f8a766"/>
<circle cx="810.9" cy="497.9" r="2.3" fill="#f8935a"/>
<circle cx="814.3" cy="497.0" r="2.3" fill="#f68351"/>
<circle cx="817.8" cy="496.4" r="2.3" fill="#f4784b"/>
<circle cx="821.3" cy="496.1" r="2.3" fill="#f27247"/>
<circle cx="824.7" cy="496.1" r="2.3" fill="#f27247"/>
<circle cx="828.2" cy="496.4" r="2.3" fill="#f4784b"/>
<circle cx="831.7" cy="497.0" r="2.3" fill="#f68351"/>
<circle cx="835.1" cy="497.9" r="2.3" fill="#f8935a"/>
<circle cx="838.6" cy="499.1" r="2.3" fill="#f8a766"/>
<circle cx="842.0" cy="500.7" r="2.3" fill="#f8c076"/>
<circle cx="852.4" cy="507.1" r="2.3" fill="#a6f0af"/>
<circle cx="797.0" cy="504.7" r="2.3" fill="#cfeb9b"/>
<circle cx="800.5" cy="502.5" r="2.3" fill="#ecd888"/>
<circle cx="845.5" cy="502.5" r="2.3" fill="#ecd888"/>
<circle cx="849.0" cy="504.7" r="2.3" fill="#cfeb9b"/>
<circle cx="805.7" cy="501.7" r="2.3" fill="#f8bf75"/>
<circle cx="809.2" cy="500.3" r="2.3" fill="#f8a867"/>
<circle cx="812.6" cy="499.2" r="2.3" fill="#f8975c"/>
<circle cx="819.5" cy="498.0" r="2.3" fill="#f58250"/>
<circle cx="823.0" cy="497.9" r="2.3" fill="#f57f4e"/>
<circle cx="826.5" cy="498.0" r="2.3" fill="#f58250"/>
<circle cx="833.4" cy="499.2" r="2.3" fill="#f8975c"/>
<circle cx="836.8" cy="500.3" r="2.3" fill="#f8a867"/>
<circle cx="840.3" cy="501.7" r="2.3" fill="#f8bf75"/>
<circle cx="795.3" cy="507.7" r="2.3" fill="#aff0ab"/>
<circle cx="798.8" cy="505.4" r="2.3" fill="#d4e898"/>
<circle cx="847.2" cy="505.4" r="2.3" fill="#d4e898"/>
<circle cx="850.7" cy="507.7" r="2.3" fill="#aff0ab"/>
<circle cx="802.2" cy="503.4" r="2.3" fill="#f0d686"/>
<circle cx="816.1" cy="498.5" r="2.3" fill="#f78a55"/>
<circle cx="829.9" cy="498.5" r="2.3" fill="#f78a55"/>
<circle cx="843.8" cy="503.4" r="2.3" fill="#f0d686"/>
<circle cx="807.4" cy="502.9" r="2.3" fill="#f8c076"/>
<circle cx="810.9" cy="501.6" r="2.3" fill="#f8ac69"/>
<circle cx="821.3" cy="499.8" r="2.3" fill="#f88e57"/>
<circle cx="824.7" cy="499.8" r="2.3" fill="#f88e57"/>
<circle cx="835.1" cy="501.6" r="2.3" fill="#f8ac69"/>
<circle cx="838.6" cy="502.9" r="2.3" fill="#f8c076"/>
<circle cx="797.0" cy="508.4" r="2.3" fill="#b6f0a8"/>
<circle cx="849.0" cy="508.4" r="2.3" fill="#b6f0a8"/>
<circle cx="800.5" cy="506.2" r="2.3" fill="#d7e696"/>
<circle cx="804.0" cy="504.4" r="2.3" fill="#f1d585"/>
<circle cx="814.3" cy="500.7" r="2.3" fill="#f89d60"/>
<circle cx="817.8" cy="500.1" r="2.3" fill="#f8935a"/>
<circle cx="828.2" cy="500.1" r="2.3" fill="#f8935a"/>
<circle cx="831.7" cy="500.7" r="2.3" fill="#f89d60"/>
<circle cx="842.0" cy="504.4" r="2.3" fill="#f1d585"/>
<circle cx="845.5" cy="506.2" r="2.3" fill="#d7e696"/>
<circle cx="809.2" cy="504.2" r="2.3" fill="#f8c478"/>
<circle cx="823.0" cy="501.7" r="2.3" fill="#f89c60"/>
<circle cx="836.8" cy="504.2" r="2.3" fill="#f8c478"/>
<circle cx="798.8" cy="509.2" r="2.3" fill="#baf0a6"/>
<circle cx="802.2" cy="507.2" r="2.3" fill="#d9e595"/>
<circle cx="805.7" cy="505.6" r="2.3" fill="#f0d686"/>
<circle cx="812.6" cy="503.1" r="2.3" fill="#f8b26d"/>
<circle cx="816.1" cy="502.3" r="2.3" fill="#f8a666"/>
<circle cx="819.5" cy="501.9" r="2.3" fill="#f89e61"/>
<circle cx="826.5" cy="501.9" r="2.3" fill="#f89e61"/>
<circle cx="829.9" cy="502.3" r="2.3" fill="#f8a666"/>
<circle cx="833.4" cy="503.1" r="2.3" fill="#f8b26d"/>
<circle cx="840.3" cy="505.6" r="2.3" fill="#f0d686"/>
<circle cx="843.8" cy="507.2" r="2.3" fill="#d9e595"/>
<circle cx="847.2" cy="509.2" r="2.3" fill="#baf0a6"/>
<circle cx="800.5" cy="510.3" r="2.3" fill="#bbf0a5"/>
<circle cx="804.0" cy="508.4" r="2.3" fill="#d7e696"/>
<circle cx="807.4" cy="506.9" r="2.3" fill="#ecd888"/>
<circle cx="810.9" cy="505.7" r="2.3" fill="#f8ca7c"/>
<circle cx="814.3" cy="504.7" r="2.3" fill="#f8bb73"/>
<circle cx="817.8" cy="504.1" r="2.3" fill="#f8b16d"/>
<circle cx="821.3" cy="503.8" r="2.3" fill="#f8ac69"/>
<circle cx="824.7" cy="503.8" r="2.3" fill="#f8ac69"/>
<circle cx="828.2" cy="504.1" r="2.3" fill="#f8b16d"/>
<circle cx="831.7" cy="504.7" r="2.3" fill="#f8bb73"/>
<circle cx="835.1" cy="505.7" r="2.3" fill="#f8ca7c"/>
<circle cx="838.6" cy="506.9" r="2.3" fill="#ecd888"/>
<circle cx="842.0" cy="508.4" r="2.3" fill="#d7e696"/>
<circle cx="845.5" cy="510.3" r="2.3" fill="#bbf0a5"/>
<circle cx="802.2" cy="511.4" r="2.3" fill="#baf0a6"/>
<circle cx="805.7" cy="509.7" r="2.3" fill="#d4e898"/>
<circle cx="812.6" cy="507.3" r="2.3" fill="#f6d181"/>
<circle cx="816.1" cy="506.5" r="2.3" fill="#f8c67a"/>
<circle cx="819.5" cy="506.1" r="2.3" fill="#f8bf75"/>
<circle cx="826.5" cy="506.1" r="2.3" fill="#f8bf75"/>
<circle cx="829.9" cy="506.5" r="2.3" fill="#f8c67a"/>
<circle cx="833.4" cy="507.3" r="2.3" fill="#f6d181"/>
<circle cx="840.3" cy="509.7" r="2.3" fill="#d4e898"/>
<circle cx="843.8" cy="511.4" r="2.3" fill="#baf0a6"/>
<circle cx="809.2" cy="508.4" r="2.3" fill="#e7db8b"/>
<circle cx="823.0" cy="505.9" r="2.3" fill="#f8bc74"/>
<circle cx="836.8" cy="508.4" r="2.3" fill="#e7db8b"/>
<circle cx="804.0" cy="512.7" r="2.3" fill="#b6f0a8"/>
<circle cx="814.3" cy="509.1" r="2.3" fill="#ecd888"/>
<circle cx="817.8" cy="508.4" r="2.3" fill="#f5d282"/>
<circle cx="828.2" cy="508.4" r="2.3" fill="#f5d282"/>
<circle cx="831.7" cy="509.1" r="2.3" fill="#ecd888"/>
<circle cx="842.0" cy="512.7" r="2.3" fill="#b6f0a8"/>
<circle cx="807.4" cy="511.2" r="2.3" fill="#cfeb9b"/>
<circle cx="810.9" cy="510.0" r="2.3" fill="#e0e090"/>
<circle cx="821.3" cy="508.1" r="2.3" fill="#f8cf7f"/>
<circle cx="824.7" cy="508.1" r="2.3" fill="#f8cf7f"/>
<circle cx="835.1" cy="510.0" r="2.3" fill="#e0e090"/>
<circle cx="838.6" cy="511.2" r="2.3" fill="#cfeb9b"/>
<circle cx="816.1" cy="511.0" r="2.3" fill="#e1df8f"/>
<circle cx="829.9" cy="511.0" r="2.3" fill="#e1df8f"/>
<circle cx="805.7" cy="514.2" r="2.3" fill="#aff0ab"/>
<circle cx="809.2" cy="512.8" r="2.3" fill="#c7f0a0"/>
<circle cx="812.6" cy="511.8" r="2.3" fill="#d6e696"/>
<circle cx="819.5" cy="510.5" r="2.3" fill="#e7db8b"/>
<circle cx="823.0" cy="510.4" r="2.3" fill="#e9da8a"/>
<circle cx="826.5" cy="510.5" r="2.3" fill="#e7db8b"/>
<circle cx="833.4" cy="511.8" r="2.3" fill="#d6e696"/>
<circle cx="836.8" cy="512.8" r="2.3" fill="#c7f0a0"/>
<circle cx="840.3" cy="514.2" r="2.3" fill="#aff0ab"/>
<circle cx="807.4" cy="515.8" r="2.3" fill="#a6f0af"/>
<circle cx="810.9" cy="514.6" r="2.3" fill="#bbf0a5"/>
<circle cx="814.3" cy="513.7" r="2.3" fill="#cbee9e"/>
<circle cx="817.8" cy="513.1" r="2.3" fill="#d3e999"/>
<circle cx="821.3" cy="512.8" r="2.3" fill="#d7e696"/>
<circle cx="824.7" cy="512.8" r="2.3" fill="#d7e696"/>
<circle cx="828.2" cy="513.1" r="2.3" fill="#d3e999"/>
<circle cx="831.7" cy="513.7" r="2.3" fill="#cbee9e"/>
<circle cx="835.1" cy="514.6" r="2.3" fill="#bbf0a5"/>
<circle cx="838.6" cy="515.8" r="2.3" fill="#a6f0af"/>
<circle cx="809.2" cy="517.6" r="2.3" fill="#99f0b4"/>
<circle cx="812.6" cy="516.6" r="2.3" fill="#acf0ac"/>
<circle cx="819.5" cy="515.3" r="2.3" fill="#c2f0a3"/>
<circle cx="823.0" cy="515.2" r="2.3" fill="#c5f0a1"/>
<circle cx="826.5" cy="515.3" r="2.3" fill="#c2f0a3"/>
<circle cx="833.4" cy="516.6" r="2.3" fill="#acf0ac"/>
<circle cx="836.8" cy="517.6" r="2.3" fill="#99f0b4"/>
<circle cx="816.1" cy="515.8" r="2.3" fill="#baf0a6"/>
<circle cx="829.9" cy="515.8" r="2.3" fill="#baf0a6"/>
<circle cx="810.9" cy="519.6" r="2.3" fill="#8af0bb"/>
<circle cx="821.3" cy="517.7" r="2.3" fill="#abf0ac"/>
<circle cx="824.7" cy="517.7" r="2.3" fill="#abf0ac"/>
<circle cx="835.1" cy="519.6" r="2.3" fill="#8af0bb"/>
<circle cx="814.3" cy="518.6" r="2.3" fill="#9bf0b4"/>
<circle cx="817.8" cy="518.0" r="2.3" fill="#a6f0af"/>
<circle cx="828.2" cy="518.0" r="2.3" fill="#a6f0af"/>
<circle cx="831.7" cy="518.6" r="2.3" fill="#9bf0b4"/>
<circle cx="823.0" cy="520.3" r="2.3" fill="#91f0b8"/>
<circle cx="812.6" cy="521.7" r="2.3" fill="#78edc4"/>
<circle cx="816.1" cy="520.9" r="2.3" fill="#86f0bd"/>
<circle cx="819.5" cy="520.4" r="2.3" fill="#8ef0b9"/>
<circle cx="826.5" cy="520.4" r="2.3" fill="#8ef0b9"/>
<circle cx="829.9" cy="520.9" r="2.3" fill="#86f0bd"/>
<circle cx="833.4" cy="521.7" r="2.3" fill="#78edc4"/>
<circle cx="814.3" cy="523.9" r="2.3" fill="#62e4cf"/>
<circle cx="817.8" cy="523.3" r="2.3" fill="#6ee9c9"/>
<circle cx="821.3" cy="523.0" r="2.3" fill="#73ebc6"/>
<circle cx="824.7" cy="523.0" r="2.3" fill="#73ebc6"/>
<circle cx="828.2" cy="523.3" r="2.3" fill="#6ee9c9"/>
<circle cx="831.7" cy="523.9" r="2.3" fill="#62e4cf"/>
<circle cx="816.1" cy="526.3" r="2.3" fill="#4ad9dd"/>
<circle cx="819.5" cy="525.8" r="2.3" fill="#52ddd8"/>
<circle cx="826.5" cy="525.8" r="2.3" fill="#52ddd8"/>
<circle cx="829.9" cy="526.3" r="2.3" fill="#4ad9dd"/>
<circle cx="823.0" cy="525.7" r="2.3" fill="#55ded7"/>
<circle cx="817.8" cy="528.8" r="2.3" fill="#37c8e9"/>
<circle cx="828.2" cy="528.8" r="2.3" fill="#37c8e9"/>
<circle cx="821.3" cy="528.5" r="2.3" fill="#36cde8"/>
<circle cx="824.7" cy="528.5" r="2.3" fill="#36cde8"/>
<circle cx="819.5" cy="531.5" r="2.3" fill="#38a9ed"/>
<circle cx="823.0" cy="531.4" r="2.3" fill="#38acec"/>
<circle cx="826.5" cy="531.5" r="2.3" fill="#38a9ed"/>
<circle cx="821.3" cy="534.4" r="2.3" fill="#3d81ed"/>
<circle cx="824.7" cy="534.4" r="2.3" fill="#3d81ed"/>
<circle cx="823.0" cy="537.4" r="2.3" fill="#4b3fe0"/>
<circle cx="778.5" cy="511.2" r="1.8" fill="#111"/>
<path d="M913.5,444.6 C909.5,444.6 907.4,446.5 907.4,451 L907.4,482 C907.4,490 905.5,494.5 902,494.5 C905.5,494.5 907.4,499 907.4,507 L907.4,538 C907.4,542.5 909.5,544.4 913.5,544.4" fill="none" stroke="#8a8a8a" stroke-width="2.5" stroke-linecap="round"/>
<path d="M902.5,494.5 L913,494.5" stroke="#8a8a8a" stroke-width="2.5"/>
<polygon points="913,440.40000000000003 920,444.6 913,448.8" fill="#8a8a8a"/>
<polygon points="912,490.3 919,494.5 912,498.7" fill="#8a8a8a"/>
<polygon points="913,540.1999999999999 920,544.4 913,548.6" fill="#8a8a8a"/>
<text x="935.8" y="448.4" font-size="8.3" font-weight="bold" font-family='Liberation Mono' fill="#111" textLength="37.5" lengthAdjust="spacingAndGlyphs">Viability</text>

<text x="939.8" y="493" font-size="8.3" font-weight="bold" font-family='Liberation Mono' fill="#111" textLength="12.4" lengthAdjust="spacingAndGlyphs">VCD</text>

<text x="937.5" y="541" font-size="8.3" font-weight="bold" font-family='Liberation Mono' fill="#111" textLength="20.3" lengthAdjust="spacingAndGlyphs">Titer</text>

<text x="1043" y="427.2" font-size="3.08" fill="#6c9cc6" textLength="15" lengthAdjust="spacingAndGlyphs">Viability</text>
<text x="1000" y="431.3" font-size="2.64" fill="#8e969e" textLength="5" lengthAdjust="spacingAndGlyphs">100</text>
<line x1="1008" y1="430.5" x2="1106" y2="430.5" stroke="#f2f4f6" stroke-width="0.4"/>
<text x="1000" y="437.3" font-size="2.64" fill="#8e969e" textLength="5" lengthAdjust="spacingAndGlyphs">100</text>
<line x1="1008" y1="436.5" x2="1106" y2="436.5" stroke="#f2f4f6" stroke-width="0.4"/>
<text x="1000" y="443.3" font-size="2.64" fill="#8e969e" textLength="5" lengthAdjust="spacingAndGlyphs">100</text>
<line x1="1008" y1="442.5" x2="1106" y2="442.5" stroke="#f2f4f6" stroke-width="0.4"/>
<text x="1000" y="449.3" font-size="2.64" fill="#8e969e" textLength="5" lengthAdjust="spacingAndGlyphs">100</text>
<line x1="1008" y1="448.5" x2="1106" y2="448.5" stroke="#f2f4f6" stroke-width="0.4"/>
<text x="1000" y="455.3" font-size="2.64" fill="#8e969e" textLength="5" lengthAdjust="spacingAndGlyphs">100</text>
<line x1="1008" y1="454.5" x2="1106" y2="454.5" stroke="#f2f4f6" stroke-width="0.4"/>
<text x="1000" y="461.3" font-size="2.64" fill="#8e969e" textLength="5" lengthAdjust="spacingAndGlyphs">100</text>
<line x1="1008" y1="460.5" x2="1106" y2="460.5" stroke="#f2f4f6" stroke-width="0.4"/>
<text x="1000" y="467.3" font-size="2.64" fill="#8e969e" textLength="5" lengthAdjust="spacingAndGlyphs">100</text>
<line x1="1008" y1="466.5" x2="1106" y2="466.5" stroke="#f2f4f6" stroke-width="0.4"/>
<line x1="1008.5" y1="429" x2="1008.5" y2="467" stroke="#d8dde2" stroke-width="0.6"/>
<line x1="1008.5" y1="467" x2="1106" y2="467" stroke="#d8dde2" stroke-width="0.6"/>
<text x="0" y="0" font-size="4.2" fill="#6f9fd0" transform="translate(997.2,452) rotate(-90)" textLength="7.4" lengthAdjust="spacingAndGlyphs">(%)</text>
<text x="1008" y="470.5" font-size="2.64" fill="#8e969e" textLength="2" lengthAdjust="spacingAndGlyphs">0</text>
<text x="1020" y="470.5" font-size="2.64" fill="#8e969e" textLength="2" lengthAdjust="spacingAndGlyphs">2</text>
<text x="1032" y="470.5" font-size="2.64" fill="#8e969e" textLength="2" lengthAdjust="spacingAndGlyphs">4</text>
<text x="1044" y="470.5" font-size="2.64" fill="#8e969e" textLength="2" lengthAdjust="spacingAndGlyphs">6</text>
<text x="1056" y="470.5" font-size="2.64" fill="#8e969e" textLength="2" lengthAdjust="spacingAndGlyphs">8</text>
<text x="1068" y="470.5" font-size="2.64" fill="#8e969e" textLength="2" lengthAdjust="spacingAndGlyphs">10</text>
<text x="1080" y="470.5" font-size="2.64" fill="#8e969e" textLength="2" lengthAdjust="spacingAndGlyphs">12</text>
<text x="1092" y="470.5" font-size="2.64" fill="#8e969e" textLength="2" lengthAdjust="spacingAndGlyphs">14</text>
<text x="1104" y="470.5" font-size="2.64" fill="#8e969e" textLength="2" lengthAdjust="spacingAndGlyphs">16</text>
<text x="1045" y="473.5" font-size="2.8600000000000003" fill="#7fa6c8" textLength="14" lengthAdjust="spacingAndGlyphs">Culture Days</text>
<polyline points="1010.0,431.3 1016.0,431.0 1022.0,430.8 1028.0,430.4 1034.0,431.2 1040.0,430.5 1046.0,431.0 1052.0,430.3 1058.0,430.3 1064.0,430.3 1070.0,430.3 1076.0,430.5 1082.0,430.7 1086.0,430.6 1091.4,444.3" fill="none" stroke="#4d8ccf" stroke-width="0.9"/><circle cx="1010.0" cy="431.3" r="1.1" fill="#4d8ccf"/><circle cx="1016.0" cy="431.0" r="1.1" fill="#4d8ccf"/><circle cx="1022.0" cy="430.8" r="1.1" fill="#4d8ccf"/><circle cx="1028.0" cy="430.4" r="1.1" fill="#4d8ccf"/><circle cx="1034.0" cy="431.2" r="1.1" fill="#4d8ccf"/><circle cx="1040.0" cy="430.5" r="1.1" fill="#4d8ccf"/><circle cx="1046.0" cy="431.0" r="1.1" fill="#4d8ccf"/><circle cx="1052.0" cy="430.3" r="1.1" fill="#4d8ccf"/><circle cx="1058.0" cy="430.3" r="1.1" fill="#4d8ccf"/><circle cx="1064.0" cy="430.3" r="1.1" fill="#4d8ccf"/><circle cx="1070.0" cy="430.3" r="1.1" fill="#4d8ccf"/><circle cx="1076.0" cy="430.5" r="1.1" fill="#4d8ccf"/><circle cx="1082.0" cy="430.7" r="1.1" fill="#4d8ccf"/><circle cx="1086.0" cy="430.6" r="1.1" fill="#4d8ccf"/><circle cx="1091.4" cy="444.3" r="1.1" fill="#4d8ccf"/>
<polyline points="1010.0,431.6 1016.0,431.3 1022.0,431.1 1028.0,430.7 1034.0,431.5 1040.0,430.8 1046.0,431.3 1052.0,430.6 1058.0,430.6 1064.0,430.6 1070.0,430.6 1076.0,430.8 1082.0,431.0 1086.0,430.9 1091.4,440.0" fill="none" stroke="#d83a3a" stroke-width="0.8"/><circle cx="1010.0" cy="431.6" r="1.0" fill="#d83a3a"/><circle cx="1016.0" cy="431.3" r="1.0" fill="#d83a3a"/><circle cx="1022.0" cy="431.1" r="1.0" fill="#d83a3a"/><circle cx="1028.0" cy="430.7" r="1.0" fill="#d83a3a"/><circle cx="1034.0" cy="431.5" r="1.0" fill="#d83a3a"/><circle cx="1040.0" cy="430.8" r="1.0" fill="#d83a3a"/><circle cx="1046.0" cy="431.3" r="1.0" fill="#d83a3a"/><circle cx="1052.0" cy="430.6" r="1.0" fill="#d83a3a"/><circle cx="1058.0" cy="430.6" r="1.0" fill="#d83a3a"/><circle cx="1064.0" cy="430.6" r="1.0" fill="#d83a3a"/><circle cx="1070.0" cy="430.6" r="1.0" fill="#d83a3a"/><circle cx="1076.0" cy="430.8" r="1.0" fill="#d83a3a"/><circle cx="1082.0" cy="431.0" r="1.0" fill="#d83a3a"/><circle cx="1086.0" cy="430.9" r="1.0" fill="#d83a3a"/><circle cx="1091.4" cy="440.0" r="1.0" fill="#d83a3a"/>
<polyline points="1010.0,431.9 1016.0,431.6 1022.0,431.4 1028.0,431.0 1034.0,431.8 1040.0,431.1 1046.0,431.6 1052.0,430.9 1058.0,430.9 1064.0,430.9 1070.0,430.9 1076.0,431.1 1082.0,431.3 1086.0,431.2 1091.4,433.2" fill="none" stroke="#222222" stroke-width="0.8"/><circle cx="1010.0" cy="431.9" r="1.0" fill="#222222"/><circle cx="1016.0" cy="431.6" r="1.0" fill="#222222"/><circle cx="1022.0" cy="431.4" r="1.0" fill="#222222"/><circle cx="1028.0" cy="431.0" r="1.0" fill="#222222"/><circle cx="1034.0" cy="431.8" r="1.0" fill="#222222"/><circle cx="1040.0" cy="431.1" r="1.0" fill="#222222"/><circle cx="1046.0" cy="431.6" r="1.0" fill="#222222"/><circle cx="1052.0" cy="430.9" r="1.0" fill="#222222"/><circle cx="1058.0" cy="430.9" r="1.0" fill="#222222"/><circle cx="1064.0" cy="430.9" r="1.0" fill="#222222"/><circle cx="1070.0" cy="430.9" r="1.0" fill="#222222"/><circle cx="1076.0" cy="431.1" r="1.0" fill="#222222"/><circle cx="1082.0" cy="431.3" r="1.0" fill="#222222"/><circle cx="1086.0" cy="431.2" r="1.0" fill="#222222"/><circle cx="1091.4" cy="433.2" r="1.0" fill="#222222"/>
<text x="1046" y="479.3" font-size="2.8600000000000003" fill="#8a949c" textLength="15" lengthAdjust="spacingAndGlyphs">Cell Growth</text>
<text x="989.5" y="480.8" font-size="2.53" fill="#949ca4" textLength="16" lengthAdjust="spacingAndGlyphs">1.5000E+07</text>
<line x1="1013" y1="480" x2="1106" y2="480" stroke="#f4f6f8" stroke-width="0.4"/>
<text x="989.5" y="486.3" font-size="2.53" fill="#949ca4" textLength="16" lengthAdjust="spacingAndGlyphs">1.5000E+07</text>
<line x1="1013" y1="485.5" x2="1106" y2="485.5" stroke="#f4f6f8" stroke-width="0.4"/>
<text x="989.5" y="491.8" font-size="2.53" fill="#949ca4" textLength="16" lengthAdjust="spacingAndGlyphs">1.5000E+07</text>
<line x1="1013" y1="491" x2="1106" y2="491" stroke="#f4f6f8" stroke-width="0.4"/>
<text x="989.5" y="497.3" font-size="2.53" fill="#949ca4" textLength="16" lengthAdjust="spacingAndGlyphs">1.5000E+07</text>
<line x1="1013" y1="496.5" x2="1106" y2="496.5" stroke="#f4f6f8" stroke-width="0.4"/>
<text x="989.5" y="502.8" font-size="2.53" fill="#949ca4" textLength="16" lengthAdjust="spacingAndGlyphs">1.5000E+07</text>
<line x1="1013" y1="502" x2="1106" y2="502" stroke="#f4f6f8" stroke-width="0.4"/>
<text x="989.5" y="508.3" font-size="2.53" fill="#949ca4" textLength="16" lengthAdjust="spacingAndGlyphs">1.5000E+07</text>
<line x1="1013" y1="507.5" x2="1106" y2="507.5" stroke="#f4f6f8" stroke-width="0.4"/>
<line x1="1013" y1="509.5" x2="1106" y2="509.5" stroke="#d8dde2" stroke-width="0.6"/>
<text x="0" y="0" font-size="4.5" fill="#7fa6cf" transform="translate(987.4,500.5) rotate(-90)" textLength="11.6" lengthAdjust="spacingAndGlyphs">Conc</text>
<text x="1014.0" y="512.5" font-size="2.53" fill="#949ca4" textLength="2" lengthAdjust="spacingAndGlyphs">0</text>
<text x="1025.5" y="512.5" font-size="2.53" fill="#949ca4" textLength="2" lengthAdjust="spacingAndGlyphs">2</text>
<text x="1037.0" y="512.5" font-size="2.53" fill="#949ca4" textLength="2" lengthAdjust="spacingAndGlyphs">4</text>
<text x="1048.5" y="512.5" font-size="2.53" fill="#949ca4" textLength="2" lengthAdjust="spacingAndGlyphs">6</text>
<text x="1060.0" y="512.5" font-size="2.53" fill="#949ca4" textLength="2" lengthAdjust="spacingAndGlyphs">8</text>
<text x="1071.5" y="512.5" font-size="2.53" fill="#949ca4" textLength="2" lengthAdjust="spacingAndGlyphs">10</text>
<text x="1083.0" y="512.5" font-size="2.53" fill="#949ca4" textLength="2" lengthAdjust="spacingAndGlyphs">12</text>
<text x="1094.5" y="512.5" font-size="2.53" fill="#949ca4" textLength="2" lengthAdjust="spacingAndGlyphs">14</text>
<text x="1106.0" y="512.5" font-size="2.53" fill="#949ca4" textLength="2" lengthAdjust="spacingAndGlyphs">16</text>
<text x="1040" y="515.5" font-size="2.64" fill="#8a949c" textLength="14" lengthAdjust="spacingAndGlyphs">Culture Days</text>
<polyline points="1015.0,508.4 1032.4,503.8 1038.1,501.4 1042.8,493.3 1048.6,486.4 1054.4,486.4 1060.0,485.5 1065.9,483.6 1070.6,485.2 1076.0,487.0 1082.1,488.2 1088.0,489.9 1092.5,487.5" fill="none" stroke="#3c6fc4" stroke-width="0.8"/><circle cx="1015.0" cy="508.4" r="1.0" fill="#3c6fc4"/><circle cx="1032.4" cy="503.8" r="1.0" fill="#3c6fc4"/><circle cx="1038.1" cy="501.4" r="1.0" fill="#3c6fc4"/><circle cx="1042.8" cy="493.3" r="1.0" fill="#3c6fc4"/><circle cx="1048.6" cy="486.4" r="1.0" fill="#3c6fc4"/><circle cx="1054.4" cy="486.4" r="1.0" fill="#3c6fc4"/><circle cx="1060.0" cy="485.5" r="1.0" fill="#3c6fc4"/><circle cx="1065.9" cy="483.6" r="1.0" fill="#3c6fc4"/><circle cx="1070.6" cy="485.2" r="1.0" fill="#3c6fc4"/><circle cx="1076.0" cy="487.0" r="1.0" fill="#3c6fc4"/><circle cx="1082.1" cy="488.2" r="1.0" fill="#3c6fc4"/><circle cx="1088.0" cy="489.9" r="1.0" fill="#3c6fc4"/><circle cx="1092.5" cy="487.5" r="1.0" fill="#3c6fc4"/>
<polyline points="1015.0,508.4 1032.4,503.8 1038.1,501.4 1042.8,494.5 1048.6,487.5 1054.4,486.2 1060.0,486.8 1065.9,485.5 1070.6,484.6 1076.0,486.0 1082.1,487.8 1088.0,490.8 1092.5,487.2" fill="none" stroke="#d83a3a" stroke-width="0.8"/><circle cx="1015.0" cy="508.4" r="1.0" fill="#d83a3a"/><circle cx="1032.4" cy="503.8" r="1.0" fill="#d83a3a"/><circle cx="1038.1" cy="501.4" r="1.0" fill="#d83a3a"/><circle cx="1042.8" cy="494.5" r="1.0" fill="#d83a3a"/><circle cx="1048.6" cy="487.5" r="1.0" fill="#d83a3a"/><circle cx="1054.4" cy="486.2" r="1.0" fill="#d83a3a"/><circle cx="1060.0" cy="486.8" r="1.0" fill="#d83a3a"/><circle cx="1065.9" cy="485.5" r="1.0" fill="#d83a3a"/><circle cx="1070.6" cy="484.6" r="1.0" fill="#d83a3a"/><circle cx="1076.0" cy="486.0" r="1.0" fill="#d83a3a"/><circle cx="1082.1" cy="487.8" r="1.0" fill="#d83a3a"/><circle cx="1088.0" cy="490.8" r="1.0" fill="#d83a3a"/><circle cx="1092.5" cy="487.2" r="1.0" fill="#d83a3a"/>
<polyline points="1015.0,508.4 1032.4,504.5 1038.1,502.0 1042.8,496.5 1048.6,492.2 1054.4,490.6 1060.0,490.4 1065.9,489.9 1070.6,490.3 1076.0,492.0 1082.1,494.5 1088.0,491.5 1092.5,491.5" fill="none" stroke="#222222" stroke-width="0.8"/><circle cx="1015.0" cy="508.4" r="1.0" fill="#222222"/><circle cx="1032.4" cy="504.5" r="1.0" fill="#222222"/><circle cx="1038.1" cy="502.0" r="1.0" fill="#222222"/><circle cx="1042.8" cy="496.5" r="1.0" fill="#222222"/><circle cx="1048.6" cy="492.2" r="1.0" fill="#222222"/><circle cx="1054.4" cy="490.6" r="1.0" fill="#222222"/><circle cx="1060.0" cy="490.4" r="1.0" fill="#222222"/><circle cx="1065.9" cy="489.9" r="1.0" fill="#222222"/><circle cx="1070.6" cy="490.3" r="1.0" fill="#222222"/><circle cx="1076.0" cy="492.0" r="1.0" fill="#222222"/><circle cx="1082.1" cy="494.5" r="1.0" fill="#222222"/><circle cx="1088.0" cy="491.5" r="1.0" fill="#222222"/><circle cx="1092.5" cy="491.5" r="1.0" fill="#222222"/>
<text x="1036" y="518.8" font-size="2.75" fill="#8a949c" textLength="18" lengthAdjust="spacingAndGlyphs">Antibody Titer</text>
<text x="992" y="522.8" font-size="2.53" fill="#949ca4" textLength="11" lengthAdjust="spacingAndGlyphs">3000000</text>
<text x="992" y="526.5" font-size="2.53" fill="#949ca4" textLength="11" lengthAdjust="spacingAndGlyphs">3000000</text>
<text x="992" y="530.1999999999999" font-size="2.53" fill="#949ca4" textLength="11" lengthAdjust="spacingAndGlyphs">3000000</text>
<text x="992" y="533.9" font-size="2.53" fill="#949ca4" textLength="11" lengthAdjust="spacingAndGlyphs">3000000</text>
<text x="992" y="537.5999999999999" font-size="2.53" fill="#949ca4" textLength="11" lengthAdjust="spacingAndGlyphs">3000000</text>
<text x="992" y="541.3" font-size="2.53" fill="#949ca4" textLength="11" lengthAdjust="spacingAndGlyphs">3000000</text>
<text x="992" y="545.0" font-size="2.53" fill="#949ca4" textLength="11" lengthAdjust="spacingAndGlyphs">3000000</text>
<text x="992" y="548.8" font-size="2.53" fill="#949ca4" textLength="11" lengthAdjust="spacingAndGlyphs">3000000</text>
<line x1="1008" y1="550" x2="1106" y2="550" stroke="#d8dde2" stroke-width="0.6"/>
<line x1="1008" y1="520" x2="1008" y2="550" stroke="#eceff2" stroke-width="0.4"/>
<text x="0" y="0" font-size="4.2" fill="#6f9fd0" transform="translate(987,540) rotate(-90)" textLength="7" lengthAdjust="spacingAndGlyphs">(ug)</text>
<text x="1008.0" y="552.5" font-size="2.53" fill="#949ca4" textLength="2.4" lengthAdjust="spacingAndGlyphs">0</text>
<text x="1027.5" y="552.5" font-size="2.53" fill="#949ca4" textLength="2.4" lengthAdjust="spacingAndGlyphs">2</text>
<text x="1047.0" y="552.5" font-size="2.53" fill="#949ca4" textLength="2.4" lengthAdjust="spacingAndGlyphs">4</text>
<text x="1066.5" y="552.5" font-size="2.53" fill="#949ca4" textLength="2.4" lengthAdjust="spacingAndGlyphs">6</text>
<text x="1086.0" y="552.5" font-size="2.53" fill="#949ca4" textLength="2.4" lengthAdjust="spacingAndGlyphs">8</text>
<text x="1105.5" y="552.5" font-size="2.53" fill="#949ca4" textLength="2.4" lengthAdjust="spacingAndGlyphs">10</text>
<text x="1043" y="555" font-size="2.64" fill="#8a949c" textLength="14" lengthAdjust="spacingAndGlyphs">Culture Days</text>
<polyline points="1026.3,541.5 1034.5,539.0 1043.0,536.6 1051.5,533.9 1060.0,531.8 1068.5,529.8 1077.0,527.2 1085.3,524.7" fill="none" stroke="#222222" stroke-width="0.9"/><circle cx="1026.3" cy="541.5" r="1.1" fill="#222222"/><circle cx="1034.5" cy="539.0" r="1.1" fill="#222222"/><circle cx="1043.0" cy="536.6" r="1.1" fill="#222222"/><circle cx="1051.5" cy="533.9" r="1.1" fill="#222222"/><circle cx="1060.0" cy="531.8" r="1.1" fill="#222222"/><circle cx="1068.5" cy="529.8" r="1.1" fill="#222222"/><circle cx="1077.0" cy="527.2" r="1.1" fill="#222222"/><circle cx="1085.3" cy="524.7" r="1.1" fill="#222222"/>
<polyline points="1026.3,541.3 1034.5,538.8 1043.0,536.4 1051.5,533.7 1060.0,531.6 1068.5,529.6 1077.0,527.0 1085.3,524.5" fill="none" stroke="#d83a3a" stroke-width="0.9"/><circle cx="1026.3" cy="541.3" r="1.0" fill="#d83a3a"/><circle cx="1034.5" cy="538.8" r="1.0" fill="#d83a3a"/><circle cx="1043.0" cy="536.4" r="1.0" fill="#d83a3a"/><circle cx="1051.5" cy="533.7" r="1.0" fill="#d83a3a"/><circle cx="1060.0" cy="531.6" r="1.0" fill="#d83a3a"/><circle cx="1068.5" cy="529.6" r="1.0" fill="#d83a3a"/><circle cx="1077.0" cy="527.0" r="1.0" fill="#d83a3a"/><circle cx="1085.3" cy="524.5" r="1.0" fill="#d83a3a"/>
<line x1="981" y1="557" x2="1040" y2="557" stroke="#c0c8d4" stroke-width="0.6"/>
<circle cx="985" cy="557" r="0.9" fill="#333"/>
<line x1="1052" y1="557" x2="1112" y2="557" stroke="#d8c8cc" stroke-width="0.6"/>
<circle cx="1055" cy="557" r="0.9" fill="#d83a3a"/>
<line x1="981" y1="558.8" x2="1030" y2="558.8" stroke="#d0d6de" stroke-width="0.5"/>
<g>
<polygon points="130.6,326 187.1,263 184.5,357 134.3,433.9" fill="#f9f9f9"/>
<polygon points="187.1,263 279.4,301 277.1,403.5 184.5,357" fill="#f6f6f6"/>
<polygon points="134.3,433.9 184.5,357 277.1,403.5 227.5,481.5" fill="#fafafa"/>
<line x1="130.6" y1="326.0" x2="134.3" y2="433.9" stroke="#d4d4d4" stroke-width="0.65"/>
<line x1="130.6" y1="326.0" x2="187.1" y2="263.0" stroke="#d4d4d4" stroke-width="0.65"/>
<line x1="187.1" y1="263.0" x2="184.5" y2="357.0" stroke="#d4d4d4" stroke-width="0.65"/>
<line x1="187.1" y1="263.0" x2="279.4" y2="301.0" stroke="#d4d4d4" stroke-width="0.65"/>
<line x1="134.3" y1="433.9" x2="227.5" y2="481.5" stroke="#d4d4d4" stroke-width="0.65"/>
<line x1="134.3" y1="433.9" x2="184.5" y2="357.0" stroke="#d4d4d4" stroke-width="0.65"/>
<line x1="138.7" y1="317.0" x2="141.5" y2="422.9" stroke="#d4d4d4" stroke-width="0.65"/>
<line x1="131.1" y1="341.4" x2="186.7" y2="276.4" stroke="#d4d4d4" stroke-width="0.65"/>
<line x1="200.3" y1="268.4" x2="197.7" y2="363.6" stroke="#d4d4d4" stroke-width="0.65"/>
<line x1="186.7" y1="276.4" x2="279.1" y2="315.6" stroke="#d4d4d4" stroke-width="0.65"/>
<line x1="141.5" y1="422.9" x2="234.6" y2="470.4" stroke="#d4d4d4" stroke-width="0.65"/>
<line x1="147.6" y1="440.7" x2="197.7" y2="363.6" stroke="#d4d4d4" stroke-width="0.65"/>
<line x1="146.7" y1="308.0" x2="148.6" y2="411.9" stroke="#d4d4d4" stroke-width="0.65"/>
<line x1="131.7" y1="356.8" x2="186.4" y2="289.9" stroke="#d4d4d4" stroke-width="0.65"/>
<line x1="213.5" y1="273.9" x2="211.0" y2="370.3" stroke="#d4d4d4" stroke-width="0.65"/>
<line x1="186.4" y1="289.9" x2="278.7" y2="330.3" stroke="#d4d4d4" stroke-width="0.65"/>
<line x1="148.6" y1="411.9" x2="241.7" y2="459.2" stroke="#d4d4d4" stroke-width="0.65"/>
<line x1="160.9" y1="447.5" x2="211.0" y2="370.3" stroke="#d4d4d4" stroke-width="0.65"/>
<line x1="154.8" y1="299.0" x2="155.8" y2="400.9" stroke="#d4d4d4" stroke-width="0.65"/>
<line x1="132.2" y1="372.2" x2="186.0" y2="303.3" stroke="#d4d4d4" stroke-width="0.65"/>
<line x1="226.7" y1="279.3" x2="224.2" y2="376.9" stroke="#d4d4d4" stroke-width="0.65"/>
<line x1="186.0" y1="303.3" x2="278.4" y2="344.9" stroke="#d4d4d4" stroke-width="0.65"/>
<line x1="155.8" y1="400.9" x2="248.8" y2="448.1" stroke="#d4d4d4" stroke-width="0.65"/>
<line x1="174.2" y1="454.3" x2="224.2" y2="376.9" stroke="#d4d4d4" stroke-width="0.65"/>
<line x1="162.9" y1="290.0" x2="163.0" y2="390.0" stroke="#d4d4d4" stroke-width="0.65"/>
<line x1="132.7" y1="387.7" x2="185.6" y2="316.7" stroke="#d4d4d4" stroke-width="0.65"/>
<line x1="239.8" y1="284.7" x2="237.4" y2="383.6" stroke="#d4d4d4" stroke-width="0.65"/>
<line x1="185.6" y1="316.7" x2="278.1" y2="359.6" stroke="#d4d4d4" stroke-width="0.65"/>
<line x1="163.0" y1="390.0" x2="255.8" y2="436.9" stroke="#d4d4d4" stroke-width="0.65"/>
<line x1="187.6" y1="461.1" x2="237.4" y2="383.6" stroke="#d4d4d4" stroke-width="0.65"/>
<line x1="171.0" y1="281.0" x2="170.2" y2="379.0" stroke="#d4d4d4" stroke-width="0.65"/>
<line x1="133.2" y1="403.1" x2="185.2" y2="330.1" stroke="#d4d4d4" stroke-width="0.65"/>
<line x1="253.0" y1="290.1" x2="250.6" y2="390.2" stroke="#d4d4d4" stroke-width="0.65"/>
<line x1="185.2" y1="330.1" x2="277.8" y2="374.2" stroke="#d4d4d4" stroke-width="0.65"/>
<line x1="170.2" y1="379.0" x2="262.9" y2="425.8" stroke="#d4d4d4" stroke-width="0.65"/>
<line x1="200.9" y1="467.9" x2="250.6" y2="390.2" stroke="#d4d4d4" stroke-width="0.65"/>
<line x1="179.0" y1="272.0" x2="177.3" y2="368.0" stroke="#d4d4d4" stroke-width="0.65"/>
<line x1="133.8" y1="418.5" x2="184.9" y2="343.6" stroke="#d4d4d4" stroke-width="0.65"/>
<line x1="266.2" y1="295.6" x2="263.9" y2="396.9" stroke="#d4d4d4" stroke-width="0.65"/>
<line x1="184.9" y1="343.6" x2="277.4" y2="388.9" stroke="#d4d4d4" stroke-width="0.65"/>
<line x1="177.3" y1="368.0" x2="270.0" y2="414.6" stroke="#d4d4d4" stroke-width="0.65"/>
<line x1="214.2" y1="474.7" x2="263.9" y2="396.9" stroke="#d4d4d4" stroke-width="0.65"/>
<line x1="187.1" y1="263.0" x2="184.5" y2="357.0" stroke="#d4d4d4" stroke-width="0.65"/>
<line x1="134.3" y1="433.9" x2="184.5" y2="357.0" stroke="#d4d4d4" stroke-width="0.65"/>
<line x1="279.4" y1="301.0" x2="277.1" y2="403.5" stroke="#d4d4d4" stroke-width="0.65"/>
<line x1="184.5" y1="357.0" x2="277.1" y2="403.5" stroke="#d4d4d4" stroke-width="0.65"/>
<line x1="184.5" y1="357.0" x2="277.1" y2="403.5" stroke="#d4d4d4" stroke-width="0.65"/>
<line x1="227.5" y1="481.5" x2="277.1" y2="403.5" stroke="#d4d4d4" stroke-width="0.65"/>
<line x1="130.6" y1="326" x2="134.3" y2="433.9" stroke="#8a8a8a" stroke-width="0.7"/>
<line x1="134.3" y1="433.9" x2="227.5" y2="481.5" stroke="#8a8a8a" stroke-width="0.7"/>
<line x1="227.5" y1="481.5" x2="277.1" y2="403.5" stroke="#8a8a8a" stroke-width="0.7"/>
<text x="127.8" y="336.3" font-size="4" fill="#666666" text-anchor="end">300</text>
<text x="127.8" y="352.59999999999997" font-size="4" fill="#666666" text-anchor="end">250</text>
<text x="127.8" y="369.09999999999997" font-size="4" fill="#666666" text-anchor="end">200</text>
<text x="127.8" y="385.2" font-size="4" fill="#666666" text-anchor="end">150</text>
<text x="127.8" y="400.7" font-size="4" fill="#666666" text-anchor="end">100</text>
<text x="127.8" y="416.3" font-size="4" fill="#666666" text-anchor="end">50</text>
<text x="127.8" y="432.09999999999997" font-size="4" fill="#666666" text-anchor="end">0</text>
<text x="119" y="384.5" font-size="4" fill="#555">z</text>
<text x="137.3" y="447.9" font-size="4" fill="#666666" text-anchor="middle">0</text>
<text x="150.5" y="454.8" font-size="4" fill="#666666" text-anchor="middle">50</text>
<text x="163.7" y="461.9" font-size="4" fill="#666666" text-anchor="middle">100</text>
<text x="176.8" y="468.59999999999997" font-size="4" fill="#666666" text-anchor="middle">150</text>
<text x="191" y="475.59999999999997" font-size="4" fill="#666666" text-anchor="middle">200</text>
<text x="205.2" y="482.7" font-size="4" fill="#666666" text-anchor="middle">250</text>
<text x="219.4" y="489.8" font-size="4" fill="#666666" text-anchor="middle">300</text>
<text x="174.8" y="475" font-size="4" fill="#555">y</text>
<text x="278.6" y="414.9" font-size="4" fill="#666666" text-anchor="middle">0</text>
<text x="271.5" y="426.4" font-size="4" fill="#666666" text-anchor="middle">50</text>
<text x="264.4" y="438.2" font-size="4" fill="#666666" text-anchor="middle">100</text>
<text x="257.3" y="449.9" font-size="4" fill="#666666" text-anchor="middle">150</text>
<text x="250.3" y="461.9" font-size="4" fill="#666666" text-anchor="middle">200</text>
<text x="242.2" y="474.59999999999997" font-size="4" fill="#666666" text-anchor="middle">250</text>
<text x="234.1" y="487.8" font-size="4" fill="#666666" text-anchor="middle">300</text>
<text x="260" y="455" font-size="4" fill="#555">x</text>
<circle cx="206.7" cy="370.6" r="0.95" fill="#777" opacity="0.6"/>
<circle cx="200.8" cy="354.5" r="0.95" fill="#777" opacity="0.6"/>
<circle cx="216.1" cy="360.9" r="0.95" fill="#777" opacity="0.6"/>
<circle cx="192.2" cy="365.5" r="0.95" fill="#777" opacity="0.6"/>
<circle cx="199.3" cy="382.4" r="0.95" fill="#777" opacity="0.6"/>
<circle cx="219.1" cy="378.9" r="0.95" fill="#777" opacity="0.6"/>
<circle cx="210.7" cy="345.4" r="0.95" fill="#777" opacity="0.6"/>
<circle cx="210.4" cy="390.1" r="0.95" fill="#777" opacity="0.6"/>
<circle cx="186.3" cy="378.1" r="0.95" fill="#777" opacity="0.6"/>
<circle cx="225.9" cy="353.5" r="0.95" fill="#777" opacity="0.6"/>
<circle cx="194.4" cy="340.9" r="0.95" fill="#777" opacity="0.6"/>
<circle cx="228.8" cy="370.6" r="0.95" fill="#777" opacity="0.6"/>
<circle cx="185.3" cy="351.6" r="0.95" fill="#777" opacity="0.6"/>
<circle cx="195.7" cy="396.6" r="0.95" fill="#777" opacity="0.6"/>
<circle cx="220.6" cy="338.3" r="0.95" fill="#777" opacity="0.6"/>
<circle cx="204.4" cy="332.1" r="0.95" fill="#777" opacity="0.6"/>
<circle cx="178.2" cy="363.9" r="0.95" fill="#777" opacity="0.6"/>
<circle cx="227.3" cy="389.7" r="0.95" fill="#777" opacity="0.6"/>
<circle cx="216.9" cy="400.5" r="0.95" fill="#777" opacity="0.6"/>
<circle cx="184.4" cy="392.1" r="0.95" fill="#777" opacity="0.6"/>
<circle cx="204.9" cy="405.6" r="0.95" fill="#777" opacity="0.6"/>
<circle cx="237.9" cy="364.6" r="0.95" fill="#777" opacity="0.6"/>
<circle cx="235.0" cy="348.0" r="0.95" fill="#777" opacity="0.6"/>
<circle cx="214.2" cy="325.3" r="0.95" fill="#777" opacity="0.6"/>
<circle cx="174.1" cy="377.3" r="0.95" fill="#777" opacity="0.6"/>
<circle cx="188.8" cy="329.5" r="0.95" fill="#777" opacity="0.6"/>
<circle cx="179.5" cy="340.0" r="0.95" fill="#777" opacity="0.6"/>
<circle cx="237.0" cy="382.5" r="0.95" fill="#777" opacity="0.6"/>
<circle cx="229.5" cy="333.1" r="0.95" fill="#777" opacity="0.6"/>
<circle cx="171.9" cy="352.1" r="0.95" fill="#777" opacity="0.6"/>
<circle cx="198.7" cy="321.1" r="0.95" fill="#777" opacity="0.6"/>
<circle cx="189.0" cy="406.9" r="0.95" fill="#777" opacity="0.6"/>
<circle cx="229.7" cy="401.5" r="0.95" fill="#777" opacity="0.6"/>
<circle cx="174.0" cy="391.2" r="0.95" fill="#777" opacity="0.6"/>
<circle cx="214.5" cy="413.0" r="0.95" fill="#777" opacity="0.6"/>
<circle cx="167.0" cy="365.4" r="0.95" fill="#777" opacity="0.6"/>
<circle cx="203.0" cy="416.2" r="0.95" fill="#777" opacity="0.6"/>
<circle cx="222.6" cy="320.3" r="0.95" fill="#777" opacity="0.6"/>
<circle cx="245.4" cy="360.4" r="0.95" fill="#777" opacity="0.6"/>
<circle cx="245.0" cy="377.7" r="0.95" fill="#777" opacity="0.6"/>
<circle cx="242.2" cy="344.1" r="0.95" fill="#777" opacity="0.6"/>
<circle cx="208.0" cy="314.7" r="0.95" fill="#777" opacity="0.6"/>
<circle cx="179.0" cy="404.7" r="0.95" fill="#777" opacity="0.6"/>
<circle cx="239.7" cy="395.3" r="0.95" fill="#777" opacity="0.6"/>
<circle cx="176.0" cy="330.2" r="0.95" fill="#777" opacity="0.6"/>
<circle cx="225.1" cy="412.5" r="0.95" fill="#777" opacity="0.6"/>
<circle cx="185.3" cy="320.2" r="0.95" fill="#777" opacity="0.6"/>
<circle cx="236.3" cy="329.3" r="0.95" fill="#777" opacity="0.6"/>
<circle cx="192.7" cy="416.6" r="0.95" fill="#777" opacity="0.6"/>
<circle cx="165.2" cy="379.4" r="0.95" fill="#777" opacity="0.6"/>
<circle cx="168.2" cy="342.0" r="0.95" fill="#777" opacity="0.6"/>
<circle cx="194.9" cy="312.5" r="0.95" fill="#777" opacity="0.6"/>
<circle cx="162.8" cy="355.2" r="0.95" fill="#777" opacity="0.6"/>
<circle cx="167.2" cy="393.2" r="0.95" fill="#777" opacity="0.6"/>
<circle cx="215.2" cy="310.5" r="0.95" fill="#777" opacity="0.6"/>
<circle cx="228.3" cy="316.9" r="0.95" fill="#777" opacity="0.6"/>
<circle cx="236.5" cy="407.4" r="0.95" fill="#777" opacity="0.6"/>
<circle cx="250.3" cy="357.6" r="0.95" fill="#777" opacity="0.6"/>
<circle cx="205.0" cy="423.3" r="0.95" fill="#777" opacity="0.6"/>
<circle cx="250.4" cy="374.5" r="0.95" fill="#777" opacity="0.6"/>
<circle cx="246.3" cy="391.4" r="0.95" fill="#777" opacity="0.6"/>
<circle cx="246.8" cy="341.4" r="0.95" fill="#777" opacity="0.6"/>
<circle cx="173.2" cy="405.9" r="0.95" fill="#777" opacity="0.6"/>
<circle cx="183.6" cy="416.4" r="0.95" fill="#777" opacity="0.6"/>
<circle cx="216.9" cy="422.4" r="0.95" fill="#777" opacity="0.6"/>
<circle cx="160.4" cy="369.2" r="0.95" fill="#777" opacity="0.6"/>
<circle cx="176.0" cy="321.8" r="0.95" fill="#777" opacity="0.6"/>
<circle cx="240.0" cy="326.7" r="0.95" fill="#777" opacity="0.6"/>
<circle cx="203.4" cy="307.5" r="0.95" fill="#777" opacity="0.6"/>
<circle cx="228.5" cy="417.1" r="0.95" fill="#777" opacity="0.6"/>
<circle cx="167.8" cy="333.0" r="1.15" fill="#262626" opacity="0.95"/>
<circle cx="185.7" cy="312.9" r="1.15" fill="#262626" opacity="0.95"/>
<circle cx="194.7" cy="423.3" r="1.15" fill="#262626" opacity="0.95"/>
<circle cx="161.4" cy="383.3" r="1.15" fill="#262626" opacity="0.95"/>
<circle cx="162.0" cy="345.9" r="1.15" fill="#262626" opacity="0.95"/>
<circle cx="241.9" cy="404.3" r="1.15" fill="#262626" opacity="0.95"/>
<circle cx="230.0" cy="314.6" r="1.15" fill="#262626" opacity="0.95"/>
<circle cx="218.5" cy="308.3" r="1.15" fill="#262626" opacity="0.95"/>
<circle cx="249.4" cy="388.8" r="1.15" fill="#262626" opacity="0.95"/>
<circle cx="252.2" cy="355.5" r="1.15" fill="#262626" opacity="0.95"/>
<circle cx="252.7" cy="372.3" r="1.15" fill="#262626" opacity="0.95"/>
<circle cx="165.6" cy="396.7" r="1.15" fill="#262626" opacity="0.95"/>
<circle cx="248.0" cy="339.2" r="1.15" fill="#262626" opacity="0.95"/>
<circle cx="211.1" cy="425.6" r="1.15" fill="#262626" opacity="0.95"/>
<circle cx="195.7" cy="307.5" r="1.15" fill="#262626" opacity="0.95"/>
<circle cx="182.7" cy="418.1" r="1.15" fill="#262626" opacity="0.95"/>
<circle cx="159.3" cy="359.8" r="1.15" fill="#262626" opacity="0.95"/>
<circle cx="172.9" cy="408.6" r="1.15" fill="#262626" opacity="0.95"/>
<circle cx="239.8" cy="324.4" r="1.15" fill="#262626" opacity="0.95"/>
<circle cx="233.1" cy="414.9" r="1.15" fill="#262626" opacity="0.95"/>
<circle cx="172.2" cy="324.6" r="1.15" fill="#262626" opacity="0.95"/>
<circle cx="208.5" cy="306.2" r="1.15" fill="#262626" opacity="0.95"/>
<circle cx="221.9" cy="422.3" r="1.15" fill="#262626" opacity="0.95"/>
<circle cx="197.6" cy="424.8" r="1.15" fill="#262626" opacity="0.95"/>
<circle cx="181.9" cy="314.7" r="1.15" fill="#262626" opacity="0.95"/>
<circle cx="159.7" cy="374.0" r="1.15" fill="#262626" opacity="0.95"/>
<circle cx="165.4" cy="336.8" r="1.15" fill="#262626" opacity="0.95"/>
<circle cx="242.8" cy="402.0" r="1.15" fill="#262626" opacity="0.95"/>
<circle cx="225.6" cy="312.8" r="1.15" fill="#262626" opacity="0.95"/>
<circle cx="249.0" cy="386.7" r="1.15" fill="#262626" opacity="0.95"/>
<circle cx="250.8" cy="353.3" r="1.15" fill="#262626" opacity="0.95"/>
<circle cx="163.4" cy="387.7" r="1.15" fill="#262626" opacity="0.95"/>
<circle cx="251.7" cy="370.2" r="1.15" fill="#262626" opacity="0.95"/>
<circle cx="245.7" cy="336.7" r="1.15" fill="#262626" opacity="0.95"/>
<circle cx="161.9" cy="350.3" r="1.15" fill="#262626" opacity="0.95"/>
<circle cx="188.1" cy="419.6" r="1.15" fill="#262626" opacity="0.95"/>
<circle cx="195.3" cy="309.4" r="1.15" fill="#262626" opacity="0.95"/>
<circle cx="206.8" cy="424.0" r="1.15" fill="#262626" opacity="0.95"/>
<circle cx="234.8" cy="321.5" r="1.15" fill="#262626" opacity="0.95"/>
<circle cx="169.9" cy="400.3" r="1.15" fill="#262626" opacity="0.95"/>
<circle cx="213.3" cy="309.4" r="1.15" fill="#262626" opacity="0.95"/>
<circle cx="232.1" cy="412.6" r="1.15" fill="#262626" opacity="0.95"/>
<circle cx="178.4" cy="411.1" r="1.15" fill="#262626" opacity="0.95"/>
<circle cx="184.9" cy="316.1" r="1.15" fill="#262626" opacity="0.95"/>
<circle cx="219.2" cy="420.1" r="1.15" fill="#262626" opacity="0.95"/>
<circle cx="161.8" cy="364.4" r="1.15" fill="#262626" opacity="0.95"/>
<circle cx="174.1" cy="327.0" r="1.15" fill="#262626" opacity="0.95"/>
<circle cx="239.9" cy="399.5" r="1.15" fill="#262626" opacity="0.95"/>
<circle cx="168.7" cy="340.0" r="1.15" fill="#262626" opacity="0.95"/>
<circle cx="198.7" cy="419.3" r="1.15" fill="#262626" opacity="0.95"/>
<circle cx="239.6" cy="333.2" r="1.15" fill="#262626" opacity="0.95"/>
<circle cx="165.1" cy="378.2" r="1.15" fill="#262626" opacity="0.95"/>
<circle cx="246.1" cy="350.4" r="1.15" fill="#262626" opacity="0.95"/>
<circle cx="222.6" cy="316.9" r="1.15" fill="#262626" opacity="0.95"/>
<circle cx="245.3" cy="384.2" r="1.15" fill="#262626" opacity="0.95"/>
<circle cx="247.6" cy="367.6" r="1.15" fill="#262626" opacity="0.95"/>
<circle cx="197.3" cy="314.6" r="1.15" fill="#262626" opacity="0.95"/>
<circle cx="210.2" cy="315.1" r="1.15" fill="#262626" opacity="0.95"/>
<circle cx="227.0" cy="409.5" r="1.15" fill="#262626" opacity="0.95"/>
<circle cx="171.2" cy="391.2" r="1.15" fill="#262626" opacity="0.95"/>
<circle cx="189.1" cy="412.1" r="1.15" fill="#262626" opacity="0.95"/>
<circle cx="212.4" cy="416.1" r="1.15" fill="#262626" opacity="0.95"/>
<circle cx="167.4" cy="353.9" r="1.15" fill="#262626" opacity="0.95"/>
<circle cx="181.3" cy="327.4" r="1.15" fill="#262626" opacity="0.95"/>
<circle cx="179.6" cy="402.6" r="1.15" fill="#262626" opacity="0.95"/>
<circle cx="229.5" cy="327.3" r="1.15" fill="#262626" opacity="0.95"/>
<circle cx="233.8" cy="396.1" r="1.15" fill="#262626" opacity="0.95"/>
<circle cx="238.7" cy="345.9" r="1.15" fill="#262626" opacity="0.95"/>
<circle cx="169.9" cy="367.7" r="1.15" fill="#262626" opacity="0.95"/>
<circle cx="192.2" cy="324.0" r="1.15" fill="#262626" opacity="0.95"/>
<circle cx="176.7" cy="341.2" r="1.15" fill="#262626" opacity="0.95"/>
<circle cx="240.8" cy="363.9" r="1.15" fill="#262626" opacity="0.95"/>
<circle cx="203.4" cy="410.3" r="1.15" fill="#262626" opacity="0.95"/>
<circle cx="238.7" cy="380.7" r="1.15" fill="#262626" opacity="0.95"/>
<circle cx="206.6" cy="323.2" r="1.15" fill="#262626" opacity="0.95"/>
<circle cx="219.1" cy="405.0" r="1.15" fill="#262626" opacity="0.95"/>
<circle cx="175.7" cy="380.7" r="1.15" fill="#262626" opacity="0.95"/>
<circle cx="217.7" cy="328.4" r="1.15" fill="#262626" opacity="0.95"/>
<circle cx="229.0" cy="339.1" r="1.15" fill="#262626" opacity="0.95"/>
<circle cx="193.4" cy="402.3" r="1.15" fill="#262626" opacity="0.95"/>
<circle cx="183.8" cy="392.4" r="1.15" fill="#262626" opacity="0.95"/>
<circle cx="177.5" cy="355.1" r="1.15" fill="#262626" opacity="0.95"/>
<circle cx="225.4" cy="391.4" r="1.15" fill="#262626" opacity="0.95"/>
<circle cx="187.7" cy="339.4" r="1.15" fill="#262626" opacity="0.95"/>
<circle cx="232.0" cy="358.3" r="1.15" fill="#262626" opacity="0.95"/>
<circle cx="198.9" cy="333.7" r="1.15" fill="#262626" opacity="0.95"/>
<circle cx="209.5" cy="398.7" r="1.15" fill="#262626" opacity="0.95"/>
<circle cx="230.1" cy="375.7" r="1.15" fill="#262626" opacity="0.95"/>
<circle cx="182.3" cy="368.3" r="1.15" fill="#262626" opacity="0.95"/>
<circle cx="213.1" cy="339.4" r="1.15" fill="#262626" opacity="0.95"/>
<circle cx="222.3" cy="350.4" r="1.15" fill="#262626" opacity="0.95"/>
<circle cx="199.4" cy="390.4" r="1.15" fill="#262626" opacity="0.95"/>
<circle cx="189.9" cy="380.2" r="1.15" fill="#262626" opacity="0.95"/>
<circle cx="190.2" cy="353.3" r="1.15" fill="#262626" opacity="0.95"/>
<circle cx="215.6" cy="384.8" r="1.15" fill="#262626" opacity="0.95"/>
<circle cx="220.4" cy="368.7" r="1.15" fill="#262626" opacity="0.95"/>
<circle cx="203.0" cy="348.0" r="1.15" fill="#262626" opacity="0.95"/>
<circle cx="196.7" cy="365.7" r="1.15" fill="#262626" opacity="0.95"/>
<circle cx="205.6" cy="376.2" r="1.15" fill="#262626" opacity="0.95"/>
<circle cx="210.9" cy="359.6" r="1.15" fill="#262626" opacity="0.95"/>
</g>
</g></svg>
</body></html>
